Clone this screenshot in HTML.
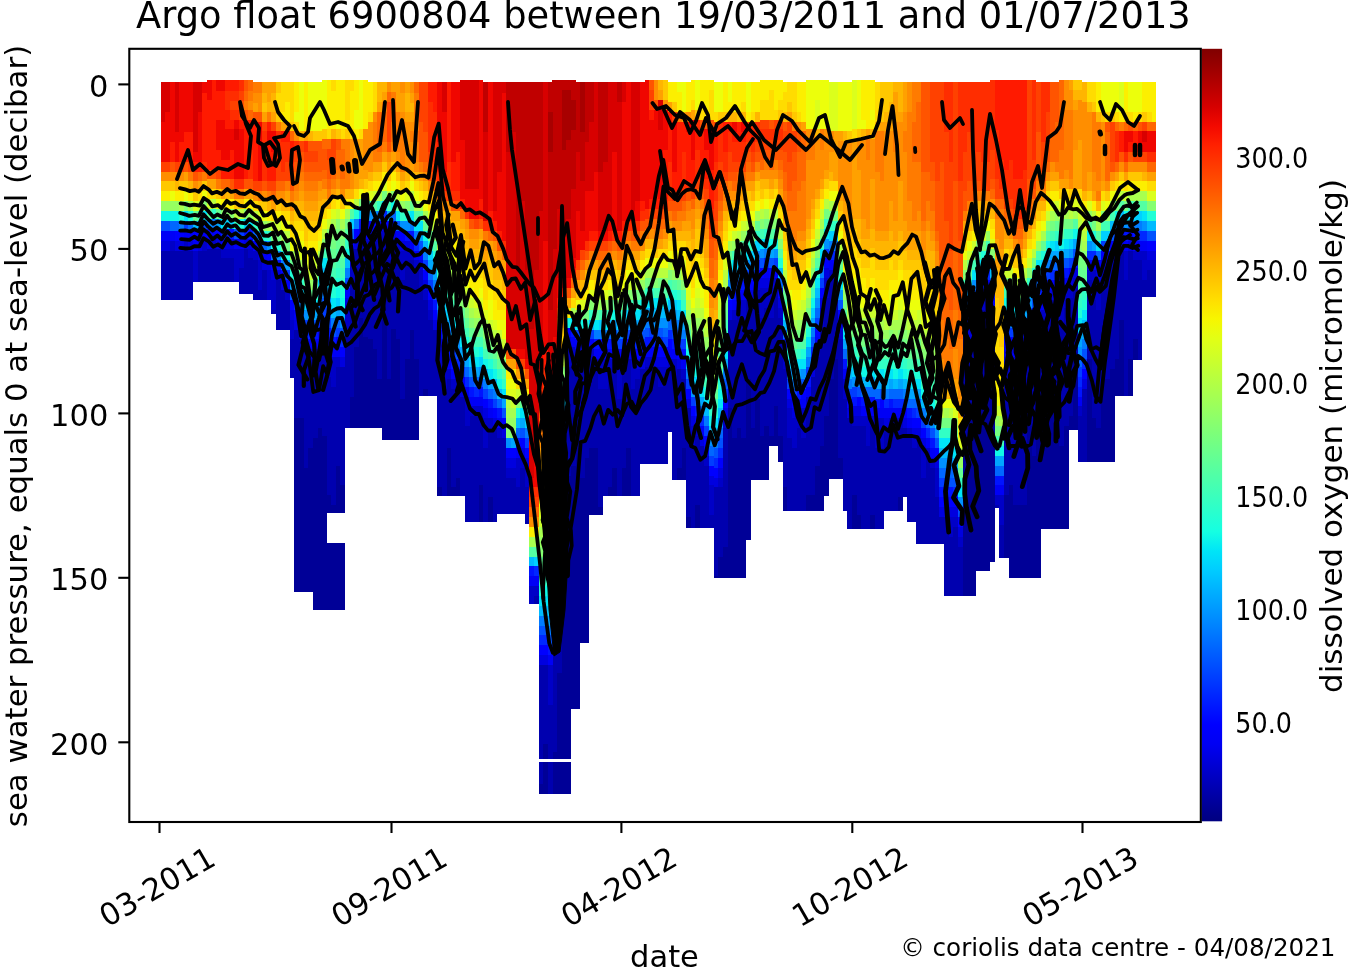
<!DOCTYPE html>
<html><head><meta charset="utf-8"><title>Argo float 6900804</title>
<style>
html,body{margin:0;padding:0;background:#fff;}
body{width:1350px;height:971px;position:relative;overflow:hidden;}
svg text{font-family:"DejaVu Sans","Liberation Sans",sans-serif;fill:#000;}
</style></head><body>
<svg width="1350" height="971" viewBox="0 0 1350 971" style="position:absolute;left:0;top:0">
<defs><linearGradient id="cb" x1="0" y1="1" x2="0" y2="0">
<stop offset="0.000" stop-color="#000080"/>
<stop offset="0.025" stop-color="#00009c"/>
<stop offset="0.050" stop-color="#0000b9"/>
<stop offset="0.075" stop-color="#0000d6"/>
<stop offset="0.100" stop-color="#0000f3"/>
<stop offset="0.125" stop-color="#0000ff"/>
<stop offset="0.150" stop-color="#0019ff"/>
<stop offset="0.175" stop-color="#0033ff"/>
<stop offset="0.200" stop-color="#004dff"/>
<stop offset="0.225" stop-color="#0066ff"/>
<stop offset="0.250" stop-color="#0080ff"/>
<stop offset="0.275" stop-color="#0099ff"/>
<stop offset="0.300" stop-color="#00b2ff"/>
<stop offset="0.325" stop-color="#00ccff"/>
<stop offset="0.350" stop-color="#00e5f7"/>
<stop offset="0.375" stop-color="#15ffe2"/>
<stop offset="0.400" stop-color="#29ffce"/>
<stop offset="0.425" stop-color="#3effb9"/>
<stop offset="0.450" stop-color="#52ffa5"/>
<stop offset="0.475" stop-color="#67ff90"/>
<stop offset="0.500" stop-color="#7bff7b"/>
<stop offset="0.525" stop-color="#90ff67"/>
<stop offset="0.550" stop-color="#a5ff52"/>
<stop offset="0.575" stop-color="#b9ff3e"/>
<stop offset="0.600" stop-color="#ceff29"/>
<stop offset="0.625" stop-color="#e2ff15"/>
<stop offset="0.650" stop-color="#f7f600"/>
<stop offset="0.675" stop-color="#ffde00"/>
<stop offset="0.700" stop-color="#ffc600"/>
<stop offset="0.725" stop-color="#ffaf00"/>
<stop offset="0.750" stop-color="#ff9700"/>
<stop offset="0.775" stop-color="#ff8000"/>
<stop offset="0.800" stop-color="#ff6800"/>
<stop offset="0.825" stop-color="#ff5000"/>
<stop offset="0.850" stop-color="#ff3900"/>
<stop offset="0.875" stop-color="#ff2100"/>
<stop offset="0.900" stop-color="#f30900"/>
<stop offset="0.925" stop-color="#d60000"/>
<stop offset="0.950" stop-color="#b90000"/>
<stop offset="0.975" stop-color="#9c0000"/>
<stop offset="1.000" stop-color="#800000"/>
</linearGradient></defs>
<rect x="0" y="0" width="1350" height="971" fill="#fff"/>
<g shape-rendering="crispEdges">
<path fill="#000097" d="M294.3 417.6h4.76v174.4h-4.76zM298.9 417.6h4.76v174.4h-4.76zM303.5 466.9h4.76v125.1h-4.76zM308.2 447.2h4.76v144.8h-4.76zM312.8 437.3h4.76v172.7h-4.76zM317.4 427.4h4.76v182.6h-4.76zM322.0 435.3h4.76v174.7h-4.76zM326.6 494.5h4.76v18.5h-4.76zM326.6 543.0h4.76v67.0h-4.76zM331.2 504.4h4.76v8.6h-4.76zM331.2 543.0h4.76v67.0h-4.76zM335.8 464.9h4.76v48.1h-4.76zM335.8 543.0h4.76v67.0h-4.76zM340.4 484.7h4.76v28.3h-4.76zM340.4 543.0h4.76v67.0h-4.76zM349.6 395.8h4.76v32.2h-4.76zM354.2 346.5h4.76v81.5h-4.76zM358.8 316.9h4.76v111.1h-4.76zM363.4 336.6h4.76v91.4h-4.76zM368.1 338.6h4.76v89.4h-4.76zM372.7 348.5h4.76v79.5h-4.76zM377.3 378.1h4.76v49.9h-4.76zM381.9 318.9h4.76v121.1h-4.76zM386.5 378.1h4.76v61.9h-4.76zM391.1 328.8h4.76v111.2h-4.76zM395.7 338.6h4.76v101.4h-4.76zM400.3 397.8h4.76v42.2h-4.76zM404.9 358.4h4.76v81.6h-4.76zM409.5 328.8h4.76v111.2h-4.76zM414.1 358.4h4.76v81.6h-4.76zM423.3 388.0h4.76v8.0h-4.76zM437.2 486.7h4.76v9.3h-4.76zM446.4 447.2h4.76v48.8h-4.76zM451.0 486.7h4.76v9.3h-4.76zM455.6 476.8h4.76v19.2h-4.76zM478.6 484.7h4.76v37.3h-4.76zM487.9 496.5h4.76v25.5h-4.76zM538.5 782.8h4.76v11.2h-4.76zM543.2 743.3h4.76v15.2h-4.76zM543.2 761.5h4.76v32.5h-4.76zM552.4 751.2h4.76v7.3h-4.76zM552.4 761.5h4.76v32.5h-4.76zM557.0 672.2h4.76v86.3h-4.76zM557.0 761.5h4.76v32.5h-4.76zM561.6 583.4h4.76v175.1h-4.76zM561.6 761.5h4.76v32.5h-4.76zM566.2 474.8h4.76v283.7h-4.76zM566.2 761.5h4.76v32.5h-4.76zM570.8 464.9h4.76v244.1h-4.76zM575.4 447.2h4.76v261.8h-4.76zM580.0 476.8h4.76v166.2h-4.76zM584.6 457.1h4.76v185.9h-4.76zM589.2 447.2h4.76v67.8h-4.76zM593.8 447.2h4.76v67.8h-4.76zM598.4 506.4h4.76v8.6h-4.76zM607.7 486.7h4.76v9.3h-4.76zM612.3 466.9h4.76v29.1h-4.76zM621.5 466.9h4.76v29.1h-4.76zM626.1 447.2h4.76v48.8h-4.76zM676.8 466.9h4.76v13.1h-4.76zM681.4 447.2h4.76v32.8h-4.76zM686.0 516.3h4.76v11.7h-4.76zM695.2 504.4h4.76v23.6h-4.76zM713.6 575.5h4.76v2.5h-4.76zM718.3 555.8h4.76v22.2h-4.76zM722.9 545.9h4.76v32.1h-4.76zM727.5 407.7h4.76v170.3h-4.76zM732.1 437.3h4.76v140.7h-4.76zM736.7 427.4h4.76v150.6h-4.76zM741.3 437.3h4.76v140.7h-4.76zM745.9 378.1h4.76v161.9h-4.76zM750.5 427.4h4.76v52.6h-4.76zM755.1 397.8h4.76v82.2h-4.76zM759.7 435.3h4.76v44.7h-4.76zM764.3 425.4h4.76v54.6h-4.76zM768.9 435.3h4.76v10.7h-4.76zM773.5 405.7h4.76v40.3h-4.76zM778.2 435.3h4.76v26.7h-4.76zM782.8 486.7h4.76v24.3h-4.76zM805.8 494.5h4.76v16.5h-4.76zM810.4 494.5h4.76v16.5h-4.76zM815.0 464.9h4.76v46.1h-4.76zM819.6 445.2h4.76v65.8h-4.76zM824.2 415.6h4.76v80.4h-4.76zM828.8 378.1h4.76v100.9h-4.76zM833.4 358.4h4.76v120.6h-4.76zM838.1 457.1h4.76v21.9h-4.76zM851.9 494.5h4.76v34.0h-4.76zM856.5 514.3h4.76v14.2h-4.76zM870.3 514.3h4.76v14.2h-4.76zM898.0 496.5h4.76v14.5h-4.76zM962.5 447.2h4.76v148.8h-4.76zM967.1 417.6h4.76v178.4h-4.76zM971.7 437.3h4.76v158.7h-4.76zM976.3 397.8h4.76v173.2h-4.76zM980.9 407.7h4.76v163.3h-4.76zM985.5 397.8h4.76v173.2h-4.76zM990.1 395.8h4.76v166.2h-4.76zM1003.9 494.5h4.76v63.5h-4.76zM1008.5 484.7h4.76v93.3h-4.76zM1013.2 504.4h4.76v73.6h-4.76zM1017.8 504.4h4.76v73.6h-4.76zM1022.4 504.4h4.76v73.6h-4.76zM1027.0 425.4h4.76v152.6h-4.76zM1031.6 455.1h4.76v122.9h-4.76zM1036.2 397.8h4.76v180.2h-4.76zM1040.8 447.2h4.76v81.8h-4.76zM1045.4 407.7h4.76v121.3h-4.76zM1050.0 378.1h4.76v150.9h-4.76zM1054.6 417.6h4.76v111.4h-4.76zM1059.2 445.2h4.76v83.8h-4.76zM1063.8 425.4h4.76v103.6h-4.76zM1068.5 415.6h4.76v14.4h-4.76zM1073.1 356.4h4.76v73.6h-4.76zM1086.9 358.4h4.76v103.6h-4.76zM1091.5 417.6h4.76v44.4h-4.76zM1096.1 427.4h4.76v34.6h-4.76zM1100.7 348.5h4.76v113.5h-4.76zM1105.3 378.1h4.76v83.9h-4.76zM1109.9 368.2h4.76v93.8h-4.76zM1114.5 358.4h4.76v37.6h-4.76zM1119.1 318.9h4.76v77.1h-4.76zM1128.4 358.4h4.76v37.6h-4.76zM1133.0 338.6h4.76v21.4h-4.76z"/>
<path fill="#0000af" d="M160.7 249.8h4.76v50.2h-4.76zM165.3 249.8h4.76v50.2h-4.76zM169.9 249.8h4.76v50.2h-4.76zM174.5 249.8h4.76v50.2h-4.76zM179.1 249.8h4.76v50.2h-4.76zM183.7 249.8h4.76v50.2h-4.76zM188.3 249.8h4.76v50.2h-4.76zM197.6 249.8h4.76v32.2h-4.76zM202.2 249.8h4.76v32.2h-4.76zM206.8 247.8h4.76v34.2h-4.76zM211.4 247.8h4.76v34.2h-4.76zM216.0 247.8h4.76v34.2h-4.76zM220.6 257.7h4.76v24.3h-4.76zM225.2 257.7h4.76v24.3h-4.76zM229.8 257.7h4.76v24.3h-4.76zM239.0 267.5h4.76v26.5h-4.76zM243.6 247.8h4.76v46.2h-4.76zM248.2 257.7h4.76v36.3h-4.76zM252.9 259.7h4.76v40.3h-4.76zM257.5 289.3h4.76v10.7h-4.76zM262.1 269.5h4.76v30.5h-4.76zM266.7 299.1h4.76v0.9h-4.76zM271.3 309.0h4.76v5.0h-4.76zM275.9 279.4h4.76v50.6h-4.76zM280.5 289.3h4.76v40.7h-4.76zM285.1 299.1h4.76v30.9h-4.76zM289.7 338.6h4.76v39.4h-4.76zM294.3 328.8h4.76v89.5h-4.76zM298.9 338.6h4.76v79.7h-4.76zM303.5 348.5h4.76v119.1h-4.76zM308.2 358.4h4.76v89.5h-4.76zM312.8 358.4h4.76v79.7h-4.76zM317.4 348.5h4.76v79.7h-4.76zM322.0 346.5h4.76v89.5h-4.76zM326.6 376.1h4.76v119.1h-4.76zM331.2 386.0h4.76v119.1h-4.76zM335.8 366.2h4.76v99.4h-4.76zM340.4 366.2h4.76v119.1h-4.76zM345.0 336.6h4.76v91.4h-4.76zM349.6 277.4h4.76v119.1h-4.76zM354.2 247.8h4.76v99.4h-4.76zM358.8 237.9h4.76v79.7h-4.76zM363.4 247.8h4.76v89.5h-4.76zM368.1 239.9h4.76v99.4h-4.76zM372.7 239.9h4.76v109.3h-4.76zM377.3 259.7h4.76v119.1h-4.76zM381.9 239.9h4.76v79.7h-4.76zM386.5 259.7h4.76v119.1h-4.76zM391.1 239.9h4.76v89.5h-4.76zM395.7 249.8h4.76v89.5h-4.76zM400.3 279.4h4.76v119.1h-4.76zM404.9 259.7h4.76v99.4h-4.76zM409.5 259.7h4.76v69.8h-4.76zM414.1 269.5h4.76v89.5h-4.76zM418.7 289.3h4.76v106.7h-4.76zM423.3 299.1h4.76v89.5h-4.76zM428.0 318.9h4.76v77.1h-4.76zM432.6 328.8h4.76v67.2h-4.76zM437.2 368.2h4.76v119.1h-4.76zM441.8 388.0h4.76v108.0h-4.76zM446.4 378.1h4.76v69.8h-4.76zM451.0 388.0h4.76v99.4h-4.76zM455.6 388.0h4.76v89.5h-4.76zM460.2 395.8h4.76v100.2h-4.76zM464.8 425.4h4.76v96.6h-4.76zM469.4 415.6h4.76v106.4h-4.76zM474.0 415.6h4.76v106.4h-4.76zM478.6 415.6h4.76v69.8h-4.76zM483.3 447.2h4.76v74.8h-4.76zM487.9 427.4h4.76v69.8h-4.76zM492.5 427.4h4.76v94.6h-4.76zM497.1 437.3h4.76v76.7h-4.76zM501.7 437.3h4.76v76.7h-4.76zM506.3 476.8h4.76v37.2h-4.76zM510.9 476.8h4.76v37.2h-4.76zM515.5 486.7h4.76v27.3h-4.76zM520.1 466.9h4.76v47.1h-4.76zM524.7 486.7h4.76v37.3h-4.76zM533.9 595.2h4.76v8.8h-4.76zM538.5 664.3h4.76v94.2h-4.76zM538.5 761.5h4.76v22.0h-4.76zM543.2 664.3h4.76v79.7h-4.76zM547.8 703.8h4.76v54.7h-4.76zM547.8 761.5h4.76v32.5h-4.76zM552.4 642.6h4.76v109.3h-4.76zM557.0 553.8h4.76v119.1h-4.76zM561.6 464.9h4.76v119.1h-4.76zM566.2 366.2h4.76v109.3h-4.76zM570.8 356.4h4.76v109.3h-4.76zM575.4 358.4h4.76v89.5h-4.76zM580.0 358.4h4.76v119.1h-4.76zM584.6 358.4h4.76v99.4h-4.76zM589.2 358.4h4.76v89.5h-4.76zM593.8 368.2h4.76v79.7h-4.76zM598.4 388.0h4.76v119.1h-4.76zM603.1 388.0h4.76v108.0h-4.76zM607.7 368.2h4.76v119.1h-4.76zM612.3 358.4h4.76v109.3h-4.76zM616.9 397.8h4.76v98.2h-4.76zM621.5 368.2h4.76v99.4h-4.76zM626.1 358.4h4.76v89.5h-4.76zM630.7 388.0h4.76v108.0h-4.76zM635.3 378.1h4.76v117.9h-4.76zM639.9 368.2h4.76v95.8h-4.76zM644.5 366.2h4.76v97.8h-4.76zM649.1 366.2h4.76v97.8h-4.76zM653.7 366.2h4.76v97.8h-4.76zM658.3 386.0h4.76v78.0h-4.76zM663.0 376.1h4.76v87.9h-4.76zM667.6 368.2h4.76v63.8h-4.76zM672.2 378.1h4.76v101.9h-4.76zM676.8 368.2h4.76v99.4h-4.76zM681.4 378.1h4.76v69.8h-4.76zM686.0 407.7h4.76v109.3h-4.76zM690.6 445.2h4.76v82.8h-4.76zM695.2 435.3h4.76v69.8h-4.76zM699.8 445.2h4.76v82.8h-4.76zM704.4 464.9h4.76v63.1h-4.76zM709.0 514.3h4.76v13.7h-4.76zM713.6 486.7h4.76v89.5h-4.76zM718.3 486.7h4.76v69.8h-4.76zM722.9 427.4h4.76v119.1h-4.76zM727.5 318.9h4.76v89.5h-4.76zM732.1 318.9h4.76v119.1h-4.76zM736.7 309.0h4.76v119.1h-4.76zM741.3 318.9h4.76v119.1h-4.76zM745.9 299.1h4.76v79.7h-4.76zM750.5 309.0h4.76v119.1h-4.76zM755.1 289.3h4.76v109.3h-4.76zM759.7 316.9h4.76v119.1h-4.76zM764.3 307.0h4.76v119.1h-4.76zM768.9 316.9h4.76v119.1h-4.76zM773.5 287.3h4.76v119.1h-4.76zM778.2 316.9h4.76v119.1h-4.76zM782.8 368.2h4.76v119.1h-4.76zM787.4 437.3h4.76v73.7h-4.76zM792.0 447.2h4.76v63.8h-4.76zM796.6 427.4h4.76v83.6h-4.76zM801.2 437.3h4.76v73.7h-4.76zM805.8 405.7h4.76v89.5h-4.76zM810.4 376.1h4.76v119.1h-4.76zM815.0 356.4h4.76v109.3h-4.76zM819.6 326.8h4.76v119.1h-4.76zM824.2 297.1h4.76v119.1h-4.76zM828.8 279.4h4.76v99.4h-4.76zM833.4 279.4h4.76v79.7h-4.76zM838.1 338.6h4.76v119.1h-4.76zM842.7 397.8h4.76v113.2h-4.76zM847.3 417.6h4.76v110.9h-4.76zM851.9 425.4h4.76v69.8h-4.76zM856.5 425.4h4.76v89.5h-4.76zM861.1 425.4h4.76v103.1h-4.76zM865.7 445.2h4.76v83.3h-4.76zM870.3 425.4h4.76v89.5h-4.76zM874.9 447.2h4.76v81.3h-4.76zM879.5 447.2h4.76v81.3h-4.76zM884.1 427.4h4.76v83.6h-4.76zM888.7 427.4h4.76v83.6h-4.76zM893.4 427.4h4.76v83.6h-4.76zM898.0 427.4h4.76v69.8h-4.76zM902.6 427.4h4.76v69.6h-4.76zM907.2 437.3h4.76v84.7h-4.76zM911.8 447.2h4.76v74.8h-4.76zM916.4 437.3h4.76v106.7h-4.76zM921.0 476.8h4.76v67.2h-4.76zM925.6 457.1h4.76v86.9h-4.76zM930.2 466.9h4.76v77.1h-4.76zM934.8 496.5h4.76v47.5h-4.76zM939.4 516.3h4.76v27.7h-4.76zM944.0 516.3h4.76v79.7h-4.76zM948.6 536.0h4.76v60.0h-4.76zM953.3 526.1h4.76v69.9h-4.76zM957.9 545.9h4.76v50.1h-4.76zM962.5 348.5h4.76v99.4h-4.76zM967.1 338.6h4.76v79.7h-4.76zM971.7 328.8h4.76v109.3h-4.76zM976.3 309.0h4.76v89.5h-4.76zM980.9 309.0h4.76v99.4h-4.76zM985.5 299.1h4.76v99.4h-4.76zM990.1 316.9h4.76v79.7h-4.76zM994.7 504.4h4.76v3.6h-4.76zM999.3 524.1h4.76v33.9h-4.76zM1003.9 386.0h4.76v109.3h-4.76zM1008.5 366.2h4.76v119.1h-4.76zM1013.2 386.0h4.76v119.1h-4.76zM1017.8 386.0h4.76v119.1h-4.76zM1022.4 386.0h4.76v119.1h-4.76zM1027.0 346.5h4.76v79.7h-4.76zM1031.6 346.5h4.76v109.3h-4.76zM1036.2 318.9h4.76v79.7h-4.76zM1040.8 328.8h4.76v119.1h-4.76zM1045.4 309.0h4.76v99.4h-4.76zM1050.0 299.1h4.76v79.7h-4.76zM1054.6 309.0h4.76v109.3h-4.76zM1059.2 326.8h4.76v119.1h-4.76zM1063.8 307.0h4.76v119.1h-4.76zM1068.5 297.1h4.76v119.1h-4.76zM1073.1 287.3h4.76v69.8h-4.76zM1077.7 415.6h4.76v46.4h-4.76zM1082.3 388.0h4.76v74.0h-4.76zM1086.9 279.4h4.76v79.7h-4.76zM1091.5 299.1h4.76v119.1h-4.76zM1096.1 309.0h4.76v119.1h-4.76zM1100.7 269.5h4.76v79.7h-4.76zM1105.3 269.5h4.76v109.3h-4.76zM1109.9 259.7h4.76v109.3h-4.76zM1114.5 259.7h4.76v99.4h-4.76zM1119.1 249.8h4.76v69.8h-4.76zM1123.7 279.4h4.76v116.6h-4.76zM1128.4 249.8h4.76v109.3h-4.76zM1133.0 259.7h4.76v79.7h-4.76zM1137.6 259.7h4.76v100.3h-4.76zM1142.2 279.4h4.76v17.6h-4.76zM1146.8 269.5h4.76v27.5h-4.76zM1151.4 269.5h4.76v27.5h-4.76z"/>
<path fill="#0000c7" d="M169.9 239.9h4.76v10.6h-4.76zM183.7 239.9h4.76v10.6h-4.76zM193.0 249.8h4.76v32.2h-4.76zM202.2 239.9h4.76v10.6h-4.76zM211.4 237.9h4.76v10.6h-4.76zM220.6 247.8h4.76v10.6h-4.76zM225.2 247.8h4.76v10.6h-4.76zM229.8 247.8h4.76v10.6h-4.76zM234.4 247.8h4.76v34.2h-4.76zM239.0 247.8h4.76v20.4h-4.76zM248.2 247.8h4.76v10.6h-4.76zM252.9 249.8h4.76v10.6h-4.76zM257.5 259.7h4.76v30.3h-4.76zM266.7 269.5h4.76v30.3h-4.76zM271.3 279.4h4.76v30.3h-4.76zM285.1 289.3h4.76v10.6h-4.76zM289.7 318.9h4.76v20.4h-4.76zM308.2 348.5h4.76v10.6h-4.76zM312.8 348.5h4.76v10.6h-4.76zM326.6 356.4h4.76v20.4h-4.76zM331.2 356.4h4.76v30.3h-4.76zM335.8 356.4h4.76v10.6h-4.76zM345.0 307.0h4.76v30.3h-4.76zM349.6 257.7h4.76v20.4h-4.76zM363.4 237.9h4.76v10.6h-4.76zM377.3 239.9h4.76v20.4h-4.76zM381.9 230.0h4.76v10.6h-4.76zM386.5 239.9h4.76v20.4h-4.76zM395.7 239.9h4.76v10.6h-4.76zM400.3 249.8h4.76v30.3h-4.76zM404.9 249.8h4.76v10.6h-4.76zM409.5 249.8h4.76v10.6h-4.76zM414.1 259.7h4.76v10.6h-4.76zM418.7 269.5h4.76v20.4h-4.76zM423.3 289.3h4.76v10.6h-4.76zM428.0 309.0h4.76v10.6h-4.76zM437.2 348.5h4.76v20.4h-4.76zM441.8 358.4h4.76v30.3h-4.76zM446.4 368.2h4.76v10.6h-4.76zM451.0 378.1h4.76v10.6h-4.76zM464.8 395.8h4.76v30.3h-4.76zM469.4 405.7h4.76v10.6h-4.76zM474.0 405.7h4.76v10.6h-4.76zM478.6 405.7h4.76v10.6h-4.76zM483.3 417.6h4.76v30.3h-4.76zM487.9 417.6h4.76v10.6h-4.76zM497.1 427.4h4.76v10.6h-4.76zM506.3 466.9h4.76v10.6h-4.76zM510.9 466.9h4.76v10.6h-4.76zM515.5 457.1h4.76v30.3h-4.76zM520.1 457.1h4.76v10.6h-4.76zM524.7 466.9h4.76v20.4h-4.76zM529.3 585.4h4.76v18.6h-4.76zM533.9 585.4h4.76v10.6h-4.76zM547.8 664.3h4.76v40.2h-4.76zM552.4 622.8h4.76v20.4h-4.76zM557.0 543.9h4.76v10.6h-4.76zM561.6 445.2h4.76v20.4h-4.76zM566.2 346.5h4.76v20.4h-4.76zM570.8 346.5h4.76v10.6h-4.76zM575.4 348.5h4.76v10.6h-4.76zM589.2 348.5h4.76v10.6h-4.76zM593.8 358.4h4.76v10.6h-4.76zM598.4 358.4h4.76v30.3h-4.76zM603.1 358.4h4.76v30.3h-4.76zM607.7 358.4h4.76v10.6h-4.76zM616.9 368.2h4.76v30.3h-4.76zM621.5 358.4h4.76v10.6h-4.76zM630.7 358.4h4.76v30.3h-4.76zM635.3 368.2h4.76v10.6h-4.76zM644.5 356.4h4.76v10.6h-4.76zM649.1 356.4h4.76v10.6h-4.76zM658.3 366.2h4.76v20.4h-4.76zM663.0 366.2h4.76v10.6h-4.76zM667.6 358.4h4.76v10.6h-4.76zM672.2 358.4h4.76v20.4h-4.76zM681.4 368.2h4.76v10.6h-4.76zM690.6 425.4h4.76v20.4h-4.76zM695.2 425.4h4.76v10.6h-4.76zM704.4 455.1h4.76v10.6h-4.76zM709.0 484.7h4.76v30.3h-4.76zM718.3 476.8h4.76v10.6h-4.76zM722.9 417.6h4.76v10.6h-4.76zM732.1 309.0h4.76v10.6h-4.76zM741.3 299.1h4.76v20.4h-4.76zM750.5 299.1h4.76v10.6h-4.76zM759.7 287.3h4.76v30.3h-4.76zM764.3 287.3h4.76v20.4h-4.76zM768.9 287.3h4.76v30.3h-4.76zM773.5 277.4h4.76v10.6h-4.76zM778.2 307.0h4.76v10.6h-4.76zM782.8 358.4h4.76v10.6h-4.76zM787.4 407.7h4.76v30.3h-4.76zM792.0 417.6h4.76v30.3h-4.76zM796.6 407.7h4.76v20.4h-4.76zM801.2 407.7h4.76v30.3h-4.76zM805.8 395.8h4.76v10.6h-4.76zM815.0 346.5h4.76v10.6h-4.76zM819.6 307.0h4.76v20.4h-4.76zM824.2 277.4h4.76v20.4h-4.76zM828.8 269.5h4.76v10.6h-4.76zM833.4 269.5h4.76v10.6h-4.76zM838.1 328.8h4.76v10.6h-4.76zM842.7 378.1h4.76v20.4h-4.76zM851.9 415.6h4.76v10.6h-4.76zM856.5 415.6h4.76v10.6h-4.76zM861.1 415.6h4.76v10.6h-4.76zM865.7 415.6h4.76v30.3h-4.76zM870.3 415.6h4.76v10.6h-4.76zM874.9 417.6h4.76v30.3h-4.76zM879.5 417.6h4.76v30.3h-4.76zM888.7 417.6h4.76v10.6h-4.76zM893.4 417.6h4.76v10.6h-4.76zM898.0 417.6h4.76v10.6h-4.76zM907.2 427.4h4.76v10.6h-4.76zM911.8 437.3h4.76v10.6h-4.76zM921.0 447.2h4.76v30.3h-4.76zM925.6 447.2h4.76v10.6h-4.76zM930.2 457.1h4.76v10.6h-4.76zM934.8 466.9h4.76v30.3h-4.76zM948.6 516.3h4.76v20.4h-4.76zM953.3 516.3h4.76v10.6h-4.76zM957.9 536.0h4.76v10.6h-4.76zM971.7 318.9h4.76v10.6h-4.76zM980.9 299.1h4.76v10.6h-4.76zM985.5 289.3h4.76v10.6h-4.76zM990.1 307.0h4.76v10.6h-4.76zM994.7 494.5h4.76v10.6h-4.76zM999.3 494.5h4.76v30.3h-4.76zM1003.9 356.4h4.76v30.3h-4.76zM1008.5 356.4h4.76v10.6h-4.76zM1013.2 356.4h4.76v30.3h-4.76zM1017.8 356.4h4.76v30.3h-4.76zM1022.4 346.5h4.76v40.2h-4.76zM1027.0 336.6h4.76v10.6h-4.76zM1031.6 326.8h4.76v20.4h-4.76zM1040.8 309.0h4.76v20.4h-4.76zM1045.4 299.1h4.76v10.6h-4.76zM1054.6 299.1h4.76v10.6h-4.76zM1059.2 297.1h4.76v30.3h-4.76zM1063.8 287.3h4.76v20.4h-4.76zM1068.5 287.3h4.76v10.6h-4.76zM1073.1 277.4h4.76v10.6h-4.76zM1077.7 405.7h4.76v10.6h-4.76zM1086.9 269.5h4.76v10.6h-4.76zM1091.5 269.5h4.76v30.3h-4.76zM1096.1 279.4h4.76v30.3h-4.76zM1100.7 259.7h4.76v10.6h-4.76zM1114.5 249.8h4.76v10.6h-4.76zM1123.7 249.8h4.76v30.3h-4.76zM1133.0 249.8h4.76v10.6h-4.76zM1137.6 249.8h4.76v10.6h-4.76zM1142.2 249.8h4.76v30.3h-4.76zM1146.8 259.7h4.76v10.6h-4.76zM1151.4 259.7h4.76v10.6h-4.76z"/>
<path fill="#0000df" d="M160.7 239.9h4.76v10.6h-4.76zM165.3 239.9h4.76v10.6h-4.76zM174.5 239.9h4.76v10.6h-4.76zM179.1 239.9h4.76v10.6h-4.76zM188.3 239.9h4.76v10.6h-4.76zM197.6 239.9h4.76v10.6h-4.76zM206.8 237.9h4.76v10.6h-4.76zM216.0 237.9h4.76v10.6h-4.76zM225.2 237.9h4.76v10.6h-4.76zM229.8 237.9h4.76v10.6h-4.76zM243.6 237.9h4.76v10.6h-4.76zM248.2 237.9h4.76v10.6h-4.76zM257.5 249.8h4.76v10.6h-4.76zM262.1 259.7h4.76v10.6h-4.76zM266.7 259.7h4.76v10.6h-4.76zM271.3 269.5h4.76v10.6h-4.76zM275.9 269.5h4.76v10.6h-4.76zM280.5 279.4h4.76v10.6h-4.76zM289.7 309.0h4.76v10.6h-4.76zM294.3 318.9h4.76v10.6h-4.76zM298.9 328.8h4.76v10.6h-4.76zM303.5 338.6h4.76v10.6h-4.76zM317.4 338.6h4.76v10.6h-4.76zM322.0 336.6h4.76v10.6h-4.76zM326.6 346.5h4.76v10.6h-4.76zM340.4 356.4h4.76v10.6h-4.76zM345.0 297.1h4.76v10.6h-4.76zM349.6 247.8h4.76v10.6h-4.76zM354.2 237.9h4.76v10.6h-4.76zM358.8 228.0h4.76v10.6h-4.76zM368.1 230.0h4.76v10.6h-4.76zM372.7 230.0h4.76v10.6h-4.76zM377.3 230.0h4.76v10.6h-4.76zM386.5 230.0h4.76v10.6h-4.76zM391.1 230.0h4.76v10.6h-4.76zM400.3 239.9h4.76v10.6h-4.76zM404.9 239.9h4.76v10.6h-4.76zM418.7 259.7h4.76v10.6h-4.76zM423.3 279.4h4.76v10.6h-4.76zM428.0 299.1h4.76v10.6h-4.76zM432.6 318.9h4.76v10.6h-4.76zM437.2 338.6h4.76v10.6h-4.76zM455.6 378.1h4.76v10.6h-4.76zM460.2 386.0h4.76v10.6h-4.76zM483.3 407.7h4.76v10.6h-4.76zM492.5 417.6h4.76v10.6h-4.76zM501.7 427.4h4.76v10.6h-4.76zM506.3 457.1h4.76v10.6h-4.76zM510.9 457.1h4.76v10.6h-4.76zM520.1 447.2h4.76v10.6h-4.76zM524.7 457.1h4.76v10.6h-4.76zM538.5 654.5h4.76v10.6h-4.76zM543.2 654.5h4.76v10.6h-4.76zM561.6 435.3h4.76v10.6h-4.76zM566.2 336.6h4.76v10.6h-4.76zM580.0 348.5h4.76v10.6h-4.76zM584.6 348.5h4.76v10.6h-4.76zM612.3 348.5h4.76v10.6h-4.76zM616.9 358.4h4.76v10.6h-4.76zM626.1 348.5h4.76v10.6h-4.76zM635.3 358.4h4.76v10.6h-4.76zM639.9 358.4h4.76v10.6h-4.76zM653.7 356.4h4.76v10.6h-4.76zM658.3 356.4h4.76v10.6h-4.76zM663.0 356.4h4.76v10.6h-4.76zM676.8 358.4h4.76v10.6h-4.76zM686.0 397.8h4.76v10.6h-4.76zM690.6 415.6h4.76v10.6h-4.76zM699.8 435.3h4.76v10.6h-4.76zM709.0 474.8h4.76v10.6h-4.76zM713.6 476.8h4.76v10.6h-4.76zM718.3 466.9h4.76v10.6h-4.76zM722.9 407.7h4.76v10.6h-4.76zM727.5 309.0h4.76v10.6h-4.76zM736.7 299.1h4.76v10.6h-4.76zM745.9 289.3h4.76v10.6h-4.76zM750.5 289.3h4.76v10.6h-4.76zM755.1 279.4h4.76v10.6h-4.76zM759.7 277.4h4.76v10.6h-4.76zM764.3 277.4h4.76v10.6h-4.76zM768.9 277.4h4.76v10.6h-4.76zM778.2 297.1h4.76v10.6h-4.76zM787.4 397.8h4.76v10.6h-4.76zM792.0 407.7h4.76v10.6h-4.76zM810.4 366.2h4.76v10.6h-4.76zM819.6 297.1h4.76v10.6h-4.76zM824.2 267.5h4.76v10.6h-4.76zM838.1 318.9h4.76v10.6h-4.76zM847.3 407.7h4.76v10.6h-4.76zM851.9 405.7h4.76v10.6h-4.76zM856.5 405.7h4.76v10.6h-4.76zM884.1 417.6h4.76v10.6h-4.76zM902.6 417.6h4.76v10.6h-4.76zM911.8 427.4h4.76v10.6h-4.76zM916.4 427.4h4.76v10.6h-4.76zM921.0 437.3h4.76v10.6h-4.76zM934.8 457.1h4.76v10.6h-4.76zM939.4 506.4h4.76v10.6h-4.76zM944.0 506.4h4.76v10.6h-4.76zM948.6 506.4h4.76v10.6h-4.76zM953.3 506.4h4.76v10.6h-4.76zM957.9 526.1h4.76v10.6h-4.76zM962.5 338.6h4.76v10.6h-4.76zM967.1 328.8h4.76v10.6h-4.76zM971.7 309.0h4.76v10.6h-4.76zM976.3 299.1h4.76v10.6h-4.76zM1003.9 346.5h4.76v10.6h-4.76zM1008.5 346.5h4.76v10.6h-4.76zM1031.6 316.9h4.76v10.6h-4.76zM1036.2 309.0h4.76v10.6h-4.76zM1050.0 289.3h4.76v10.6h-4.76zM1054.6 289.3h4.76v10.6h-4.76zM1059.2 287.3h4.76v10.6h-4.76zM1068.5 277.4h4.76v10.6h-4.76zM1073.1 267.5h4.76v10.6h-4.76zM1082.3 378.1h4.76v10.6h-4.76zM1096.1 269.5h4.76v10.6h-4.76zM1105.3 259.7h4.76v10.6h-4.76zM1109.9 249.8h4.76v10.6h-4.76zM1114.5 239.9h4.76v10.6h-4.76zM1119.1 239.9h4.76v10.6h-4.76zM1128.4 239.9h4.76v10.6h-4.76zM1146.8 249.8h4.76v10.6h-4.76zM1151.4 249.8h4.76v10.6h-4.76z"/>
<path fill="#0000f6" d="M160.7 230.0h4.76v10.6h-4.76zM165.3 230.0h4.76v10.6h-4.76zM169.9 230.0h4.76v10.6h-4.76zM183.7 230.0h4.76v10.6h-4.76zM188.3 230.0h4.76v10.6h-4.76zM193.0 239.9h4.76v10.6h-4.76zM202.2 230.0h4.76v10.6h-4.76zM211.4 228.0h4.76v10.6h-4.76zM220.6 237.9h4.76v10.6h-4.76zM234.4 237.9h4.76v10.6h-4.76zM239.0 237.9h4.76v10.6h-4.76zM252.9 239.9h4.76v10.6h-4.76zM262.1 249.8h4.76v10.6h-4.76zM285.1 279.4h4.76v10.6h-4.76zM294.3 309.0h4.76v10.6h-4.76zM308.2 338.6h4.76v10.6h-4.76zM312.8 338.6h4.76v10.6h-4.76zM331.2 346.5h4.76v10.6h-4.76zM335.8 346.5h4.76v10.6h-4.76zM363.4 228.0h4.76v10.6h-4.76zM381.9 220.2h4.76v10.6h-4.76zM391.1 220.2h4.76v10.6h-4.76zM395.7 230.0h4.76v10.6h-4.76zM409.5 239.9h4.76v10.6h-4.76zM414.1 249.8h4.76v10.6h-4.76zM441.8 348.5h4.76v10.6h-4.76zM446.4 358.4h4.76v10.6h-4.76zM451.0 368.2h4.76v10.6h-4.76zM464.8 386.0h4.76v10.6h-4.76zM469.4 395.8h4.76v10.6h-4.76zM474.0 395.8h4.76v10.6h-4.76zM478.6 395.8h4.76v10.6h-4.76zM487.9 407.7h4.76v10.6h-4.76zM497.1 417.6h4.76v10.6h-4.76zM515.5 447.2h4.76v10.6h-4.76zM529.3 575.5h4.76v10.6h-4.76zM533.9 575.5h4.76v10.6h-4.76zM547.8 654.5h4.76v10.6h-4.76zM552.4 613.0h4.76v10.6h-4.76zM557.0 534.0h4.76v10.6h-4.76zM570.8 336.6h4.76v10.6h-4.76zM575.4 338.6h4.76v10.6h-4.76zM580.0 338.6h4.76v10.6h-4.76zM589.2 338.6h4.76v10.6h-4.76zM593.8 348.5h4.76v10.6h-4.76zM598.4 348.5h4.76v10.6h-4.76zM603.1 348.5h4.76v10.6h-4.76zM607.7 348.5h4.76v10.6h-4.76zM616.9 348.5h4.76v10.6h-4.76zM621.5 348.5h4.76v10.6h-4.76zM630.7 348.5h4.76v10.6h-4.76zM639.9 348.5h4.76v10.6h-4.76zM644.5 346.5h4.76v10.6h-4.76zM649.1 346.5h4.76v10.6h-4.76zM667.6 348.5h4.76v10.6h-4.76zM672.2 348.5h4.76v10.6h-4.76zM681.4 358.4h4.76v10.6h-4.76zM695.2 415.6h4.76v10.6h-4.76zM699.8 425.4h4.76v10.6h-4.76zM704.4 445.2h4.76v10.6h-4.76zM732.1 299.1h4.76v10.6h-4.76zM741.3 289.3h4.76v10.6h-4.76zM755.1 269.5h4.76v10.6h-4.76zM764.3 267.5h4.76v10.6h-4.76zM773.5 267.5h4.76v10.6h-4.76zM782.8 348.5h4.76v10.6h-4.76zM796.6 397.8h4.76v10.6h-4.76zM801.2 397.8h4.76v10.6h-4.76zM805.8 386.0h4.76v10.6h-4.76zM815.0 336.6h4.76v10.6h-4.76zM828.8 259.7h4.76v10.6h-4.76zM833.4 259.7h4.76v10.6h-4.76zM842.7 368.2h4.76v10.6h-4.76zM861.1 405.7h4.76v10.6h-4.76zM865.7 405.7h4.76v10.6h-4.76zM870.3 405.7h4.76v10.6h-4.76zM874.9 407.7h4.76v10.6h-4.76zM879.5 407.7h4.76v10.6h-4.76zM884.1 407.7h4.76v10.6h-4.76zM888.7 407.7h4.76v10.6h-4.76zM893.4 407.7h4.76v10.6h-4.76zM898.0 407.7h4.76v10.6h-4.76zM907.2 417.6h4.76v10.6h-4.76zM925.6 437.3h4.76v10.6h-4.76zM930.2 447.2h4.76v10.6h-4.76zM980.9 289.3h4.76v10.6h-4.76zM985.5 279.4h4.76v10.6h-4.76zM990.1 297.1h4.76v10.6h-4.76zM994.7 484.7h4.76v10.6h-4.76zM999.3 484.7h4.76v10.6h-4.76zM1013.2 346.5h4.76v10.6h-4.76zM1017.8 346.5h4.76v10.6h-4.76zM1022.4 336.6h4.76v10.6h-4.76zM1027.0 326.8h4.76v10.6h-4.76zM1036.2 299.1h4.76v10.6h-4.76zM1040.8 299.1h4.76v10.6h-4.76zM1045.4 289.3h4.76v10.6h-4.76zM1054.6 279.4h4.76v10.6h-4.76zM1063.8 277.4h4.76v10.6h-4.76zM1077.7 395.8h4.76v10.6h-4.76zM1086.9 259.7h4.76v10.6h-4.76zM1091.5 259.7h4.76v10.6h-4.76zM1100.7 249.8h4.76v10.6h-4.76zM1105.3 249.8h4.76v10.6h-4.76zM1109.9 239.9h4.76v10.6h-4.76zM1123.7 239.9h4.76v10.6h-4.76zM1133.0 239.9h4.76v10.6h-4.76zM1137.6 239.9h4.76v10.6h-4.76zM1142.2 239.9h4.76v10.6h-4.76z"/>
<path fill="#0000ff" d="M174.5 230.0h4.76v10.6h-4.76zM179.1 230.0h4.76v10.6h-4.76zM193.0 230.0h4.76v10.6h-4.76zM197.6 230.0h4.76v10.6h-4.76zM206.8 228.0h4.76v10.6h-4.76zM216.0 228.0h4.76v10.6h-4.76zM257.5 239.9h4.76v10.6h-4.76zM266.7 249.8h4.76v10.6h-4.76zM271.3 259.7h4.76v10.6h-4.76zM280.5 269.5h4.76v10.6h-4.76zM289.7 299.1h4.76v10.6h-4.76zM298.9 318.9h4.76v10.6h-4.76zM303.5 328.8h4.76v10.6h-4.76zM317.4 328.8h4.76v10.6h-4.76zM322.0 326.8h4.76v10.6h-4.76zM326.6 336.6h4.76v10.6h-4.76zM335.8 336.6h4.76v10.6h-4.76zM340.4 346.5h4.76v10.6h-4.76zM345.0 287.3h4.76v10.6h-4.76zM349.6 237.9h4.76v10.6h-4.76zM354.2 228.0h4.76v10.6h-4.76zM368.1 220.2h4.76v10.6h-4.76zM372.7 220.2h4.76v10.6h-4.76zM377.3 220.2h4.76v10.6h-4.76zM386.5 220.2h4.76v10.6h-4.76zM400.3 230.0h4.76v10.6h-4.76zM418.7 249.8h4.76v10.6h-4.76zM423.3 269.5h4.76v10.6h-4.76zM428.0 289.3h4.76v10.6h-4.76zM432.6 309.0h4.76v10.6h-4.76zM437.2 328.8h4.76v10.6h-4.76zM441.8 338.6h4.76v10.6h-4.76zM455.6 368.2h4.76v10.6h-4.76zM460.2 376.1h4.76v10.6h-4.76zM483.3 397.8h4.76v10.6h-4.76zM492.5 407.7h4.76v10.6h-4.76zM501.7 417.6h4.76v10.6h-4.76zM506.3 447.2h4.76v10.6h-4.76zM510.9 447.2h4.76v10.6h-4.76zM520.1 437.3h4.76v10.6h-4.76zM524.7 447.2h4.76v10.6h-4.76zM538.5 644.6h4.76v10.6h-4.76zM543.2 644.6h4.76v10.6h-4.76zM561.6 425.4h4.76v10.6h-4.76zM566.2 326.8h4.76v10.6h-4.76zM584.6 338.6h4.76v10.6h-4.76zM598.4 338.6h4.76v10.6h-4.76zM612.3 338.6h4.76v10.6h-4.76zM626.1 338.6h4.76v10.6h-4.76zM635.3 348.5h4.76v10.6h-4.76zM653.7 346.5h4.76v10.6h-4.76zM658.3 346.5h4.76v10.6h-4.76zM663.0 346.5h4.76v10.6h-4.76zM667.6 338.6h4.76v10.6h-4.76zM676.8 348.5h4.76v10.6h-4.76zM686.0 388.0h4.76v10.6h-4.76zM690.6 405.7h4.76v10.6h-4.76zM704.4 435.3h4.76v10.6h-4.76zM709.0 464.9h4.76v10.6h-4.76zM713.6 466.9h4.76v10.6h-4.76zM718.3 457.1h4.76v10.6h-4.76zM722.9 397.8h4.76v10.6h-4.76zM727.5 299.1h4.76v10.6h-4.76zM736.7 289.3h4.76v10.6h-4.76zM745.9 279.4h4.76v10.6h-4.76zM750.5 279.4h4.76v10.6h-4.76zM759.7 267.5h4.76v10.6h-4.76zM768.9 267.5h4.76v10.6h-4.76zM778.2 287.3h4.76v10.6h-4.76zM787.4 388.0h4.76v10.6h-4.76zM792.0 397.8h4.76v10.6h-4.76zM801.2 388.0h4.76v10.6h-4.76zM810.4 356.4h4.76v10.6h-4.76zM815.0 326.8h4.76v10.6h-4.76zM819.6 287.3h4.76v10.6h-4.76zM824.2 257.7h4.76v10.6h-4.76zM838.1 309.0h4.76v10.6h-4.76zM847.3 397.8h4.76v10.6h-4.76zM856.5 395.8h4.76v10.6h-4.76zM879.5 397.8h4.76v10.6h-4.76zM902.6 407.7h4.76v10.6h-4.76zM911.8 417.6h4.76v10.6h-4.76zM916.4 417.6h4.76v10.6h-4.76zM921.0 427.4h4.76v10.6h-4.76zM934.8 447.2h4.76v10.6h-4.76zM939.4 496.5h4.76v10.6h-4.76zM944.0 496.5h4.76v10.6h-4.76zM948.6 496.5h4.76v10.6h-4.76zM953.3 496.5h4.76v10.6h-4.76zM957.9 516.3h4.76v10.6h-4.76zM962.5 328.8h4.76v10.6h-4.76zM967.1 318.9h4.76v10.6h-4.76zM971.7 299.1h4.76v10.6h-4.76zM976.3 289.3h4.76v10.6h-4.76zM1003.9 336.6h4.76v10.6h-4.76zM1008.5 336.6h4.76v10.6h-4.76zM1031.6 307.0h4.76v10.6h-4.76zM1050.0 279.4h4.76v10.6h-4.76zM1059.2 277.4h4.76v10.6h-4.76zM1068.5 267.5h4.76v10.6h-4.76zM1082.3 368.2h4.76v10.6h-4.76zM1096.1 259.7h4.76v10.6h-4.76zM1119.1 230.0h4.76v10.6h-4.76zM1128.4 230.0h4.76v10.6h-4.76zM1146.8 239.9h4.76v10.6h-4.76zM1151.4 239.9h4.76v10.6h-4.76z"/>
<path fill="#0013ff" d="M225.2 228.0h4.76v10.6h-4.76zM229.8 228.0h4.76v10.6h-4.76zM243.6 228.0h4.76v10.6h-4.76zM248.2 228.0h4.76v10.6h-4.76zM275.9 259.7h4.76v10.6h-4.76zM312.8 328.8h4.76v10.6h-4.76zM322.0 316.9h4.76v10.6h-4.76zM326.6 326.8h4.76v10.6h-4.76zM331.2 336.6h4.76v10.6h-4.76zM358.8 218.2h4.76v10.6h-4.76zM404.9 230.0h4.76v10.6h-4.76zM409.5 230.0h4.76v10.6h-4.76zM432.6 299.1h4.76v10.6h-4.76zM446.4 348.5h4.76v10.6h-4.76zM451.0 358.4h4.76v10.6h-4.76zM469.4 386.0h4.76v10.6h-4.76zM478.6 386.0h4.76v10.6h-4.76zM487.9 397.8h4.76v10.6h-4.76zM497.1 407.7h4.76v10.6h-4.76zM515.5 437.3h4.76v10.6h-4.76zM529.3 565.6h4.76v10.6h-4.76zM547.8 644.6h4.76v10.6h-4.76zM552.4 603.1h4.76v10.6h-4.76zM557.0 524.1h4.76v10.6h-4.76zM570.8 326.8h4.76v10.6h-4.76zM593.8 338.6h4.76v10.6h-4.76zM603.1 338.6h4.76v10.6h-4.76zM607.7 338.6h4.76v10.6h-4.76zM630.7 338.6h4.76v10.6h-4.76zM644.5 336.6h4.76v10.6h-4.76zM649.1 336.6h4.76v10.6h-4.76zM672.2 338.6h4.76v10.6h-4.76zM681.4 348.5h4.76v10.6h-4.76zM695.2 405.7h4.76v10.6h-4.76zM732.1 289.3h4.76v10.6h-4.76zM741.3 279.4h4.76v10.6h-4.76zM782.8 338.6h4.76v10.6h-4.76zM796.6 388.0h4.76v10.6h-4.76zM805.8 376.1h4.76v10.6h-4.76zM842.7 358.4h4.76v10.6h-4.76zM851.9 395.8h4.76v10.6h-4.76zM861.1 395.8h4.76v10.6h-4.76zM865.7 395.8h4.76v10.6h-4.76zM870.3 395.8h4.76v10.6h-4.76zM874.9 397.8h4.76v10.6h-4.76zM888.7 397.8h4.76v10.6h-4.76zM907.2 407.7h4.76v10.6h-4.76zM930.2 437.3h4.76v10.6h-4.76zM939.4 486.7h4.76v10.6h-4.76zM944.0 486.7h4.76v10.6h-4.76zM948.6 486.7h4.76v10.6h-4.76zM980.9 279.4h4.76v10.6h-4.76zM990.1 287.3h4.76v10.6h-4.76zM994.7 474.8h4.76v10.6h-4.76zM999.3 474.8h4.76v10.6h-4.76zM1017.8 336.6h4.76v10.6h-4.76zM1022.4 326.8h4.76v10.6h-4.76zM1027.0 316.9h4.76v10.6h-4.76zM1040.8 289.3h4.76v10.6h-4.76zM1045.4 279.4h4.76v10.6h-4.76zM1063.8 267.5h4.76v10.6h-4.76zM1073.1 257.7h4.76v10.6h-4.76zM1077.7 386.0h4.76v10.6h-4.76zM1114.5 230.0h4.76v10.6h-4.76zM1123.7 230.0h4.76v10.6h-4.76zM1133.0 230.0h4.76v10.6h-4.76z"/>
<path fill="#0028ff" d="M220.6 228.0h4.76v10.6h-4.76zM294.3 299.1h4.76v10.6h-4.76zM308.2 328.8h4.76v10.6h-4.76zM317.4 318.9h4.76v10.6h-4.76zM340.4 336.6h4.76v10.6h-4.76zM363.4 218.2h4.76v10.6h-4.76zM381.9 210.3h4.76v10.6h-4.76zM414.1 239.9h4.76v10.6h-4.76zM437.2 318.9h4.76v10.6h-4.76zM455.6 358.4h4.76v10.6h-4.76zM464.8 376.1h4.76v10.6h-4.76zM474.0 386.0h4.76v10.6h-4.76zM533.9 565.6h4.76v10.6h-4.76zM538.5 634.7h4.76v10.6h-4.76zM543.2 634.7h4.76v10.6h-4.76zM621.5 338.6h4.76v10.6h-4.76zM635.3 338.6h4.76v10.6h-4.76zM639.9 338.6h4.76v10.6h-4.76zM653.7 336.6h4.76v10.6h-4.76zM658.3 336.6h4.76v10.6h-4.76zM667.6 328.8h4.76v10.6h-4.76zM676.8 338.6h4.76v10.6h-4.76zM699.8 415.6h4.76v10.6h-4.76zM713.6 457.1h4.76v10.6h-4.76zM718.3 447.2h4.76v10.6h-4.76zM722.9 388.0h4.76v10.6h-4.76zM755.1 259.7h4.76v10.6h-4.76zM764.3 257.7h4.76v10.6h-4.76zM810.4 346.5h4.76v10.6h-4.76zM828.8 249.8h4.76v10.6h-4.76zM833.4 249.8h4.76v10.6h-4.76zM884.1 397.8h4.76v10.6h-4.76zM893.4 397.8h4.76v10.6h-4.76zM898.0 397.8h4.76v10.6h-4.76zM902.6 397.8h4.76v10.6h-4.76zM911.8 407.7h4.76v10.6h-4.76zM925.6 427.4h4.76v10.6h-4.76zM953.3 486.7h4.76v10.6h-4.76zM967.1 309.0h4.76v10.6h-4.76zM985.5 269.5h4.76v10.6h-4.76zM1013.2 336.6h4.76v10.6h-4.76zM1036.2 289.3h4.76v10.6h-4.76zM1050.0 269.5h4.76v10.6h-4.76zM1054.6 269.5h4.76v10.6h-4.76zM1077.7 376.1h4.76v10.6h-4.76zM1082.3 358.4h4.76v10.6h-4.76zM1086.9 249.8h4.76v10.6h-4.76zM1091.5 249.8h4.76v10.6h-4.76zM1137.6 230.0h4.76v10.6h-4.76zM1142.2 230.0h4.76v10.6h-4.76z"/>
<path fill="#003dff" d="M183.7 220.2h4.76v10.6h-4.76zM202.2 220.2h4.76v10.6h-4.76zM239.0 228.0h4.76v10.6h-4.76zM285.1 269.5h4.76v10.6h-4.76zM298.9 309.0h4.76v10.6h-4.76zM303.5 318.9h4.76v10.6h-4.76zM322.0 307.0h4.76v10.6h-4.76zM326.6 316.9h4.76v10.6h-4.76zM335.8 326.8h4.76v10.6h-4.76zM345.0 277.4h4.76v10.6h-4.76zM423.3 259.7h4.76v10.6h-4.76zM428.0 279.4h4.76v10.6h-4.76zM441.8 328.8h4.76v10.6h-4.76zM446.4 338.6h4.76v10.6h-4.76zM451.0 348.5h4.76v10.6h-4.76zM460.2 366.2h4.76v10.6h-4.76zM483.3 388.0h4.76v10.6h-4.76zM492.5 397.8h4.76v10.6h-4.76zM524.7 437.3h4.76v10.6h-4.76zM552.4 593.2h4.76v10.6h-4.76zM557.0 514.3h4.76v10.6h-4.76zM575.4 328.8h4.76v10.6h-4.76zM589.2 328.8h4.76v10.6h-4.76zM616.9 338.6h4.76v10.6h-4.76zM626.1 328.8h4.76v10.6h-4.76zM649.1 326.8h4.76v10.6h-4.76zM663.0 336.6h4.76v10.6h-4.76zM672.2 328.8h4.76v10.6h-4.76zM681.4 338.6h4.76v10.6h-4.76zM686.0 378.1h4.76v10.6h-4.76zM690.6 395.8h4.76v10.6h-4.76zM704.4 425.4h4.76v10.6h-4.76zM709.0 455.1h4.76v10.6h-4.76zM727.5 289.3h4.76v10.6h-4.76zM736.7 279.4h4.76v10.6h-4.76zM745.9 269.5h4.76v10.6h-4.76zM750.5 269.5h4.76v10.6h-4.76zM773.5 257.7h4.76v10.6h-4.76zM787.4 378.1h4.76v10.6h-4.76zM792.0 388.0h4.76v10.6h-4.76zM805.8 366.2h4.76v10.6h-4.76zM815.0 316.9h4.76v10.6h-4.76zM819.6 277.4h4.76v10.6h-4.76zM824.2 247.8h4.76v10.6h-4.76zM847.3 388.0h4.76v10.6h-4.76zM851.9 386.0h4.76v10.6h-4.76zM916.4 407.7h4.76v10.6h-4.76zM921.0 417.6h4.76v10.6h-4.76zM939.4 476.8h4.76v10.6h-4.76zM944.0 476.8h4.76v10.6h-4.76zM962.5 318.9h4.76v10.6h-4.76zM976.3 279.4h4.76v10.6h-4.76zM1003.9 326.8h4.76v10.6h-4.76zM1008.5 326.8h4.76v10.6h-4.76zM1045.4 269.5h4.76v10.6h-4.76zM1068.5 257.7h4.76v10.6h-4.76zM1077.7 366.2h4.76v10.6h-4.76zM1100.7 239.9h4.76v10.6h-4.76z"/>
<path fill="#0052ff" d="M160.7 220.2h4.76v10.6h-4.76zM165.3 220.2h4.76v10.6h-4.76zM234.4 228.0h4.76v10.6h-4.76zM289.7 289.3h4.76v10.6h-4.76zM312.8 318.9h4.76v10.6h-4.76zM317.4 309.0h4.76v10.6h-4.76zM322.0 297.1h4.76v10.6h-4.76zM331.2 326.8h4.76v10.6h-4.76zM340.4 326.8h4.76v10.6h-4.76zM395.7 220.2h4.76v10.6h-4.76zM418.7 239.9h4.76v10.6h-4.76zM432.6 289.3h4.76v10.6h-4.76zM437.2 309.0h4.76v10.6h-4.76zM455.6 348.5h4.76v10.6h-4.76zM469.4 376.1h4.76v10.6h-4.76zM478.6 376.1h4.76v10.6h-4.76zM501.7 407.7h4.76v10.6h-4.76zM520.1 427.4h4.76v10.6h-4.76zM538.5 624.8h4.76v10.6h-4.76zM543.2 624.8h4.76v10.6h-4.76zM547.8 634.7h4.76v10.6h-4.76zM561.6 415.6h4.76v10.6h-4.76zM580.0 328.8h4.76v10.6h-4.76zM612.3 328.8h4.76v10.6h-4.76zM639.9 328.8h4.76v10.6h-4.76zM644.5 326.8h4.76v10.6h-4.76zM653.7 326.8h4.76v10.6h-4.76zM658.3 326.8h4.76v10.6h-4.76zM676.8 328.8h4.76v10.6h-4.76zM695.2 395.8h4.76v10.6h-4.76zM713.6 447.2h4.76v10.6h-4.76zM718.3 437.3h4.76v10.6h-4.76zM722.9 378.1h4.76v10.6h-4.76zM732.1 279.4h4.76v10.6h-4.76zM759.7 257.7h4.76v10.6h-4.76zM768.9 257.7h4.76v10.6h-4.76zM801.2 378.1h4.76v10.6h-4.76zM810.4 336.6h4.76v10.6h-4.76zM838.1 299.1h4.76v10.6h-4.76zM856.5 386.0h4.76v10.6h-4.76zM879.5 388.0h4.76v10.6h-4.76zM930.2 427.4h4.76v10.6h-4.76zM934.8 437.3h4.76v10.6h-4.76zM948.6 476.8h4.76v10.6h-4.76zM953.3 476.8h4.76v10.6h-4.76zM957.9 506.4h4.76v10.6h-4.76zM971.7 289.3h4.76v10.6h-4.76zM1022.4 316.9h4.76v10.6h-4.76zM1027.0 307.0h4.76v10.6h-4.76zM1031.6 297.1h4.76v10.6h-4.76zM1040.8 279.4h4.76v10.6h-4.76zM1059.2 267.5h4.76v10.6h-4.76zM1063.8 257.7h4.76v10.6h-4.76zM1073.1 247.8h4.76v10.6h-4.76zM1082.3 348.5h4.76v10.6h-4.76zM1105.3 239.9h4.76v10.6h-4.76zM1109.9 230.0h4.76v10.6h-4.76zM1119.1 220.2h4.76v10.6h-4.76zM1146.8 230.0h4.76v10.6h-4.76zM1151.4 230.0h4.76v10.6h-4.76z"/>
<path fill="#0067ff" d="M169.9 220.2h4.76v10.6h-4.76zM174.5 220.2h4.76v10.6h-4.76zM188.3 220.2h4.76v10.6h-4.76zM252.9 230.0h4.76v10.6h-4.76zM262.1 239.9h4.76v10.6h-4.76zM271.3 249.8h4.76v10.6h-4.76zM326.6 307.0h4.76v10.6h-4.76zM335.8 316.9h4.76v10.6h-4.76zM349.6 228.0h4.76v10.6h-4.76zM391.1 210.3h4.76v10.6h-4.76zM428.0 269.5h4.76v10.6h-4.76zM441.8 318.9h4.76v10.6h-4.76zM446.4 328.8h4.76v10.6h-4.76zM464.8 366.2h4.76v10.6h-4.76zM474.0 376.1h4.76v10.6h-4.76zM487.9 388.0h4.76v10.6h-4.76zM497.1 397.8h4.76v10.6h-4.76zM515.5 427.4h4.76v10.6h-4.76zM552.4 583.4h4.76v10.6h-4.76zM557.0 504.4h4.76v10.6h-4.76zM607.7 328.8h4.76v10.6h-4.76zM621.5 328.8h4.76v10.6h-4.76zM630.7 328.8h4.76v10.6h-4.76zM635.3 328.8h4.76v10.6h-4.76zM663.0 326.8h4.76v10.6h-4.76zM667.6 318.9h4.76v10.6h-4.76zM699.8 405.7h4.76v10.6h-4.76zM709.0 445.2h4.76v10.6h-4.76zM718.3 427.4h4.76v10.6h-4.76zM741.3 269.5h4.76v10.6h-4.76zM778.2 277.4h4.76v10.6h-4.76zM782.8 328.8h4.76v10.6h-4.76zM796.6 378.1h4.76v10.6h-4.76zM815.0 307.0h4.76v10.6h-4.76zM842.7 348.5h4.76v10.6h-4.76zM861.1 386.0h4.76v10.6h-4.76zM865.7 386.0h4.76v10.6h-4.76zM870.3 386.0h4.76v10.6h-4.76zM874.9 388.0h4.76v10.6h-4.76zM888.7 388.0h4.76v10.6h-4.76zM893.4 388.0h4.76v10.6h-4.76zM898.0 388.0h4.76v10.6h-4.76zM907.2 397.8h4.76v10.6h-4.76zM911.8 397.8h4.76v10.6h-4.76zM916.4 397.8h4.76v10.6h-4.76zM925.6 417.6h4.76v10.6h-4.76zM939.4 466.9h4.76v10.6h-4.76zM944.0 466.9h4.76v10.6h-4.76zM948.6 466.9h4.76v10.6h-4.76zM967.1 299.1h4.76v10.6h-4.76zM980.9 269.5h4.76v10.6h-4.76zM990.1 277.4h4.76v10.6h-4.76zM994.7 464.9h4.76v10.6h-4.76zM999.3 464.9h4.76v10.6h-4.76zM1013.2 326.8h4.76v10.6h-4.76zM1017.8 326.8h4.76v10.6h-4.76zM1036.2 279.4h4.76v10.6h-4.76zM1050.0 259.7h4.76v10.6h-4.76zM1054.6 259.7h4.76v10.6h-4.76zM1077.7 356.4h4.76v10.6h-4.76zM1096.1 249.8h4.76v10.6h-4.76zM1128.4 220.2h4.76v10.6h-4.76z"/>
<path fill="#007cff" d="M179.1 220.2h4.76v10.6h-4.76zM211.4 218.2h4.76v10.6h-4.76zM280.5 259.7h4.76v10.6h-4.76zM294.3 289.3h4.76v10.6h-4.76zM298.9 299.1h4.76v10.6h-4.76zM308.2 318.9h4.76v10.6h-4.76zM317.4 299.1h4.76v10.6h-4.76zM322.0 287.3h4.76v10.6h-4.76zM331.2 316.9h4.76v10.6h-4.76zM345.0 267.5h4.76v10.6h-4.76zM354.2 218.2h4.76v10.6h-4.76zM377.3 210.3h4.76v10.6h-4.76zM409.5 220.2h4.76v10.6h-4.76zM414.1 230.0h4.76v10.6h-4.76zM423.3 249.8h4.76v10.6h-4.76zM432.6 279.4h4.76v10.6h-4.76zM451.0 338.6h4.76v10.6h-4.76zM460.2 356.4h4.76v10.6h-4.76zM483.3 378.1h4.76v10.6h-4.76zM492.5 388.0h4.76v10.6h-4.76zM524.7 427.4h4.76v10.6h-4.76zM538.5 615.0h4.76v10.6h-4.76zM543.2 615.0h4.76v10.6h-4.76zM547.8 624.8h4.76v10.6h-4.76zM584.6 328.8h4.76v10.6h-4.76zM593.8 328.8h4.76v10.6h-4.76zM598.4 328.8h4.76v10.6h-4.76zM603.1 328.8h4.76v10.6h-4.76zM616.9 328.8h4.76v10.6h-4.76zM644.5 316.9h4.76v10.6h-4.76zM649.1 316.9h4.76v10.6h-4.76zM672.2 318.9h4.76v10.6h-4.76zM676.8 318.9h4.76v10.6h-4.76zM681.4 328.8h4.76v10.6h-4.76zM686.0 368.2h4.76v10.6h-4.76zM704.4 415.6h4.76v10.6h-4.76zM713.6 437.3h4.76v10.6h-4.76zM722.9 368.2h4.76v10.6h-4.76zM727.5 279.4h4.76v10.6h-4.76zM755.1 249.8h4.76v10.6h-4.76zM764.3 247.8h4.76v10.6h-4.76zM792.0 378.1h4.76v10.6h-4.76zM805.8 356.4h4.76v10.6h-4.76zM810.4 326.8h4.76v10.6h-4.76zM819.6 267.5h4.76v10.6h-4.76zM828.8 239.9h4.76v10.6h-4.76zM833.4 239.9h4.76v10.6h-4.76zM847.3 378.1h4.76v10.6h-4.76zM884.1 388.0h4.76v10.6h-4.76zM902.6 388.0h4.76v10.6h-4.76zM921.0 407.7h4.76v10.6h-4.76zM953.3 466.9h4.76v10.6h-4.76zM962.5 309.0h4.76v10.6h-4.76zM985.5 259.7h4.76v10.6h-4.76zM1003.9 316.9h4.76v10.6h-4.76zM1008.5 316.9h4.76v10.6h-4.76zM1045.4 259.7h4.76v10.6h-4.76zM1082.3 338.6h4.76v10.6h-4.76zM1114.5 220.2h4.76v10.6h-4.76zM1133.0 220.2h4.76v10.6h-4.76zM1137.6 220.2h4.76v10.6h-4.76z"/>
<path fill="#0091ff" d="M197.6 220.2h4.76v10.6h-4.76zM206.8 218.2h4.76v10.6h-4.76zM266.7 239.9h4.76v10.6h-4.76zM275.9 249.8h4.76v10.6h-4.76zM303.5 309.0h4.76v10.6h-4.76zM326.6 297.1h4.76v10.6h-4.76zM340.4 316.9h4.76v10.6h-4.76zM368.1 210.3h4.76v10.6h-4.76zM372.7 210.3h4.76v10.6h-4.76zM400.3 220.2h4.76v10.6h-4.76zM404.9 220.2h4.76v10.6h-4.76zM437.2 299.1h4.76v10.6h-4.76zM455.6 338.6h4.76v10.6h-4.76zM469.4 366.2h4.76v10.6h-4.76zM478.6 366.2h4.76v10.6h-4.76zM506.3 437.3h4.76v10.6h-4.76zM552.4 573.5h4.76v10.6h-4.76zM557.0 494.5h4.76v10.6h-4.76zM561.6 405.7h4.76v10.6h-4.76zM626.1 318.9h4.76v10.6h-4.76zM639.9 318.9h4.76v10.6h-4.76zM653.7 316.9h4.76v10.6h-4.76zM658.3 316.9h4.76v10.6h-4.76zM663.0 316.9h4.76v10.6h-4.76zM667.6 309.0h4.76v10.6h-4.76zM690.6 386.0h4.76v10.6h-4.76zM695.2 386.0h4.76v10.6h-4.76zM709.0 435.3h4.76v10.6h-4.76zM718.3 417.6h4.76v10.6h-4.76zM736.7 269.5h4.76v10.6h-4.76zM745.9 259.7h4.76v10.6h-4.76zM750.5 259.7h4.76v10.6h-4.76zM759.7 247.8h4.76v10.6h-4.76zM773.5 247.8h4.76v10.6h-4.76zM787.4 368.2h4.76v10.6h-4.76zM801.2 368.2h4.76v10.6h-4.76zM815.0 297.1h4.76v10.6h-4.76zM824.2 237.9h4.76v10.6h-4.76zM838.1 289.3h4.76v10.6h-4.76zM851.9 376.1h4.76v10.6h-4.76zM856.5 376.1h4.76v10.6h-4.76zM930.2 417.6h4.76v10.6h-4.76zM934.8 427.4h4.76v10.6h-4.76zM939.4 457.1h4.76v10.6h-4.76zM944.0 457.1h4.76v10.6h-4.76zM948.6 457.1h4.76v10.6h-4.76zM957.9 496.5h4.76v10.6h-4.76zM971.7 279.4h4.76v10.6h-4.76zM976.3 269.5h4.76v10.6h-4.76zM1027.0 297.1h4.76v10.6h-4.76zM1031.6 287.3h4.76v10.6h-4.76zM1040.8 269.5h4.76v10.6h-4.76zM1059.2 257.7h4.76v10.6h-4.76zM1068.5 247.8h4.76v10.6h-4.76zM1077.7 346.5h4.76v10.6h-4.76zM1086.9 239.9h4.76v10.6h-4.76zM1123.7 220.2h4.76v10.6h-4.76zM1142.2 220.2h4.76v10.6h-4.76z"/>
<path fill="#00a6ff" d="M216.0 218.2h4.76v10.6h-4.76zM257.5 230.0h4.76v10.6h-4.76zM285.1 259.7h4.76v10.6h-4.76zM289.7 279.4h4.76v10.6h-4.76zM312.8 309.0h4.76v10.6h-4.76zM317.4 289.3h4.76v10.6h-4.76zM322.0 277.4h4.76v10.6h-4.76zM326.6 287.3h4.76v10.6h-4.76zM335.8 307.0h4.76v10.6h-4.76zM386.5 210.3h4.76v10.6h-4.76zM418.7 230.0h4.76v10.6h-4.76zM428.0 259.7h4.76v10.6h-4.76zM432.6 269.5h4.76v10.6h-4.76zM441.8 309.0h4.76v10.6h-4.76zM446.4 318.9h4.76v10.6h-4.76zM460.2 346.5h4.76v10.6h-4.76zM464.8 356.4h4.76v10.6h-4.76zM474.0 366.2h4.76v10.6h-4.76zM487.9 378.1h4.76v10.6h-4.76zM501.7 397.8h4.76v10.6h-4.76zM510.9 437.3h4.76v10.6h-4.76zM520.1 417.6h4.76v10.6h-4.76zM547.8 615.0h4.76v10.6h-4.76zM612.3 318.9h4.76v10.6h-4.76zM630.7 318.9h4.76v10.6h-4.76zM635.3 318.9h4.76v10.6h-4.76zM644.5 307.0h4.76v10.6h-4.76zM649.1 307.0h4.76v10.6h-4.76zM672.2 309.0h4.76v10.6h-4.76zM681.4 318.9h4.76v10.6h-4.76zM699.8 395.8h4.76v10.6h-4.76zM722.9 358.4h4.76v10.6h-4.76zM732.1 269.5h4.76v10.6h-4.76zM741.3 259.7h4.76v10.6h-4.76zM768.9 247.8h4.76v10.6h-4.76zM796.6 368.2h4.76v10.6h-4.76zM805.8 346.5h4.76v10.6h-4.76zM810.4 316.9h4.76v10.6h-4.76zM842.7 338.6h4.76v10.6h-4.76zM870.3 376.1h4.76v10.6h-4.76zM874.9 378.1h4.76v10.6h-4.76zM879.5 378.1h4.76v10.6h-4.76zM888.7 378.1h4.76v10.6h-4.76zM898.0 378.1h4.76v10.6h-4.76zM907.2 388.0h4.76v10.6h-4.76zM911.8 388.0h4.76v10.6h-4.76zM916.4 388.0h4.76v10.6h-4.76zM925.6 407.7h4.76v10.6h-4.76zM967.1 289.3h4.76v10.6h-4.76zM994.7 455.1h4.76v10.6h-4.76zM999.3 455.1h4.76v10.6h-4.76zM1013.2 316.9h4.76v10.6h-4.76zM1017.8 316.9h4.76v10.6h-4.76zM1022.4 307.0h4.76v10.6h-4.76zM1036.2 269.5h4.76v10.6h-4.76zM1050.0 249.8h4.76v10.6h-4.76zM1054.6 249.8h4.76v10.6h-4.76zM1063.8 247.8h4.76v10.6h-4.76zM1073.1 237.9h4.76v10.6h-4.76zM1077.7 336.6h4.76v10.6h-4.76zM1082.3 328.8h4.76v10.6h-4.76zM1091.5 239.9h4.76v10.6h-4.76z"/>
<path fill="#00bbff" d="M193.0 220.2h4.76v10.6h-4.76zM322.0 267.5h4.76v10.6h-4.76zM331.2 307.0h4.76v10.6h-4.76zM340.4 307.0h4.76v10.6h-4.76zM345.0 257.7h4.76v10.6h-4.76zM358.8 208.3h4.76v10.6h-4.76zM423.3 239.9h4.76v10.6h-4.76zM437.2 289.3h4.76v10.6h-4.76zM451.0 328.8h4.76v10.6h-4.76zM483.3 368.2h4.76v10.6h-4.76zM492.5 378.1h4.76v10.6h-4.76zM497.1 388.0h4.76v10.6h-4.76zM515.5 417.6h4.76v10.6h-4.76zM529.3 555.8h4.76v10.6h-4.76zM538.5 605.1h4.76v10.6h-4.76zM543.2 605.1h4.76v10.6h-4.76zM552.4 563.6h4.76v10.6h-4.76zM557.0 484.7h4.76v10.6h-4.76zM589.2 318.9h4.76v10.6h-4.76zM607.7 318.9h4.76v10.6h-4.76zM621.5 318.9h4.76v10.6h-4.76zM639.9 309.0h4.76v10.6h-4.76zM653.7 307.0h4.76v10.6h-4.76zM658.3 307.0h4.76v10.6h-4.76zM663.0 307.0h4.76v10.6h-4.76zM667.6 299.1h4.76v10.6h-4.76zM676.8 309.0h4.76v10.6h-4.76zM686.0 358.4h4.76v10.6h-4.76zM704.4 405.7h4.76v10.6h-4.76zM713.6 427.4h4.76v10.6h-4.76zM718.3 407.7h4.76v10.6h-4.76zM727.5 269.5h4.76v10.6h-4.76zM778.2 267.5h4.76v10.6h-4.76zM782.8 318.9h4.76v10.6h-4.76zM815.0 287.3h4.76v10.6h-4.76zM819.6 257.7h4.76v10.6h-4.76zM847.3 368.2h4.76v10.6h-4.76zM861.1 376.1h4.76v10.6h-4.76zM865.7 376.1h4.76v10.6h-4.76zM884.1 378.1h4.76v10.6h-4.76zM893.4 378.1h4.76v10.6h-4.76zM902.6 378.1h4.76v10.6h-4.76zM921.0 397.8h4.76v10.6h-4.76zM939.4 447.2h4.76v10.6h-4.76zM944.0 447.2h4.76v10.6h-4.76zM948.6 447.2h4.76v10.6h-4.76zM953.3 457.1h4.76v10.6h-4.76zM962.5 299.1h4.76v10.6h-4.76zM980.9 259.7h4.76v10.6h-4.76zM990.1 267.5h4.76v10.6h-4.76zM1003.9 307.0h4.76v10.6h-4.76zM1008.5 307.0h4.76v10.6h-4.76zM1045.4 249.8h4.76v10.6h-4.76zM1059.2 247.8h4.76v10.6h-4.76zM1082.3 318.9h4.76v10.6h-4.76zM1109.9 220.2h4.76v10.6h-4.76zM1119.1 210.3h4.76v10.6h-4.76zM1146.8 220.2h4.76v10.6h-4.76zM1151.4 220.2h4.76v10.6h-4.76z"/>
<path fill="#00d0ff" d="M225.2 218.2h4.76v10.6h-4.76zM229.8 218.2h4.76v10.6h-4.76zM243.6 218.2h4.76v10.6h-4.76zM294.3 279.4h4.76v10.6h-4.76zM298.9 289.3h4.76v10.6h-4.76zM303.5 299.1h4.76v10.6h-4.76zM308.2 309.0h4.76v10.6h-4.76zM317.4 279.4h4.76v10.6h-4.76zM326.6 277.4h4.76v10.6h-4.76zM335.8 297.1h4.76v10.6h-4.76zM349.6 218.2h4.76v10.6h-4.76zM363.4 208.3h4.76v10.6h-4.76zM381.9 200.4h4.76v10.6h-4.76zM428.0 249.8h4.76v10.6h-4.76zM432.6 259.7h4.76v10.6h-4.76zM441.8 299.1h4.76v10.6h-4.76zM446.4 309.0h4.76v10.6h-4.76zM455.6 328.8h4.76v10.6h-4.76zM469.4 356.4h4.76v10.6h-4.76zM478.6 356.4h4.76v10.6h-4.76zM524.7 417.6h4.76v10.6h-4.76zM533.9 555.8h4.76v10.6h-4.76zM547.8 605.1h4.76v10.6h-4.76zM561.6 395.8h4.76v10.6h-4.76zM598.4 318.9h4.76v10.6h-4.76zM616.9 318.9h4.76v10.6h-4.76zM626.1 309.0h4.76v10.6h-4.76zM672.2 299.1h4.76v10.6h-4.76zM690.6 376.1h4.76v10.6h-4.76zM695.2 376.1h4.76v10.6h-4.76zM709.0 425.4h4.76v10.6h-4.76zM736.7 259.7h4.76v10.6h-4.76zM750.5 249.8h4.76v10.6h-4.76zM755.1 239.9h4.76v10.6h-4.76zM764.3 237.9h4.76v10.6h-4.76zM787.4 358.4h4.76v10.6h-4.76zM792.0 368.2h4.76v10.6h-4.76zM810.4 307.0h4.76v10.6h-4.76zM828.8 230.0h4.76v10.6h-4.76zM833.4 230.0h4.76v10.6h-4.76zM851.9 366.2h4.76v10.6h-4.76zM930.2 407.7h4.76v10.6h-4.76zM934.8 417.6h4.76v10.6h-4.76zM985.5 249.8h4.76v10.6h-4.76zM1027.0 287.3h4.76v10.6h-4.76zM1031.6 277.4h4.76v10.6h-4.76zM1040.8 259.7h4.76v10.6h-4.76zM1054.6 239.9h4.76v10.6h-4.76zM1068.5 237.9h4.76v10.6h-4.76zM1077.7 326.8h4.76v10.6h-4.76zM1100.7 230.0h4.76v10.6h-4.76zM1105.3 230.0h4.76v10.6h-4.76zM1128.4 210.3h4.76v10.6h-4.76zM1133.0 210.3h4.76v10.6h-4.76zM1137.6 210.3h4.76v10.6h-4.76z"/>
<path fill="#00e4f8" d="M183.7 210.3h4.76v10.6h-4.76zM202.2 210.3h4.76v10.6h-4.76zM220.6 218.2h4.76v10.6h-4.76zM248.2 218.2h4.76v10.6h-4.76zM312.8 299.1h4.76v10.6h-4.76zM322.0 257.7h4.76v10.6h-4.76zM326.6 267.5h4.76v10.6h-4.76zM331.2 297.1h4.76v10.6h-4.76zM395.7 210.3h4.76v10.6h-4.76zM409.5 210.3h4.76v10.6h-4.76zM414.1 220.2h4.76v10.6h-4.76zM418.7 220.2h4.76v10.6h-4.76zM437.2 279.4h4.76v10.6h-4.76zM451.0 318.9h4.76v10.6h-4.76zM460.2 336.6h4.76v10.6h-4.76zM464.8 346.5h4.76v10.6h-4.76zM474.0 356.4h4.76v10.6h-4.76zM487.9 368.2h4.76v10.6h-4.76zM501.7 388.0h4.76v10.6h-4.76zM520.1 407.7h4.76v10.6h-4.76zM538.5 595.2h4.76v10.6h-4.76zM543.2 595.2h4.76v10.6h-4.76zM552.4 553.8h4.76v10.6h-4.76zM557.0 474.8h4.76v10.6h-4.76zM570.8 316.9h4.76v10.6h-4.76zM575.4 318.9h4.76v10.6h-4.76zM593.8 318.9h4.76v10.6h-4.76zM603.1 318.9h4.76v10.6h-4.76zM630.7 309.0h4.76v10.6h-4.76zM635.3 309.0h4.76v10.6h-4.76zM644.5 297.1h4.76v10.6h-4.76zM649.1 297.1h4.76v10.6h-4.76zM653.7 297.1h4.76v10.6h-4.76zM658.3 297.1h4.76v10.6h-4.76zM676.8 299.1h4.76v10.6h-4.76zM681.4 309.0h4.76v10.6h-4.76zM699.8 386.0h4.76v10.6h-4.76zM704.4 395.8h4.76v10.6h-4.76zM713.6 417.6h4.76v10.6h-4.76zM718.3 397.8h4.76v10.6h-4.76zM722.9 348.5h4.76v10.6h-4.76zM732.1 259.7h4.76v10.6h-4.76zM745.9 249.8h4.76v10.6h-4.76zM759.7 237.9h4.76v10.6h-4.76zM796.6 358.4h4.76v10.6h-4.76zM801.2 358.4h4.76v10.6h-4.76zM805.8 336.6h4.76v10.6h-4.76zM815.0 277.4h4.76v10.6h-4.76zM819.6 247.8h4.76v10.6h-4.76zM824.2 228.0h4.76v10.6h-4.76zM838.1 279.4h4.76v10.6h-4.76zM842.7 328.8h4.76v10.6h-4.76zM856.5 366.2h4.76v10.6h-4.76zM870.3 366.2h4.76v10.6h-4.76zM879.5 368.2h4.76v10.6h-4.76zM888.7 368.2h4.76v10.6h-4.76zM898.0 368.2h4.76v10.6h-4.76zM907.2 378.1h4.76v10.6h-4.76zM911.8 378.1h4.76v10.6h-4.76zM916.4 378.1h4.76v10.6h-4.76zM925.6 397.8h4.76v10.6h-4.76zM939.4 437.3h4.76v10.6h-4.76zM944.0 437.3h4.76v10.6h-4.76zM948.6 437.3h4.76v10.6h-4.76zM953.3 447.2h4.76v10.6h-4.76zM957.9 486.7h4.76v10.6h-4.76zM971.7 269.5h4.76v10.6h-4.76zM976.3 259.7h4.76v10.6h-4.76zM1013.2 307.0h4.76v10.6h-4.76zM1017.8 307.0h4.76v10.6h-4.76zM1022.4 297.1h4.76v10.6h-4.76zM1036.2 259.7h4.76v10.6h-4.76zM1050.0 239.9h4.76v10.6h-4.76zM1063.8 237.9h4.76v10.6h-4.76zM1077.7 316.9h4.76v10.6h-4.76zM1082.3 309.0h4.76v10.6h-4.76zM1086.9 230.0h4.76v10.6h-4.76zM1096.1 239.9h4.76v10.6h-4.76zM1142.2 210.3h4.76v10.6h-4.76z"/>
<path fill="#10f9e7" d="M160.7 210.3h4.76v10.6h-4.76zM165.3 210.3h4.76v10.6h-4.76zM169.9 210.3h4.76v10.6h-4.76zM174.5 210.3h4.76v10.6h-4.76zM271.3 239.9h4.76v10.6h-4.76zM280.5 249.8h4.76v10.6h-4.76zM335.8 287.3h4.76v10.6h-4.76zM340.4 297.1h4.76v10.6h-4.76zM345.0 247.8h4.76v10.6h-4.76zM391.1 200.4h4.76v10.6h-4.76zM423.3 230.0h4.76v10.6h-4.76zM441.8 289.3h4.76v10.6h-4.76zM446.4 299.1h4.76v10.6h-4.76zM455.6 318.9h4.76v10.6h-4.76zM478.6 346.5h4.76v10.6h-4.76zM483.3 358.4h4.76v10.6h-4.76zM492.5 368.2h4.76v10.6h-4.76zM497.1 378.1h4.76v10.6h-4.76zM543.2 585.4h4.76v10.6h-4.76zM557.0 464.9h4.76v10.6h-4.76zM566.2 316.9h4.76v10.6h-4.76zM580.0 318.9h4.76v10.6h-4.76zM612.3 309.0h4.76v10.6h-4.76zM639.9 299.1h4.76v10.6h-4.76zM663.0 297.1h4.76v10.6h-4.76zM667.6 289.3h4.76v10.6h-4.76zM686.0 348.5h4.76v10.6h-4.76zM695.2 366.2h4.76v10.6h-4.76zM709.0 415.6h4.76v10.6h-4.76zM718.3 388.0h4.76v10.6h-4.76zM741.3 249.8h4.76v10.6h-4.76zM768.9 237.9h4.76v10.6h-4.76zM773.5 237.9h4.76v10.6h-4.76zM782.8 309.0h4.76v10.6h-4.76zM810.4 297.1h4.76v10.6h-4.76zM847.3 358.4h4.76v10.6h-4.76zM851.9 356.4h4.76v10.6h-4.76zM861.1 366.2h4.76v10.6h-4.76zM865.7 366.2h4.76v10.6h-4.76zM874.9 368.2h4.76v10.6h-4.76zM884.1 368.2h4.76v10.6h-4.76zM893.4 368.2h4.76v10.6h-4.76zM902.6 368.2h4.76v10.6h-4.76zM921.0 388.0h4.76v10.6h-4.76zM930.2 397.8h4.76v10.6h-4.76zM962.5 289.3h4.76v10.6h-4.76zM967.1 279.4h4.76v10.6h-4.76zM994.7 445.2h4.76v10.6h-4.76zM999.3 445.2h4.76v10.6h-4.76zM1003.9 297.1h4.76v10.6h-4.76zM1008.5 297.1h4.76v10.6h-4.76zM1045.4 239.9h4.76v10.6h-4.76zM1059.2 237.9h4.76v10.6h-4.76zM1073.1 228.0h4.76v10.6h-4.76zM1114.5 210.3h4.76v10.6h-4.76zM1123.7 210.3h4.76v10.6h-4.76z"/>
<path fill="#21ffd6" d="M179.1 210.3h4.76v10.6h-4.76zM188.3 210.3h4.76v10.6h-4.76zM239.0 218.2h4.76v10.6h-4.76zM262.1 230.0h4.76v10.6h-4.76zM275.9 239.9h4.76v10.6h-4.76zM285.1 249.8h4.76v10.6h-4.76zM289.7 269.5h4.76v10.6h-4.76zM326.6 257.7h4.76v10.6h-4.76zM331.2 287.3h4.76v10.6h-4.76zM335.8 277.4h4.76v10.6h-4.76zM340.4 287.3h4.76v10.6h-4.76zM354.2 208.3h4.76v10.6h-4.76zM404.9 210.3h4.76v10.6h-4.76zM428.0 239.9h4.76v10.6h-4.76zM432.6 249.8h4.76v10.6h-4.76zM451.0 309.0h4.76v10.6h-4.76zM460.2 326.8h4.76v10.6h-4.76zM464.8 336.6h4.76v10.6h-4.76zM469.4 346.5h4.76v10.6h-4.76zM474.0 346.5h4.76v10.6h-4.76zM487.9 358.4h4.76v10.6h-4.76zM515.5 407.7h4.76v10.6h-4.76zM538.5 585.4h4.76v10.6h-4.76zM547.8 595.2h4.76v10.6h-4.76zM552.4 543.9h4.76v10.6h-4.76zM561.6 386.0h4.76v10.6h-4.76zM584.6 318.9h4.76v10.6h-4.76zM621.5 309.0h4.76v10.6h-4.76zM672.2 289.3h4.76v10.6h-4.76zM690.6 366.2h4.76v10.6h-4.76zM699.8 376.1h4.76v10.6h-4.76zM704.4 386.0h4.76v10.6h-4.76zM713.6 407.7h4.76v10.6h-4.76zM718.3 378.1h4.76v10.6h-4.76zM722.9 338.6h4.76v10.6h-4.76zM727.5 259.7h4.76v10.6h-4.76zM778.2 257.7h4.76v10.6h-4.76zM787.4 348.5h4.76v10.6h-4.76zM792.0 358.4h4.76v10.6h-4.76zM801.2 348.5h4.76v10.6h-4.76zM805.8 326.8h4.76v10.6h-4.76zM815.0 267.5h4.76v10.6h-4.76zM856.5 356.4h4.76v10.6h-4.76zM870.3 356.4h4.76v10.6h-4.76zM888.7 358.4h4.76v10.6h-4.76zM898.0 358.4h4.76v10.6h-4.76zM907.2 368.2h4.76v10.6h-4.76zM911.8 368.2h4.76v10.6h-4.76zM916.4 368.2h4.76v10.6h-4.76zM925.6 388.0h4.76v10.6h-4.76zM934.8 407.7h4.76v10.6h-4.76zM980.9 249.8h4.76v10.6h-4.76zM1031.6 267.5h4.76v10.6h-4.76zM1040.8 249.8h4.76v10.6h-4.76zM1077.7 307.0h4.76v10.6h-4.76zM1082.3 299.1h4.76v10.6h-4.76zM1091.5 230.0h4.76v10.6h-4.76zM1146.8 210.3h4.76v10.6h-4.76zM1151.4 210.3h4.76v10.6h-4.76z"/>
<path fill="#32ffc5" d="M211.4 208.3h4.76v10.6h-4.76zM234.4 218.2h4.76v10.6h-4.76zM252.9 220.2h4.76v10.6h-4.76zM266.7 230.0h4.76v10.6h-4.76zM294.3 269.5h4.76v10.6h-4.76zM298.9 279.4h4.76v10.6h-4.76zM303.5 289.3h4.76v10.6h-4.76zM308.2 299.1h4.76v10.6h-4.76zM312.8 289.3h4.76v10.6h-4.76zM317.4 269.5h4.76v10.6h-4.76zM331.2 277.4h4.76v10.6h-4.76zM335.8 267.5h4.76v10.6h-4.76zM340.4 277.4h4.76v10.6h-4.76zM345.0 237.9h4.76v10.6h-4.76zM377.3 200.4h4.76v10.6h-4.76zM400.3 210.3h4.76v10.6h-4.76zM437.2 269.5h4.76v10.6h-4.76zM446.4 289.3h4.76v10.6h-4.76zM455.6 309.0h4.76v10.6h-4.76zM497.1 368.2h4.76v10.6h-4.76zM501.7 378.1h4.76v10.6h-4.76zM538.5 575.5h4.76v10.6h-4.76zM543.2 575.5h4.76v10.6h-4.76zM547.8 585.4h4.76v10.6h-4.76zM557.0 455.1h4.76v10.6h-4.76zM589.2 309.0h4.76v10.6h-4.76zM607.7 309.0h4.76v10.6h-4.76zM616.9 309.0h4.76v10.6h-4.76zM626.1 299.1h4.76v10.6h-4.76zM635.3 299.1h4.76v10.6h-4.76zM644.5 287.3h4.76v10.6h-4.76zM649.1 287.3h4.76v10.6h-4.76zM676.8 289.3h4.76v10.6h-4.76zM681.4 299.1h4.76v10.6h-4.76zM686.0 338.6h4.76v10.6h-4.76zM695.2 356.4h4.76v10.6h-4.76zM699.8 366.2h4.76v10.6h-4.76zM709.0 405.7h4.76v10.6h-4.76zM722.9 328.8h4.76v10.6h-4.76zM736.7 249.8h4.76v10.6h-4.76zM745.9 239.9h4.76v10.6h-4.76zM750.5 239.9h4.76v10.6h-4.76zM755.1 230.0h4.76v10.6h-4.76zM764.3 228.0h4.76v10.6h-4.76zM796.6 348.5h4.76v10.6h-4.76zM819.6 237.9h4.76v10.6h-4.76zM824.2 218.2h4.76v10.6h-4.76zM828.8 220.2h4.76v10.6h-4.76zM833.4 220.2h4.76v10.6h-4.76zM838.1 269.5h4.76v10.6h-4.76zM842.7 318.9h4.76v10.6h-4.76zM847.3 348.5h4.76v10.6h-4.76zM851.9 346.5h4.76v10.6h-4.76zM861.1 356.4h4.76v10.6h-4.76zM865.7 356.4h4.76v10.6h-4.76zM874.9 358.4h4.76v10.6h-4.76zM879.5 358.4h4.76v10.6h-4.76zM884.1 358.4h4.76v10.6h-4.76zM893.4 358.4h4.76v10.6h-4.76zM902.6 358.4h4.76v10.6h-4.76zM921.0 378.1h4.76v10.6h-4.76zM925.6 378.1h4.76v10.6h-4.76zM930.2 388.0h4.76v10.6h-4.76zM939.4 427.4h4.76v10.6h-4.76zM944.0 427.4h4.76v10.6h-4.76zM948.6 427.4h4.76v10.6h-4.76zM953.3 437.3h4.76v10.6h-4.76zM957.9 476.8h4.76v10.6h-4.76zM990.1 257.7h4.76v10.6h-4.76zM1022.4 287.3h4.76v10.6h-4.76zM1027.0 277.4h4.76v10.6h-4.76zM1054.6 230.0h4.76v10.6h-4.76zM1063.8 228.0h4.76v10.6h-4.76zM1068.5 228.0h4.76v10.6h-4.76zM1077.7 297.1h4.76v10.6h-4.76zM1082.3 289.3h4.76v10.6h-4.76z"/>
<path fill="#43ffb4" d="M197.6 210.3h4.76v10.6h-4.76zM322.0 247.8h4.76v10.6h-4.76zM326.6 247.8h4.76v10.6h-4.76zM331.2 267.5h4.76v10.6h-4.76zM335.8 257.7h4.76v10.6h-4.76zM340.4 267.5h4.76v10.6h-4.76zM368.1 200.4h4.76v10.6h-4.76zM386.5 200.4h4.76v10.6h-4.76zM441.8 279.4h4.76v10.6h-4.76zM451.0 299.1h4.76v10.6h-4.76zM460.2 316.9h4.76v10.6h-4.76zM464.8 326.8h4.76v10.6h-4.76zM469.4 336.6h4.76v10.6h-4.76zM474.0 336.6h4.76v10.6h-4.76zM478.6 336.6h4.76v10.6h-4.76zM483.3 348.5h4.76v10.6h-4.76zM492.5 358.4h4.76v10.6h-4.76zM524.7 407.7h4.76v10.6h-4.76zM543.2 565.6h4.76v10.6h-4.76zM547.8 575.5h4.76v10.6h-4.76zM552.4 534.0h4.76v10.6h-4.76zM598.4 309.0h4.76v10.6h-4.76zM603.1 309.0h4.76v10.6h-4.76zM630.7 299.1h4.76v10.6h-4.76zM653.7 287.3h4.76v10.6h-4.76zM658.3 287.3h4.76v10.6h-4.76zM667.6 279.4h4.76v10.6h-4.76zM690.6 356.4h4.76v10.6h-4.76zM695.2 346.5h4.76v10.6h-4.76zM699.8 356.4h4.76v10.6h-4.76zM704.4 376.1h4.76v10.6h-4.76zM713.6 397.8h4.76v10.6h-4.76zM718.3 368.2h4.76v10.6h-4.76zM722.9 318.9h4.76v10.6h-4.76zM732.1 249.8h4.76v10.6h-4.76zM759.7 228.0h4.76v10.6h-4.76zM773.5 228.0h4.76v10.6h-4.76zM782.8 299.1h4.76v10.6h-4.76zM787.4 338.6h4.76v10.6h-4.76zM792.0 348.5h4.76v10.6h-4.76zM805.8 316.9h4.76v10.6h-4.76zM810.4 287.3h4.76v10.6h-4.76zM856.5 346.5h4.76v10.6h-4.76zM870.3 346.5h4.76v10.6h-4.76zM888.7 348.5h4.76v10.6h-4.76zM898.0 348.5h4.76v10.6h-4.76zM907.2 358.4h4.76v10.6h-4.76zM911.8 358.4h4.76v10.6h-4.76zM916.4 358.4h4.76v10.6h-4.76zM921.0 368.2h4.76v10.6h-4.76zM930.2 378.1h4.76v10.6h-4.76zM934.8 397.8h4.76v10.6h-4.76zM962.5 279.4h4.76v10.6h-4.76zM971.7 259.7h4.76v10.6h-4.76zM976.3 249.8h4.76v10.6h-4.76zM985.5 239.9h4.76v10.6h-4.76zM994.7 435.3h4.76v10.6h-4.76zM999.3 435.3h4.76v10.6h-4.76zM1003.9 287.3h4.76v10.6h-4.76zM1013.2 297.1h4.76v10.6h-4.76zM1017.8 297.1h4.76v10.6h-4.76zM1036.2 249.8h4.76v10.6h-4.76zM1050.0 230.0h4.76v10.6h-4.76zM1077.7 287.3h4.76v10.6h-4.76zM1082.3 279.4h4.76v10.6h-4.76zM1100.7 220.2h4.76v10.6h-4.76zM1105.3 220.2h4.76v10.6h-4.76zM1109.9 210.3h4.76v10.6h-4.76zM1128.4 200.4h4.76v10.6h-4.76z"/>
<path fill="#54ffa3" d="M206.8 208.3h4.76v10.6h-4.76zM257.5 220.2h4.76v10.6h-4.76zM331.2 257.7h4.76v10.6h-4.76zM335.8 247.8h4.76v10.6h-4.76zM340.4 257.7h4.76v10.6h-4.76zM345.0 228.0h4.76v10.6h-4.76zM349.6 208.3h4.76v10.6h-4.76zM372.7 200.4h4.76v10.6h-4.76zM414.1 210.3h4.76v10.6h-4.76zM418.7 210.3h4.76v10.6h-4.76zM432.6 239.9h4.76v10.6h-4.76zM437.2 259.7h4.76v10.6h-4.76zM455.6 299.1h4.76v10.6h-4.76zM487.9 348.5h4.76v10.6h-4.76zM501.7 368.2h4.76v10.6h-4.76zM529.3 545.9h4.76v10.6h-4.76zM533.9 545.9h4.76v10.6h-4.76zM538.5 565.6h4.76v10.6h-4.76zM552.4 524.1h4.76v10.6h-4.76zM557.0 445.2h4.76v10.6h-4.76zM561.6 376.1h4.76v10.6h-4.76zM593.8 309.0h4.76v10.6h-4.76zM639.9 289.3h4.76v10.6h-4.76zM663.0 287.3h4.76v10.6h-4.76zM672.2 279.4h4.76v10.6h-4.76zM681.4 289.3h4.76v10.6h-4.76zM686.0 328.8h4.76v10.6h-4.76zM690.6 346.5h4.76v10.6h-4.76zM704.4 366.2h4.76v10.6h-4.76zM709.0 395.8h4.76v10.6h-4.76zM718.3 358.4h4.76v10.6h-4.76zM741.3 239.9h4.76v10.6h-4.76zM768.9 228.0h4.76v10.6h-4.76zM778.2 247.8h4.76v10.6h-4.76zM796.6 338.6h4.76v10.6h-4.76zM801.2 338.6h4.76v10.6h-4.76zM815.0 257.7h4.76v10.6h-4.76zM842.7 309.0h4.76v10.6h-4.76zM847.3 338.6h4.76v10.6h-4.76zM851.9 336.6h4.76v10.6h-4.76zM861.1 346.5h4.76v10.6h-4.76zM865.7 346.5h4.76v10.6h-4.76zM874.9 348.5h4.76v10.6h-4.76zM879.5 348.5h4.76v10.6h-4.76zM884.1 348.5h4.76v10.6h-4.76zM893.4 348.5h4.76v10.6h-4.76zM902.6 348.5h4.76v10.6h-4.76zM925.6 368.2h4.76v10.6h-4.76zM934.8 388.0h4.76v10.6h-4.76zM967.1 269.5h4.76v10.6h-4.76zM1008.5 287.3h4.76v10.6h-4.76zM1045.4 230.0h4.76v10.6h-4.76zM1059.2 228.0h4.76v10.6h-4.76zM1073.1 218.2h4.76v10.6h-4.76zM1077.7 277.4h4.76v10.6h-4.76zM1086.9 220.2h4.76v10.6h-4.76zM1096.1 230.0h4.76v10.6h-4.76zM1119.1 200.4h4.76v10.6h-4.76zM1133.0 200.4h4.76v10.6h-4.76zM1137.6 200.4h4.76v10.6h-4.76zM1142.2 200.4h4.76v10.6h-4.76z"/>
<path fill="#64ff92" d="M193.0 210.3h4.76v10.6h-4.76zM216.0 208.3h4.76v10.6h-4.76zM280.5 239.9h4.76v10.6h-4.76zM289.7 259.7h4.76v10.6h-4.76zM298.9 269.5h4.76v10.6h-4.76zM303.5 279.4h4.76v10.6h-4.76zM308.2 289.3h4.76v10.6h-4.76zM312.8 279.4h4.76v10.6h-4.76zM317.4 259.7h4.76v10.6h-4.76zM326.6 237.9h4.76v10.6h-4.76zM331.2 247.8h4.76v10.6h-4.76zM335.8 237.9h4.76v10.6h-4.76zM340.4 247.8h4.76v10.6h-4.76zM395.7 200.4h4.76v10.6h-4.76zM409.5 200.4h4.76v10.6h-4.76zM423.3 220.2h4.76v10.6h-4.76zM428.0 230.0h4.76v10.6h-4.76zM441.8 269.5h4.76v10.6h-4.76zM446.4 279.4h4.76v10.6h-4.76zM451.0 289.3h4.76v10.6h-4.76zM460.2 307.0h4.76v10.6h-4.76zM464.8 316.9h4.76v10.6h-4.76zM469.4 326.8h4.76v10.6h-4.76zM478.6 326.8h4.76v10.6h-4.76zM483.3 338.6h4.76v10.6h-4.76zM492.5 348.5h4.76v10.6h-4.76zM497.1 358.4h4.76v10.6h-4.76zM520.1 397.8h4.76v10.6h-4.76zM538.5 555.8h4.76v10.6h-4.76zM543.2 555.8h4.76v10.6h-4.76zM547.8 565.6h4.76v10.6h-4.76zM612.3 299.1h4.76v10.6h-4.76zM621.5 299.1h4.76v10.6h-4.76zM676.8 279.4h4.76v10.6h-4.76zM695.2 336.6h4.76v10.6h-4.76zM699.8 346.5h4.76v10.6h-4.76zM713.6 388.0h4.76v10.6h-4.76zM718.3 348.5h4.76v10.6h-4.76zM722.9 309.0h4.76v10.6h-4.76zM727.5 249.8h4.76v10.6h-4.76zM755.1 220.2h4.76v10.6h-4.76zM782.8 289.3h4.76v10.6h-4.76zM787.4 328.8h4.76v10.6h-4.76zM792.0 338.6h4.76v10.6h-4.76zM810.4 277.4h4.76v10.6h-4.76zM838.1 259.7h4.76v10.6h-4.76zM856.5 336.6h4.76v10.6h-4.76zM870.3 336.6h4.76v10.6h-4.76zM888.7 338.6h4.76v10.6h-4.76zM898.0 338.6h4.76v10.6h-4.76zM907.2 348.5h4.76v10.6h-4.76zM911.8 348.5h4.76v10.6h-4.76zM916.4 348.5h4.76v10.6h-4.76zM921.0 358.4h4.76v10.6h-4.76zM930.2 368.2h4.76v10.6h-4.76zM957.9 466.9h4.76v10.6h-4.76zM1040.8 239.9h4.76v10.6h-4.76zM1054.6 220.2h4.76v10.6h-4.76zM1077.7 267.5h4.76v10.6h-4.76zM1082.3 269.5h4.76v10.6h-4.76z"/>
<path fill="#75ff81" d="M271.3 230.0h4.76v10.6h-4.76zM275.9 230.0h4.76v10.6h-4.76zM285.1 239.9h4.76v10.6h-4.76zM294.3 259.7h4.76v10.6h-4.76zM331.2 237.9h4.76v10.6h-4.76zM335.8 228.0h4.76v10.6h-4.76zM340.4 237.9h4.76v10.6h-4.76zM345.0 218.2h4.76v10.6h-4.76zM358.8 198.4h4.76v10.6h-4.76zM381.9 190.6h4.76v10.6h-4.76zM455.6 289.3h4.76v10.6h-4.76zM474.0 326.8h4.76v10.6h-4.76zM487.9 338.6h4.76v10.6h-4.76zM501.7 358.4h4.76v10.6h-4.76zM543.2 545.9h4.76v10.6h-4.76zM547.8 555.8h4.76v10.6h-4.76zM552.4 514.3h4.76v10.6h-4.76zM557.0 435.3h4.76v10.6h-4.76zM580.0 309.0h4.76v10.6h-4.76zM584.6 309.0h4.76v10.6h-4.76zM635.3 289.3h4.76v10.6h-4.76zM644.5 277.4h4.76v10.6h-4.76zM649.1 277.4h4.76v10.6h-4.76zM658.3 277.4h4.76v10.6h-4.76zM686.0 318.9h4.76v10.6h-4.76zM690.6 336.6h4.76v10.6h-4.76zM699.8 336.6h4.76v10.6h-4.76zM704.4 356.4h4.76v10.6h-4.76zM709.0 386.0h4.76v10.6h-4.76zM718.3 338.6h4.76v10.6h-4.76zM722.9 299.1h4.76v10.6h-4.76zM736.7 239.9h4.76v10.6h-4.76zM745.9 230.0h4.76v10.6h-4.76zM750.5 230.0h4.76v10.6h-4.76zM764.3 218.2h4.76v10.6h-4.76zM796.6 328.8h4.76v10.6h-4.76zM801.2 328.8h4.76v10.6h-4.76zM805.8 307.0h4.76v10.6h-4.76zM819.6 228.0h4.76v10.6h-4.76zM824.2 208.3h4.76v10.6h-4.76zM828.8 210.3h4.76v10.6h-4.76zM833.4 210.3h4.76v10.6h-4.76zM842.7 299.1h4.76v10.6h-4.76zM847.3 328.8h4.76v10.6h-4.76zM851.9 326.8h4.76v10.6h-4.76zM861.1 336.6h4.76v10.6h-4.76zM865.7 336.6h4.76v10.6h-4.76zM874.9 338.6h4.76v10.6h-4.76zM879.5 338.6h4.76v10.6h-4.76zM884.1 338.6h4.76v10.6h-4.76zM893.4 338.6h4.76v10.6h-4.76zM902.6 338.6h4.76v10.6h-4.76zM916.4 338.6h4.76v10.6h-4.76zM925.6 358.4h4.76v10.6h-4.76zM934.8 378.1h4.76v10.6h-4.76zM939.4 417.6h4.76v10.6h-4.76zM944.0 417.6h4.76v10.6h-4.76zM948.6 417.6h4.76v10.6h-4.76zM953.3 427.4h4.76v10.6h-4.76zM980.9 239.9h4.76v10.6h-4.76zM994.7 425.4h4.76v10.6h-4.76zM999.3 425.4h4.76v10.6h-4.76zM1031.6 257.7h4.76v10.6h-4.76zM1050.0 220.2h4.76v10.6h-4.76zM1063.8 218.2h4.76v10.6h-4.76zM1068.5 218.2h4.76v10.6h-4.76zM1077.7 257.7h4.76v10.6h-4.76zM1082.3 259.7h4.76v10.6h-4.76zM1091.5 220.2h4.76v10.6h-4.76zM1114.5 200.4h4.76v10.6h-4.76zM1123.7 200.4h4.76v10.6h-4.76z"/>
<path fill="#86ff71" d="M183.7 200.4h4.76v10.6h-4.76zM202.2 200.4h4.76v10.6h-4.76zM220.6 208.3h4.76v10.6h-4.76zM225.2 208.3h4.76v10.6h-4.76zM229.8 208.3h4.76v10.6h-4.76zM243.6 208.3h4.76v10.6h-4.76zM322.0 237.9h4.76v10.6h-4.76zM326.6 228.0h4.76v10.6h-4.76zM331.2 228.0h4.76v10.6h-4.76zM335.8 218.2h4.76v10.6h-4.76zM340.4 228.0h4.76v10.6h-4.76zM363.4 198.4h4.76v10.6h-4.76zM391.1 190.6h4.76v10.6h-4.76zM404.9 200.4h4.76v10.6h-4.76zM432.6 230.0h4.76v10.6h-4.76zM437.2 249.8h4.76v10.6h-4.76zM446.4 269.5h4.76v10.6h-4.76zM451.0 279.4h4.76v10.6h-4.76zM460.2 297.1h4.76v10.6h-4.76zM464.8 307.0h4.76v10.6h-4.76zM469.4 316.9h4.76v10.6h-4.76zM478.6 316.9h4.76v10.6h-4.76zM483.3 328.8h4.76v10.6h-4.76zM497.1 348.5h4.76v10.6h-4.76zM506.3 427.4h4.76v10.6h-4.76zM510.9 427.4h4.76v10.6h-4.76zM515.5 397.8h4.76v10.6h-4.76zM538.5 545.9h4.76v10.6h-4.76zM543.2 536.0h4.76v10.6h-4.76zM552.4 504.4h4.76v10.6h-4.76zM557.0 425.4h4.76v10.6h-4.76zM561.6 366.2h4.76v10.6h-4.76zM575.4 309.0h4.76v10.6h-4.76zM589.2 299.1h4.76v10.6h-4.76zM607.7 299.1h4.76v10.6h-4.76zM616.9 299.1h4.76v10.6h-4.76zM626.1 289.3h4.76v10.6h-4.76zM630.7 289.3h4.76v10.6h-4.76zM653.7 277.4h4.76v10.6h-4.76zM663.0 277.4h4.76v10.6h-4.76zM667.6 269.5h4.76v10.6h-4.76zM681.4 279.4h4.76v10.6h-4.76zM695.2 326.8h4.76v10.6h-4.76zM704.4 346.5h4.76v10.6h-4.76zM713.6 378.1h4.76v10.6h-4.76zM718.3 328.8h4.76v10.6h-4.76zM759.7 218.2h4.76v10.6h-4.76zM768.9 218.2h4.76v10.6h-4.76zM773.5 218.2h4.76v10.6h-4.76zM778.2 237.9h4.76v10.6h-4.76zM787.4 318.9h4.76v10.6h-4.76zM792.0 328.8h4.76v10.6h-4.76zM810.4 267.5h4.76v10.6h-4.76zM815.0 247.8h4.76v10.6h-4.76zM838.1 249.8h4.76v10.6h-4.76zM847.3 318.9h4.76v10.6h-4.76zM856.5 326.8h4.76v10.6h-4.76zM870.3 326.8h4.76v10.6h-4.76zM888.7 328.8h4.76v10.6h-4.76zM898.0 328.8h4.76v10.6h-4.76zM902.6 328.8h4.76v10.6h-4.76zM907.2 338.6h4.76v10.6h-4.76zM911.8 338.6h4.76v10.6h-4.76zM921.0 348.5h4.76v10.6h-4.76zM925.6 348.5h4.76v10.6h-4.76zM930.2 358.4h4.76v10.6h-4.76zM934.8 368.2h4.76v10.6h-4.76zM962.5 269.5h4.76v10.6h-4.76zM967.1 259.7h4.76v10.6h-4.76zM971.7 249.8h4.76v10.6h-4.76zM976.3 239.9h4.76v10.6h-4.76zM990.1 247.8h4.76v10.6h-4.76zM1003.9 277.4h4.76v10.6h-4.76zM1008.5 277.4h4.76v10.6h-4.76zM1013.2 287.3h4.76v10.6h-4.76zM1017.8 287.3h4.76v10.6h-4.76zM1022.4 277.4h4.76v10.6h-4.76zM1027.0 267.5h4.76v10.6h-4.76zM1045.4 220.2h4.76v10.6h-4.76zM1059.2 218.2h4.76v10.6h-4.76zM1077.7 247.8h4.76v10.6h-4.76zM1082.3 249.8h4.76v10.6h-4.76zM1100.7 210.3h4.76v10.6h-4.76zM1146.8 200.4h4.76v10.6h-4.76zM1151.4 200.4h4.76v10.6h-4.76z"/>
<path fill="#97ff60" d="M160.7 200.4h4.76v10.6h-4.76zM165.3 200.4h4.76v10.6h-4.76zM169.9 200.4h4.76v10.6h-4.76zM174.5 200.4h4.76v10.6h-4.76zM248.2 208.3h4.76v10.6h-4.76zM262.1 220.2h4.76v10.6h-4.76zM308.2 279.4h4.76v10.6h-4.76zM312.8 269.5h4.76v10.6h-4.76zM400.3 200.4h4.76v10.6h-4.76zM441.8 259.7h4.76v10.6h-4.76zM455.6 279.4h4.76v10.6h-4.76zM474.0 316.9h4.76v10.6h-4.76zM492.5 338.6h4.76v10.6h-4.76zM506.3 417.6h4.76v10.6h-4.76zM510.9 417.6h4.76v10.6h-4.76zM538.5 536.0h4.76v10.6h-4.76zM547.8 545.9h4.76v10.6h-4.76zM552.4 494.5h4.76v10.6h-4.76zM598.4 299.1h4.76v10.6h-4.76zM603.1 299.1h4.76v10.6h-4.76zM639.9 279.4h4.76v10.6h-4.76zM672.2 269.5h4.76v10.6h-4.76zM676.8 269.5h4.76v10.6h-4.76zM686.0 309.0h4.76v10.6h-4.76zM690.6 326.8h4.76v10.6h-4.76zM695.2 316.9h4.76v10.6h-4.76zM699.8 326.8h4.76v10.6h-4.76zM704.4 336.6h4.76v10.6h-4.76zM709.0 376.1h4.76v10.6h-4.76zM722.9 289.3h4.76v10.6h-4.76zM732.1 239.9h4.76v10.6h-4.76zM741.3 230.0h4.76v10.6h-4.76zM782.8 279.4h4.76v10.6h-4.76zM796.6 318.9h4.76v10.6h-4.76zM801.2 318.9h4.76v10.6h-4.76zM805.8 297.1h4.76v10.6h-4.76zM842.7 289.3h4.76v10.6h-4.76zM851.9 316.9h4.76v10.6h-4.76zM856.5 316.9h4.76v10.6h-4.76zM861.1 326.8h4.76v10.6h-4.76zM865.7 326.8h4.76v10.6h-4.76zM874.9 328.8h4.76v10.6h-4.76zM879.5 328.8h4.76v10.6h-4.76zM884.1 328.8h4.76v10.6h-4.76zM893.4 328.8h4.76v10.6h-4.76zM907.2 328.8h4.76v10.6h-4.76zM916.4 328.8h4.76v10.6h-4.76zM921.0 338.6h4.76v10.6h-4.76zM930.2 348.5h4.76v10.6h-4.76zM957.9 457.1h4.76v10.6h-4.76zM985.5 230.0h4.76v10.6h-4.76zM994.7 415.6h4.76v10.6h-4.76zM1036.2 239.9h4.76v10.6h-4.76zM1054.6 210.3h4.76v10.6h-4.76zM1077.7 237.9h4.76v10.6h-4.76zM1086.9 210.3h4.76v10.6h-4.76zM1105.3 210.3h4.76v10.6h-4.76z"/>
<path fill="#a8ff4f" d="M179.1 200.4h4.76v10.6h-4.76zM188.3 200.4h4.76v10.6h-4.76zM266.7 220.2h4.76v10.6h-4.76zM280.5 230.0h4.76v10.6h-4.76zM289.7 249.8h4.76v10.6h-4.76zM294.3 249.8h4.76v10.6h-4.76zM298.9 259.7h4.76v10.6h-4.76zM303.5 269.5h4.76v10.6h-4.76zM317.4 249.8h4.76v10.6h-4.76zM331.2 218.2h4.76v10.6h-4.76zM340.4 218.2h4.76v10.6h-4.76zM345.0 208.3h4.76v10.6h-4.76zM377.3 190.6h4.76v10.6h-4.76zM414.1 200.4h4.76v10.6h-4.76zM418.7 200.4h4.76v10.6h-4.76zM423.3 210.3h4.76v10.6h-4.76zM428.0 220.2h4.76v10.6h-4.76zM446.4 259.7h4.76v10.6h-4.76zM451.0 269.5h4.76v10.6h-4.76zM460.2 287.3h4.76v10.6h-4.76zM464.8 297.1h4.76v10.6h-4.76zM469.4 307.0h4.76v10.6h-4.76zM483.3 318.9h4.76v10.6h-4.76zM487.9 328.8h4.76v10.6h-4.76zM497.1 338.6h4.76v10.6h-4.76zM501.7 348.5h4.76v10.6h-4.76zM506.3 407.7h4.76v10.6h-4.76zM510.9 407.7h4.76v10.6h-4.76zM524.7 397.8h4.76v10.6h-4.76zM529.3 536.0h4.76v10.6h-4.76zM533.9 536.0h4.76v10.6h-4.76zM538.5 526.1h4.76v10.6h-4.76zM543.2 526.1h4.76v10.6h-4.76zM547.8 536.0h4.76v10.6h-4.76zM557.0 415.6h4.76v10.6h-4.76zM570.8 307.0h4.76v10.6h-4.76zM593.8 299.1h4.76v10.6h-4.76zM644.5 267.5h4.76v10.6h-4.76zM649.1 267.5h4.76v10.6h-4.76zM690.6 316.9h4.76v10.6h-4.76zM699.8 316.9h4.76v10.6h-4.76zM713.6 368.2h4.76v10.6h-4.76zM718.3 318.9h4.76v10.6h-4.76zM722.9 279.4h4.76v10.6h-4.76zM727.5 239.9h4.76v10.6h-4.76zM755.1 210.3h4.76v10.6h-4.76zM764.3 208.3h4.76v10.6h-4.76zM787.4 309.0h4.76v10.6h-4.76zM792.0 318.9h4.76v10.6h-4.76zM810.4 257.7h4.76v10.6h-4.76zM815.0 237.9h4.76v10.6h-4.76zM819.6 218.2h4.76v10.6h-4.76zM828.8 200.4h4.76v10.6h-4.76zM847.3 309.0h4.76v10.6h-4.76zM861.1 316.9h4.76v10.6h-4.76zM870.3 316.9h4.76v10.6h-4.76zM874.9 318.9h4.76v10.6h-4.76zM879.5 318.9h4.76v10.6h-4.76zM888.7 318.9h4.76v10.6h-4.76zM893.4 318.9h4.76v10.6h-4.76zM898.0 318.9h4.76v10.6h-4.76zM902.6 318.9h4.76v10.6h-4.76zM911.8 328.8h4.76v10.6h-4.76zM925.6 338.6h4.76v10.6h-4.76zM930.2 338.6h4.76v10.6h-4.76zM934.8 358.4h4.76v10.6h-4.76zM944.0 407.7h4.76v10.6h-4.76zM953.3 417.6h4.76v10.6h-4.76zM999.3 415.6h4.76v10.6h-4.76zM1040.8 230.0h4.76v10.6h-4.76zM1050.0 210.3h4.76v10.6h-4.76zM1063.8 208.3h4.76v10.6h-4.76zM1073.1 208.3h4.76v10.6h-4.76zM1077.7 228.0h4.76v10.6h-4.76zM1082.3 239.9h4.76v10.6h-4.76zM1096.1 220.2h4.76v10.6h-4.76zM1109.9 200.4h4.76v10.6h-4.76zM1128.4 190.6h4.76v10.6h-4.76zM1133.0 190.6h4.76v10.6h-4.76zM1137.6 190.6h4.76v10.6h-4.76zM1142.2 190.6h4.76v10.6h-4.76z"/>
<path fill="#b9ff3e" d="M211.4 198.4h4.76v10.6h-4.76zM234.4 208.3h4.76v10.6h-4.76zM239.0 208.3h4.76v10.6h-4.76zM252.9 210.3h4.76v10.6h-4.76zM285.1 230.0h4.76v10.6h-4.76zM322.0 228.0h4.76v10.6h-4.76zM354.2 198.4h4.76v10.6h-4.76zM386.5 190.6h4.76v10.6h-4.76zM409.5 190.6h4.76v10.6h-4.76zM437.2 239.9h4.76v10.6h-4.76zM441.8 249.8h4.76v10.6h-4.76zM455.6 269.5h4.76v10.6h-4.76zM474.0 307.0h4.76v10.6h-4.76zM478.6 307.0h4.76v10.6h-4.76zM492.5 328.8h4.76v10.6h-4.76zM506.3 397.8h4.76v10.6h-4.76zM520.1 388.0h4.76v10.6h-4.76zM543.2 516.3h4.76v10.6h-4.76zM547.8 526.1h4.76v10.6h-4.76zM552.4 484.7h4.76v10.6h-4.76zM557.0 405.7h4.76v10.6h-4.76zM561.6 356.4h4.76v10.6h-4.76zM612.3 289.3h4.76v10.6h-4.76zM621.5 289.3h4.76v10.6h-4.76zM635.3 279.4h4.76v10.6h-4.76zM653.7 267.5h4.76v10.6h-4.76zM658.3 267.5h4.76v10.6h-4.76zM663.0 267.5h4.76v10.6h-4.76zM667.6 259.7h4.76v10.6h-4.76zM681.4 269.5h4.76v10.6h-4.76zM686.0 299.1h4.76v10.6h-4.76zM695.2 307.0h4.76v10.6h-4.76zM699.8 307.0h4.76v10.6h-4.76zM704.4 326.8h4.76v10.6h-4.76zM709.0 366.2h4.76v10.6h-4.76zM713.6 358.4h4.76v10.6h-4.76zM718.3 309.0h4.76v10.6h-4.76zM722.9 269.5h4.76v10.6h-4.76zM736.7 230.0h4.76v10.6h-4.76zM745.9 220.2h4.76v10.6h-4.76zM750.5 220.2h4.76v10.6h-4.76zM759.7 208.3h4.76v10.6h-4.76zM773.5 208.3h4.76v10.6h-4.76zM778.2 228.0h4.76v10.6h-4.76zM782.8 269.5h4.76v10.6h-4.76zM796.6 309.0h4.76v10.6h-4.76zM801.2 309.0h4.76v10.6h-4.76zM805.8 287.3h4.76v10.6h-4.76zM824.2 198.4h4.76v10.6h-4.76zM833.4 200.4h4.76v10.6h-4.76zM838.1 239.9h4.76v10.6h-4.76zM842.7 279.4h4.76v10.6h-4.76zM851.9 307.0h4.76v10.6h-4.76zM856.5 307.0h4.76v10.6h-4.76zM865.7 316.9h4.76v10.6h-4.76zM884.1 318.9h4.76v10.6h-4.76zM898.0 309.0h4.76v10.6h-4.76zM907.2 318.9h4.76v10.6h-4.76zM911.8 318.9h4.76v10.6h-4.76zM916.4 318.9h4.76v10.6h-4.76zM921.0 328.8h4.76v10.6h-4.76zM925.6 328.8h4.76v10.6h-4.76zM934.8 348.5h4.76v10.6h-4.76zM939.4 407.7h4.76v10.6h-4.76zM948.6 407.7h4.76v10.6h-4.76zM957.9 447.2h4.76v10.6h-4.76zM962.5 259.7h4.76v10.6h-4.76zM1013.2 277.4h4.76v10.6h-4.76zM1022.4 267.5h4.76v10.6h-4.76zM1031.6 247.8h4.76v10.6h-4.76zM1059.2 208.3h4.76v10.6h-4.76zM1068.5 208.3h4.76v10.6h-4.76zM1077.7 218.2h4.76v10.6h-4.76zM1082.3 230.0h4.76v10.6h-4.76zM1091.5 210.3h4.76v10.6h-4.76zM1119.1 190.6h4.76v10.6h-4.76z"/>
<path fill="#caff2d" d="M197.6 200.4h4.76v10.6h-4.76zM206.8 198.4h4.76v10.6h-4.76zM271.3 220.2h4.76v10.6h-4.76zM275.9 220.2h4.76v10.6h-4.76zM308.2 269.5h4.76v10.6h-4.76zM312.8 259.7h4.76v10.6h-4.76zM326.6 218.2h4.76v10.6h-4.76zM335.8 208.3h4.76v10.6h-4.76zM372.7 190.6h4.76v10.6h-4.76zM395.7 190.6h4.76v10.6h-4.76zM432.6 220.2h4.76v10.6h-4.76zM446.4 249.8h4.76v10.6h-4.76zM451.0 259.7h4.76v10.6h-4.76zM460.2 277.4h4.76v10.6h-4.76zM464.8 287.3h4.76v10.6h-4.76zM469.4 297.1h4.76v10.6h-4.76zM487.9 318.9h4.76v10.6h-4.76zM497.1 328.8h4.76v10.6h-4.76zM501.7 338.6h4.76v10.6h-4.76zM510.9 397.8h4.76v10.6h-4.76zM515.5 388.0h4.76v10.6h-4.76zM538.5 516.3h4.76v10.6h-4.76zM543.2 506.4h4.76v10.6h-4.76zM547.8 516.3h4.76v10.6h-4.76zM552.4 474.8h4.76v10.6h-4.76zM607.7 289.3h4.76v10.6h-4.76zM616.9 289.3h4.76v10.6h-4.76zM626.1 279.4h4.76v10.6h-4.76zM630.7 279.4h4.76v10.6h-4.76zM639.9 269.5h4.76v10.6h-4.76zM672.2 259.7h4.76v10.6h-4.76zM676.8 259.7h4.76v10.6h-4.76zM690.6 307.0h4.76v10.6h-4.76zM695.2 297.1h4.76v10.6h-4.76zM704.4 316.9h4.76v10.6h-4.76zM709.0 356.4h4.76v10.6h-4.76zM718.3 299.1h4.76v10.6h-4.76zM732.1 230.0h4.76v10.6h-4.76zM741.3 220.2h4.76v10.6h-4.76zM768.9 208.3h4.76v10.6h-4.76zM787.4 299.1h4.76v10.6h-4.76zM792.0 309.0h4.76v10.6h-4.76zM801.2 299.1h4.76v10.6h-4.76zM805.8 277.4h4.76v10.6h-4.76zM810.4 247.8h4.76v10.6h-4.76zM815.0 228.0h4.76v10.6h-4.76zM819.6 208.3h4.76v10.6h-4.76zM847.3 299.1h4.76v10.6h-4.76zM851.9 297.1h4.76v10.6h-4.76zM861.1 307.0h4.76v10.6h-4.76zM865.7 307.0h4.76v10.6h-4.76zM870.3 307.0h4.76v10.6h-4.76zM874.9 309.0h4.76v10.6h-4.76zM879.5 309.0h4.76v10.6h-4.76zM888.7 309.0h4.76v10.6h-4.76zM893.4 309.0h4.76v10.6h-4.76zM902.6 309.0h4.76v10.6h-4.76zM916.4 309.0h4.76v10.6h-4.76zM930.2 328.8h4.76v10.6h-4.76zM967.1 249.8h4.76v10.6h-4.76zM971.7 239.9h4.76v10.6h-4.76zM980.9 230.0h4.76v10.6h-4.76zM994.7 405.7h4.76v10.6h-4.76zM999.3 405.7h4.76v10.6h-4.76zM1003.9 267.5h4.76v10.6h-4.76zM1008.5 267.5h4.76v10.6h-4.76zM1017.8 277.4h4.76v10.6h-4.76zM1027.0 257.7h4.76v10.6h-4.76zM1045.4 210.3h4.76v10.6h-4.76zM1054.6 200.4h4.76v10.6h-4.76zM1077.7 208.3h4.76v10.6h-4.76zM1082.3 220.2h4.76v10.6h-4.76zM1123.7 190.6h4.76v10.6h-4.76z"/>
<path fill="#dbff1c" d="M193.0 200.4h4.76v10.6h-4.76zM257.5 210.3h4.76v10.6h-4.76zM298.9 249.8h4.76v10.6h-4.76zM303.5 259.7h4.76v10.6h-4.76zM317.4 239.9h4.76v10.6h-4.76zM331.2 208.3h4.76v10.6h-4.76zM368.1 190.6h4.76v10.6h-4.76zM381.9 180.7h4.76v10.6h-4.76zM404.9 190.6h4.76v10.6h-4.76zM428.0 210.3h4.76v10.6h-4.76zM441.8 239.9h4.76v10.6h-4.76zM446.4 239.9h4.76v10.6h-4.76zM455.6 259.7h4.76v10.6h-4.76zM474.0 297.1h4.76v10.6h-4.76zM478.6 297.1h4.76v10.6h-4.76zM483.3 309.0h4.76v10.6h-4.76zM492.5 318.9h4.76v10.6h-4.76zM506.3 388.0h4.76v10.6h-4.76zM510.9 388.0h4.76v10.6h-4.76zM538.5 506.4h4.76v10.6h-4.76zM543.2 496.5h4.76v10.6h-4.76zM557.0 395.8h4.76v10.6h-4.76zM580.0 299.1h4.76v10.6h-4.76zM584.6 299.1h4.76v10.6h-4.76zM589.2 289.3h4.76v10.6h-4.76zM598.4 289.3h4.76v10.6h-4.76zM603.1 289.3h4.76v10.6h-4.76zM681.4 259.7h4.76v10.6h-4.76zM686.0 289.3h4.76v10.6h-4.76zM695.2 287.3h4.76v10.6h-4.76zM699.8 297.1h4.76v10.6h-4.76zM713.6 348.5h4.76v10.6h-4.76zM718.3 289.3h4.76v10.6h-4.76zM722.9 259.7h4.76v10.6h-4.76zM782.8 259.7h4.76v10.6h-4.76zM796.6 299.1h4.76v10.6h-4.76zM815.0 99.7h4.76v30.3h-4.76zM828.8 82.0h4.76v50.0h-4.76zM833.4 82.0h4.76v50.0h-4.76zM842.7 269.5h4.76v10.6h-4.76zM851.9 80.0h4.76v50.0h-4.76zM856.5 297.1h4.76v10.6h-4.76zM870.3 297.1h4.76v10.6h-4.76zM884.1 309.0h4.76v10.6h-4.76zM888.7 299.1h4.76v10.6h-4.76zM898.0 299.1h4.76v10.6h-4.76zM907.2 309.0h4.76v10.6h-4.76zM911.8 309.0h4.76v10.6h-4.76zM921.0 318.9h4.76v10.6h-4.76zM925.6 318.9h4.76v10.6h-4.76zM930.2 318.9h4.76v10.6h-4.76zM934.8 338.6h4.76v10.6h-4.76zM953.3 407.7h4.76v10.6h-4.76zM957.9 437.3h4.76v10.6h-4.76zM976.3 230.0h4.76v10.6h-4.76zM990.1 237.9h4.76v10.6h-4.76zM1036.2 230.0h4.76v10.6h-4.76zM1050.0 200.4h4.76v10.6h-4.76zM1073.1 198.4h4.76v10.6h-4.76zM1077.7 198.4h4.76v10.6h-4.76zM1082.3 210.3h4.76v10.6h-4.76zM1086.9 200.4h4.76v10.6h-4.76zM1100.7 200.4h4.76v10.6h-4.76zM1114.5 190.6h4.76v10.6h-4.76zM1119.1 82.0h4.76v30.3h-4.76zM1146.8 190.6h4.76v10.6h-4.76zM1151.4 190.6h4.76v10.6h-4.76z"/>
<path fill="#ecff0b" d="M169.9 190.6h4.76v10.6h-4.76zM183.7 190.6h4.76v10.6h-4.76zM202.2 190.6h4.76v10.6h-4.76zM216.0 198.4h4.76v10.6h-4.76zM262.1 210.3h4.76v10.6h-4.76zM280.5 220.2h4.76v10.6h-4.76zM285.1 220.2h4.76v10.6h-4.76zM289.7 239.9h4.76v10.6h-4.76zM294.3 111.6h4.76v10.6h-4.76zM294.3 239.9h4.76v10.6h-4.76zM298.9 82.0h4.76v50.0h-4.76zM298.9 239.9h4.76v10.6h-4.76zM308.2 82.0h4.76v50.0h-4.76zM308.2 259.7h4.76v10.6h-4.76zM312.8 82.0h4.76v50.0h-4.76zM312.8 249.8h4.76v10.6h-4.76zM317.4 82.0h4.76v50.0h-4.76zM322.0 80.0h4.76v50.0h-4.76zM322.0 218.2h4.76v10.6h-4.76zM335.8 119.5h4.76v10.6h-4.76zM340.4 208.3h4.76v10.6h-4.76zM349.6 198.4h4.76v10.6h-4.76zM354.2 109.6h4.76v20.4h-4.76zM358.8 80.0h4.76v50.0h-4.76zM358.8 188.6h4.76v10.6h-4.76zM391.1 180.7h4.76v10.6h-4.76zM400.3 190.6h4.76v10.6h-4.76zM409.5 180.7h4.76v10.6h-4.76zM414.1 190.6h4.76v10.6h-4.76zM423.3 200.4h4.76v10.6h-4.76zM432.6 210.3h4.76v10.6h-4.76zM437.2 230.0h4.76v10.6h-4.76zM451.0 249.8h4.76v10.6h-4.76zM455.6 249.8h4.76v10.6h-4.76zM460.2 267.5h4.76v10.6h-4.76zM464.8 277.4h4.76v10.6h-4.76zM469.4 287.3h4.76v10.6h-4.76zM478.6 287.3h4.76v10.6h-4.76zM487.9 299.1h4.76v20.4h-4.76zM497.1 318.9h4.76v10.6h-4.76zM501.7 318.9h4.76v20.4h-4.76zM506.3 378.1h4.76v10.6h-4.76zM510.9 378.1h4.76v10.6h-4.76zM538.5 496.5h4.76v10.6h-4.76zM543.2 486.7h4.76v10.6h-4.76zM547.8 506.4h4.76v10.6h-4.76zM552.4 464.9h4.76v10.6h-4.76zM557.0 386.0h4.76v10.6h-4.76zM561.6 346.5h4.76v10.6h-4.76zM575.4 299.1h4.76v10.6h-4.76zM593.8 289.3h4.76v10.6h-4.76zM612.3 279.4h4.76v10.6h-4.76zM621.5 279.4h4.76v10.6h-4.76zM626.1 269.5h4.76v10.6h-4.76zM635.3 269.5h4.76v10.6h-4.76zM644.5 257.7h4.76v10.6h-4.76zM649.1 257.7h4.76v10.6h-4.76zM653.7 257.7h4.76v10.6h-4.76zM658.3 257.7h4.76v10.6h-4.76zM663.0 257.7h4.76v10.6h-4.76zM667.6 249.8h4.76v10.6h-4.76zM676.8 82.0h4.76v10.6h-4.76zM676.8 249.8h4.76v10.6h-4.76zM681.4 82.0h4.76v30.3h-4.76zM686.0 279.4h4.76v10.6h-4.76zM690.6 297.1h4.76v10.6h-4.76zM695.2 80.0h4.76v30.3h-4.76zM695.2 277.4h4.76v10.6h-4.76zM699.8 287.3h4.76v10.6h-4.76zM704.4 307.0h4.76v10.6h-4.76zM709.0 346.5h4.76v10.6h-4.76zM713.6 82.0h4.76v30.3h-4.76zM718.3 82.0h4.76v30.3h-4.76zM718.3 279.4h4.76v10.6h-4.76zM722.9 249.8h4.76v10.6h-4.76zM727.5 82.0h4.76v20.4h-4.76zM727.5 230.0h4.76v10.6h-4.76zM736.7 220.2h4.76v10.6h-4.76zM745.9 82.0h4.76v30.3h-4.76zM745.9 210.3h4.76v10.6h-4.76zM750.5 210.3h4.76v10.6h-4.76zM755.1 200.4h4.76v10.6h-4.76zM764.3 198.4h4.76v10.6h-4.76zM773.5 198.4h4.76v10.6h-4.76zM778.2 218.2h4.76v10.6h-4.76zM787.4 289.3h4.76v10.6h-4.76zM792.0 299.1h4.76v10.6h-4.76zM801.2 289.3h4.76v10.6h-4.76zM805.8 80.0h4.76v50.0h-4.76zM805.8 267.5h4.76v10.6h-4.76zM810.4 80.0h4.76v50.0h-4.76zM810.4 237.9h4.76v10.6h-4.76zM815.0 80.0h4.76v20.4h-4.76zM815.0 218.2h4.76v10.6h-4.76zM819.6 80.0h4.76v50.0h-4.76zM824.2 80.0h4.76v50.0h-4.76zM828.8 190.6h4.76v10.6h-4.76zM833.4 190.6h4.76v10.6h-4.76zM838.1 82.0h4.76v50.0h-4.76zM838.1 230.0h4.76v10.6h-4.76zM842.7 82.0h4.76v50.0h-4.76zM847.3 82.0h4.76v50.0h-4.76zM847.3 289.3h4.76v10.6h-4.76zM851.9 277.4h4.76v20.4h-4.76zM856.5 80.0h4.76v50.0h-4.76zM856.5 287.3h4.76v10.6h-4.76zM861.1 119.5h4.76v10.6h-4.76zM861.1 297.1h4.76v10.6h-4.76zM865.7 297.1h4.76v10.6h-4.76zM870.3 109.6h4.76v10.6h-4.76zM870.3 287.3h4.76v10.6h-4.76zM874.9 299.1h4.76v10.6h-4.76zM879.5 299.1h4.76v10.6h-4.76zM884.1 299.1h4.76v10.6h-4.76zM888.7 289.3h4.76v10.6h-4.76zM893.4 299.1h4.76v10.6h-4.76zM898.0 289.3h4.76v10.6h-4.76zM902.6 299.1h4.76v10.6h-4.76zM907.2 299.1h4.76v10.6h-4.76zM911.8 299.1h4.76v10.6h-4.76zM916.4 299.1h4.76v10.6h-4.76zM921.0 309.0h4.76v10.6h-4.76zM925.6 309.0h4.76v10.6h-4.76zM930.2 309.0h4.76v10.6h-4.76zM934.8 328.8h4.76v10.6h-4.76zM939.4 397.8h4.76v10.6h-4.76zM944.0 397.8h4.76v10.6h-4.76zM948.6 397.8h4.76v10.6h-4.76zM962.5 249.8h4.76v10.6h-4.76zM967.1 239.9h4.76v10.6h-4.76zM985.5 220.2h4.76v10.6h-4.76zM994.7 395.8h4.76v10.6h-4.76zM1027.0 247.8h4.76v10.6h-4.76zM1040.8 220.2h4.76v10.6h-4.76zM1059.2 198.4h4.76v10.6h-4.76zM1063.8 198.4h4.76v10.6h-4.76zM1068.5 198.4h4.76v10.6h-4.76zM1096.1 210.3h4.76v10.6h-4.76zM1100.7 82.0h4.76v30.3h-4.76zM1105.3 82.0h4.76v30.3h-4.76zM1105.3 200.4h4.76v10.6h-4.76zM1109.9 82.0h4.76v30.3h-4.76zM1109.9 190.6h4.76v10.6h-4.76zM1114.5 82.0h4.76v30.3h-4.76zM1128.4 82.0h4.76v30.3h-4.76zM1133.0 82.0h4.76v30.3h-4.76zM1137.6 82.0h4.76v30.3h-4.76z"/>
<path fill="#fcef00" d="M160.7 190.6h4.76v10.6h-4.76zM165.3 190.6h4.76v10.6h-4.76zM174.5 190.6h4.76v10.6h-4.76zM179.1 190.6h4.76v10.6h-4.76zM188.3 190.6h4.76v10.6h-4.76zM220.6 198.4h4.76v10.6h-4.76zM225.2 198.4h4.76v10.6h-4.76zM229.8 198.4h4.76v10.6h-4.76zM243.6 198.4h4.76v10.6h-4.76zM248.2 198.4h4.76v10.6h-4.76zM266.7 210.3h4.76v10.6h-4.76zM275.9 210.3h4.76v10.6h-4.76zM280.5 111.6h4.76v10.6h-4.76zM285.1 101.7h4.76v20.4h-4.76zM294.3 82.0h4.76v30.3h-4.76zM294.3 230.0h4.76v10.6h-4.76zM298.9 230.0h4.76v10.6h-4.76zM303.5 82.0h4.76v50.0h-4.76zM303.5 249.8h4.76v10.6h-4.76zM308.2 239.9h4.76v20.4h-4.76zM312.8 239.9h4.76v10.6h-4.76zM317.4 230.0h4.76v10.6h-4.76zM326.6 80.0h4.76v50.0h-4.76zM326.6 208.3h4.76v10.6h-4.76zM331.2 89.9h4.76v40.2h-4.76zM335.8 80.0h4.76v40.2h-4.76zM335.8 198.4h4.76v10.6h-4.76zM340.4 80.0h4.76v50.0h-4.76zM345.0 119.5h4.76v10.6h-4.76zM345.0 198.4h4.76v10.6h-4.76zM349.6 89.9h4.76v40.2h-4.76zM354.2 80.0h4.76v30.3h-4.76zM354.2 129.3h4.76v10.6h-4.76zM363.4 80.0h4.76v50.0h-4.76zM363.4 188.6h4.76v10.6h-4.76zM368.1 82.0h4.76v30.3h-4.76zM372.7 180.7h4.76v10.6h-4.76zM377.3 180.7h4.76v10.6h-4.76zM381.9 170.8h4.76v10.6h-4.76zM386.5 180.7h4.76v10.6h-4.76zM391.1 170.8h4.76v10.6h-4.76zM395.7 180.7h4.76v10.6h-4.76zM418.7 190.6h4.76v10.6h-4.76zM441.8 230.0h4.76v10.6h-4.76zM446.4 230.0h4.76v10.6h-4.76zM451.0 239.9h4.76v10.6h-4.76zM455.6 239.9h4.76v10.6h-4.76zM460.2 257.7h4.76v10.6h-4.76zM464.8 267.5h4.76v10.6h-4.76zM469.4 277.4h4.76v10.6h-4.76zM474.0 277.4h4.76v20.4h-4.76zM478.6 277.4h4.76v10.6h-4.76zM483.3 299.1h4.76v10.6h-4.76zM487.9 289.3h4.76v10.6h-4.76zM492.5 299.1h4.76v20.4h-4.76zM497.1 309.0h4.76v10.6h-4.76zM501.7 309.0h4.76v10.6h-4.76zM506.3 368.2h4.76v10.6h-4.76zM524.7 388.0h4.76v10.6h-4.76zM529.3 526.1h4.76v10.6h-4.76zM533.9 526.1h4.76v10.6h-4.76zM538.5 486.7h4.76v10.6h-4.76zM543.2 476.8h4.76v10.6h-4.76zM547.8 496.5h4.76v10.6h-4.76zM552.4 455.1h4.76v10.6h-4.76zM557.0 376.1h4.76v10.6h-4.76zM566.2 307.0h4.76v10.6h-4.76zM584.6 289.3h4.76v10.6h-4.76zM589.2 279.4h4.76v10.6h-4.76zM607.7 279.4h4.76v10.6h-4.76zM630.7 269.5h4.76v10.6h-4.76zM639.9 259.7h4.76v10.6h-4.76zM667.6 82.0h4.76v20.4h-4.76zM672.2 82.0h4.76v20.4h-4.76zM672.2 249.8h4.76v10.6h-4.76zM676.8 91.9h4.76v20.4h-4.76zM681.4 249.8h4.76v10.6h-4.76zM686.0 82.0h4.76v30.3h-4.76zM686.0 269.5h4.76v10.6h-4.76zM690.6 80.0h4.76v20.4h-4.76zM690.6 287.3h4.76v10.6h-4.76zM695.2 257.7h4.76v20.4h-4.76zM699.8 80.0h4.76v30.3h-4.76zM699.8 267.5h4.76v20.4h-4.76zM704.4 80.0h4.76v40.2h-4.76zM704.4 287.3h4.76v20.4h-4.76zM709.0 80.0h4.76v10.6h-4.76zM709.0 336.6h4.76v10.6h-4.76zM713.6 338.6h4.76v10.6h-4.76zM718.3 269.5h4.76v10.6h-4.76zM722.9 82.0h4.76v30.3h-4.76zM722.9 239.9h4.76v10.6h-4.76zM727.5 101.7h4.76v10.6h-4.76zM727.5 220.2h4.76v10.6h-4.76zM732.1 82.0h4.76v30.3h-4.76zM732.1 220.2h4.76v10.6h-4.76zM736.7 82.0h4.76v30.3h-4.76zM741.3 82.0h4.76v20.4h-4.76zM741.3 210.3h4.76v10.6h-4.76zM745.9 111.6h4.76v10.6h-4.76zM750.5 82.0h4.76v30.3h-4.76zM755.1 82.0h4.76v30.3h-4.76zM759.7 80.0h4.76v20.4h-4.76zM759.7 198.4h4.76v10.6h-4.76zM764.3 80.0h4.76v20.4h-4.76zM768.9 80.0h4.76v10.6h-4.76zM768.9 198.4h4.76v10.6h-4.76zM773.5 80.0h4.76v30.3h-4.76zM778.2 80.0h4.76v20.4h-4.76zM782.8 82.0h4.76v10.6h-4.76zM782.8 249.8h4.76v10.6h-4.76zM792.0 289.3h4.76v10.6h-4.76zM796.6 82.0h4.76v30.3h-4.76zM796.6 289.3h4.76v10.6h-4.76zM801.2 82.0h4.76v40.2h-4.76zM801.2 279.4h4.76v10.6h-4.76zM805.8 257.7h4.76v10.6h-4.76zM819.6 198.4h4.76v10.6h-4.76zM824.2 188.6h4.76v10.6h-4.76zM838.1 220.2h4.76v10.6h-4.76zM842.7 249.8h4.76v20.4h-4.76zM847.3 269.5h4.76v20.4h-4.76zM851.9 267.5h4.76v10.6h-4.76zM856.5 267.5h4.76v20.4h-4.76zM861.1 80.0h4.76v40.2h-4.76zM861.1 277.4h4.76v20.4h-4.76zM865.7 80.0h4.76v50.0h-4.76zM865.7 287.3h4.76v10.6h-4.76zM870.3 80.0h4.76v30.3h-4.76zM870.3 119.5h4.76v10.6h-4.76zM870.3 277.4h4.76v10.6h-4.76zM874.9 289.3h4.76v10.6h-4.76zM879.5 289.3h4.76v10.6h-4.76zM884.1 289.3h4.76v10.6h-4.76zM888.7 279.4h4.76v10.6h-4.76zM893.4 279.4h4.76v20.4h-4.76zM898.0 269.5h4.76v20.4h-4.76zM902.6 279.4h4.76v20.4h-4.76zM907.2 289.3h4.76v10.6h-4.76zM911.8 289.3h4.76v10.6h-4.76zM916.4 279.4h4.76v20.4h-4.76zM921.0 299.1h4.76v10.6h-4.76zM925.6 289.3h4.76v20.4h-4.76zM930.2 299.1h4.76v10.6h-4.76zM934.8 318.9h4.76v10.6h-4.76zM953.3 397.8h4.76v10.6h-4.76zM957.9 427.4h4.76v10.6h-4.76zM971.7 230.0h4.76v10.6h-4.76zM976.3 220.2h4.76v10.6h-4.76zM980.9 220.2h4.76v10.6h-4.76zM990.1 228.0h4.76v10.6h-4.76zM994.7 366.2h4.76v30.3h-4.76zM999.3 376.1h4.76v30.3h-4.76zM1003.9 257.7h4.76v10.6h-4.76zM1008.5 257.7h4.76v10.6h-4.76zM1013.2 267.5h4.76v10.6h-4.76zM1017.8 267.5h4.76v10.6h-4.76zM1022.4 257.7h4.76v10.6h-4.76zM1031.6 237.9h4.76v10.6h-4.76zM1036.2 220.2h4.76v10.6h-4.76zM1045.4 200.4h4.76v10.6h-4.76zM1050.0 190.6h4.76v10.6h-4.76zM1054.6 190.6h4.76v10.6h-4.76zM1082.3 200.4h4.76v10.6h-4.76zM1091.5 200.4h4.76v10.6h-4.76zM1096.1 82.0h4.76v30.3h-4.76zM1119.1 111.6h4.76v10.6h-4.76zM1119.1 180.7h4.76v10.6h-4.76zM1123.7 82.0h4.76v30.3h-4.76zM1128.4 180.7h4.76v10.6h-4.76zM1133.0 111.6h4.76v10.6h-4.76zM1133.0 180.7h4.76v10.6h-4.76zM1137.6 180.7h4.76v10.6h-4.76zM1142.2 82.0h4.76v30.3h-4.76zM1142.2 180.7h4.76v10.6h-4.76zM1146.8 82.0h4.76v30.3h-4.76zM1151.4 82.0h4.76v40.2h-4.76z"/>
<path fill="#ffdc00" d="M197.6 190.6h4.76v10.6h-4.76zM206.8 188.6h4.76v10.6h-4.76zM211.4 188.6h4.76v10.6h-4.76zM252.9 200.4h4.76v10.6h-4.76zM271.3 210.3h4.76v10.6h-4.76zM275.9 91.9h4.76v20.4h-4.76zM280.5 82.0h4.76v30.3h-4.76zM280.5 210.3h4.76v10.6h-4.76zM285.1 82.0h4.76v20.4h-4.76zM285.1 210.3h4.76v10.6h-4.76zM289.7 82.0h4.76v40.2h-4.76zM289.7 230.0h4.76v10.6h-4.76zM294.3 121.5h4.76v10.6h-4.76zM294.3 220.2h4.76v10.6h-4.76zM298.9 220.2h4.76v10.6h-4.76zM303.5 239.9h4.76v10.6h-4.76zM308.2 230.0h4.76v10.6h-4.76zM312.8 230.0h4.76v10.6h-4.76zM317.4 220.2h4.76v10.6h-4.76zM322.0 208.3h4.76v10.6h-4.76zM326.6 129.3h4.76v10.6h-4.76zM331.2 80.0h4.76v10.6h-4.76zM331.2 198.4h4.76v10.6h-4.76zM340.4 129.3h4.76v10.6h-4.76zM345.0 80.0h4.76v40.2h-4.76zM349.6 80.0h4.76v10.6h-4.76zM349.6 129.3h4.76v10.6h-4.76zM354.2 188.6h4.76v10.6h-4.76zM358.8 129.3h4.76v10.6h-4.76zM368.1 111.6h4.76v10.6h-4.76zM368.1 180.7h4.76v10.6h-4.76zM372.7 82.0h4.76v30.3h-4.76zM404.9 180.7h4.76v10.6h-4.76zM409.5 170.8h4.76v10.6h-4.76zM414.1 180.7h4.76v10.6h-4.76zM423.3 190.6h4.76v10.6h-4.76zM428.0 200.4h4.76v10.6h-4.76zM432.6 200.4h4.76v10.6h-4.76zM437.2 220.2h4.76v10.6h-4.76zM446.4 220.2h4.76v10.6h-4.76zM460.2 247.8h4.76v10.6h-4.76zM464.8 257.7h4.76v10.6h-4.76zM469.4 267.5h4.76v10.6h-4.76zM474.0 267.5h4.76v10.6h-4.76zM478.6 267.5h4.76v10.6h-4.76zM483.3 279.4h4.76v20.4h-4.76zM487.9 279.4h4.76v10.6h-4.76zM492.5 289.3h4.76v10.6h-4.76zM497.1 289.3h4.76v20.4h-4.76zM501.7 299.1h4.76v10.6h-4.76zM510.9 368.2h4.76v10.6h-4.76zM515.5 378.1h4.76v10.6h-4.76zM520.1 378.1h4.76v10.6h-4.76zM538.5 476.8h4.76v10.6h-4.76zM543.2 466.9h4.76v10.6h-4.76zM547.8 486.7h4.76v10.6h-4.76zM552.4 445.2h4.76v10.6h-4.76zM557.0 366.2h4.76v10.6h-4.76zM561.6 336.6h4.76v10.6h-4.76zM570.8 297.1h4.76v10.6h-4.76zM580.0 289.3h4.76v10.6h-4.76zM593.8 279.4h4.76v10.6h-4.76zM598.4 279.4h4.76v10.6h-4.76zM603.1 279.4h4.76v10.6h-4.76zM612.3 269.5h4.76v10.6h-4.76zM616.9 279.4h4.76v10.6h-4.76zM621.5 269.5h4.76v10.6h-4.76zM626.1 259.7h4.76v10.6h-4.76zM644.5 247.8h4.76v10.6h-4.76zM649.1 247.8h4.76v10.6h-4.76zM658.3 247.8h4.76v10.6h-4.76zM663.0 247.8h4.76v10.6h-4.76zM667.6 239.9h4.76v10.6h-4.76zM672.2 239.9h4.76v10.6h-4.76zM676.8 239.9h4.76v10.6h-4.76zM681.4 239.9h4.76v10.6h-4.76zM686.0 259.7h4.76v10.6h-4.76zM690.6 99.7h4.76v10.6h-4.76zM690.6 267.5h4.76v20.4h-4.76zM695.2 247.8h4.76v10.6h-4.76zM699.8 109.6h4.76v10.6h-4.76zM699.8 257.7h4.76v10.6h-4.76zM704.4 277.4h4.76v10.6h-4.76zM709.0 89.9h4.76v30.3h-4.76zM713.6 111.6h4.76v10.6h-4.76zM713.6 328.8h4.76v10.6h-4.76zM718.3 259.7h4.76v10.6h-4.76zM722.9 230.0h4.76v10.6h-4.76zM736.7 210.3h4.76v10.6h-4.76zM741.3 101.7h4.76v10.6h-4.76zM745.9 200.4h4.76v10.6h-4.76zM750.5 111.6h4.76v10.6h-4.76zM750.5 200.4h4.76v10.6h-4.76zM755.1 190.6h4.76v10.6h-4.76zM759.7 99.7h4.76v20.4h-4.76zM764.3 99.7h4.76v20.4h-4.76zM764.3 188.6h4.76v10.6h-4.76zM768.9 89.9h4.76v30.3h-4.76zM773.5 109.6h4.76v10.6h-4.76zM773.5 188.6h4.76v10.6h-4.76zM778.2 99.7h4.76v10.6h-4.76zM778.2 208.3h4.76v10.6h-4.76zM782.8 91.9h4.76v20.4h-4.76zM782.8 239.9h4.76v10.6h-4.76zM787.4 82.0h4.76v20.4h-4.76zM787.4 269.5h4.76v20.4h-4.76zM792.0 82.0h4.76v30.3h-4.76zM792.0 279.4h4.76v10.6h-4.76zM796.6 111.6h4.76v10.6h-4.76zM796.6 269.5h4.76v20.4h-4.76zM801.2 269.5h4.76v10.6h-4.76zM805.8 247.8h4.76v10.6h-4.76zM810.4 228.0h4.76v10.6h-4.76zM815.0 208.3h4.76v10.6h-4.76zM828.8 180.7h4.76v10.6h-4.76zM833.4 180.7h4.76v10.6h-4.76zM842.7 239.9h4.76v10.6h-4.76zM847.3 249.8h4.76v20.4h-4.76zM851.9 129.3h4.76v10.6h-4.76zM851.9 247.8h4.76v20.4h-4.76zM856.5 257.7h4.76v10.6h-4.76zM861.1 267.5h4.76v10.6h-4.76zM865.7 267.5h4.76v20.4h-4.76zM870.3 257.7h4.76v20.4h-4.76zM874.9 82.0h4.76v40.2h-4.76zM874.9 269.5h4.76v20.4h-4.76zM879.5 269.5h4.76v20.4h-4.76zM884.1 269.5h4.76v20.4h-4.76zM888.7 259.7h4.76v20.4h-4.76zM893.4 269.5h4.76v10.6h-4.76zM898.0 259.7h4.76v10.6h-4.76zM902.6 269.5h4.76v10.6h-4.76zM907.2 269.5h4.76v20.4h-4.76zM911.8 279.4h4.76v10.6h-4.76zM916.4 269.5h4.76v10.6h-4.76zM921.0 289.3h4.76v10.6h-4.76zM925.6 279.4h4.76v10.6h-4.76zM930.2 279.4h4.76v20.4h-4.76zM934.8 309.0h4.76v10.6h-4.76zM957.9 417.6h4.76v10.6h-4.76zM962.5 239.9h4.76v10.6h-4.76zM967.1 230.0h4.76v10.6h-4.76zM985.5 210.3h4.76v10.6h-4.76zM990.1 218.2h4.76v10.6h-4.76zM994.7 336.6h4.76v30.3h-4.76zM999.3 346.5h4.76v30.3h-4.76zM1003.9 247.8h4.76v10.6h-4.76zM1027.0 237.9h4.76v10.6h-4.76zM1031.6 228.0h4.76v10.6h-4.76zM1040.8 210.3h4.76v10.6h-4.76zM1045.4 190.6h4.76v10.6h-4.76zM1063.8 188.6h4.76v10.6h-4.76zM1077.7 188.6h4.76v10.6h-4.76zM1086.9 82.0h4.76v20.4h-4.76zM1091.5 82.0h4.76v20.4h-4.76zM1100.7 190.6h4.76v10.6h-4.76zM1105.3 111.6h4.76v10.6h-4.76zM1114.5 111.6h4.76v10.6h-4.76zM1114.5 180.7h4.76v10.6h-4.76zM1123.7 111.6h4.76v10.6h-4.76zM1123.7 180.7h4.76v10.6h-4.76zM1128.4 111.6h4.76v10.6h-4.76zM1137.6 111.6h4.76v10.6h-4.76zM1146.8 111.6h4.76v10.6h-4.76zM1146.8 180.7h4.76v10.6h-4.76zM1151.4 180.7h4.76v10.6h-4.76z"/>
<path fill="#ffc800" d="M160.7 180.7h4.76v10.6h-4.76zM165.3 180.7h4.76v10.6h-4.76zM169.9 180.7h4.76v10.6h-4.76zM179.1 180.7h4.76v10.6h-4.76zM183.7 180.7h4.76v10.6h-4.76zM193.0 190.6h4.76v10.6h-4.76zM202.2 180.7h4.76v10.6h-4.76zM216.0 188.6h4.76v10.6h-4.76zM234.4 198.4h4.76v10.6h-4.76zM239.0 198.4h4.76v10.6h-4.76zM257.5 200.4h4.76v10.6h-4.76zM262.1 101.7h4.76v10.6h-4.76zM262.1 200.4h4.76v10.6h-4.76zM275.9 82.0h4.76v10.6h-4.76zM275.9 111.6h4.76v10.6h-4.76zM275.9 200.4h4.76v10.6h-4.76zM289.7 121.5h4.76v10.6h-4.76zM289.7 220.2h4.76v10.6h-4.76zM294.3 210.3h4.76v10.6h-4.76zM298.9 210.3h4.76v10.6h-4.76zM303.5 220.2h4.76v20.4h-4.76zM308.2 220.2h4.76v10.6h-4.76zM312.8 131.3h4.76v10.6h-4.76zM312.8 220.2h4.76v10.6h-4.76zM317.4 131.3h4.76v10.6h-4.76zM317.4 210.3h4.76v10.6h-4.76zM322.0 129.3h4.76v10.6h-4.76zM335.8 129.3h4.76v10.6h-4.76zM340.4 198.4h4.76v10.6h-4.76zM345.0 129.3h4.76v10.6h-4.76zM363.4 178.7h4.76v10.6h-4.76zM372.7 170.8h4.76v10.6h-4.76zM377.3 170.8h4.76v10.6h-4.76zM381.9 161.0h4.76v10.6h-4.76zM386.5 170.8h4.76v10.6h-4.76zM391.1 161.0h4.76v10.6h-4.76zM395.7 170.8h4.76v10.6h-4.76zM400.3 180.7h4.76v10.6h-4.76zM418.7 180.7h4.76v10.6h-4.76zM441.8 220.2h4.76v10.6h-4.76zM451.0 230.0h4.76v10.6h-4.76zM455.6 230.0h4.76v10.6h-4.76zM460.2 237.9h4.76v10.6h-4.76zM464.8 247.8h4.76v10.6h-4.76zM469.4 257.7h4.76v10.6h-4.76zM474.0 257.7h4.76v10.6h-4.76zM478.6 247.8h4.76v20.4h-4.76zM483.3 269.5h4.76v10.6h-4.76zM487.9 259.7h4.76v20.4h-4.76zM492.5 279.4h4.76v10.6h-4.76zM497.1 279.4h4.76v10.6h-4.76zM501.7 289.3h4.76v10.6h-4.76zM538.5 466.9h4.76v10.6h-4.76zM543.2 457.1h4.76v10.6h-4.76zM547.8 476.8h4.76v10.6h-4.76zM552.4 435.3h4.76v10.6h-4.76zM557.0 356.4h4.76v10.6h-4.76zM561.6 326.8h4.76v10.6h-4.76zM575.4 289.3h4.76v10.6h-4.76zM584.6 279.4h4.76v10.6h-4.76zM589.2 269.5h4.76v10.6h-4.76zM593.8 269.5h4.76v10.6h-4.76zM607.7 269.5h4.76v10.6h-4.76zM616.9 269.5h4.76v10.6h-4.76zM630.7 259.7h4.76v10.6h-4.76zM635.3 259.7h4.76v10.6h-4.76zM639.9 249.8h4.76v10.6h-4.76zM653.7 247.8h4.76v10.6h-4.76zM663.0 80.0h4.76v20.4h-4.76zM667.6 230.0h4.76v10.6h-4.76zM672.2 101.7h4.76v10.6h-4.76zM686.0 239.9h4.76v20.4h-4.76zM690.6 257.7h4.76v10.6h-4.76zM695.2 109.6h4.76v10.6h-4.76zM695.2 228.0h4.76v20.4h-4.76zM699.8 247.8h4.76v10.6h-4.76zM704.4 267.5h4.76v10.6h-4.76zM709.0 326.8h4.76v10.6h-4.76zM713.6 318.9h4.76v10.6h-4.76zM718.3 111.6h4.76v10.6h-4.76zM718.3 249.8h4.76v10.6h-4.76zM722.9 111.6h4.76v10.6h-4.76zM722.9 220.2h4.76v10.6h-4.76zM727.5 210.3h4.76v10.6h-4.76zM732.1 210.3h4.76v10.6h-4.76zM736.7 111.6h4.76v10.6h-4.76zM741.3 200.4h4.76v10.6h-4.76zM745.9 190.6h4.76v10.6h-4.76zM755.1 180.7h4.76v10.6h-4.76zM759.7 188.6h4.76v10.6h-4.76zM768.9 188.6h4.76v10.6h-4.76zM778.2 109.6h4.76v10.6h-4.76zM778.2 198.4h4.76v10.6h-4.76zM782.8 230.0h4.76v10.6h-4.76zM787.4 101.7h4.76v10.6h-4.76zM787.4 259.7h4.76v10.6h-4.76zM792.0 111.6h4.76v10.6h-4.76zM792.0 269.5h4.76v10.6h-4.76zM796.6 259.7h4.76v10.6h-4.76zM801.2 259.7h4.76v10.6h-4.76zM805.8 237.9h4.76v10.6h-4.76zM810.4 218.2h4.76v10.6h-4.76zM815.0 198.4h4.76v10.6h-4.76zM819.6 188.6h4.76v10.6h-4.76zM824.2 178.7h4.76v10.6h-4.76zM838.1 210.3h4.76v10.6h-4.76zM842.7 230.0h4.76v10.6h-4.76zM847.3 131.3h4.76v10.6h-4.76zM847.3 239.9h4.76v10.6h-4.76zM851.9 228.0h4.76v20.4h-4.76zM856.5 129.3h4.76v10.6h-4.76zM856.5 237.9h4.76v20.4h-4.76zM861.1 247.8h4.76v20.4h-4.76zM865.7 257.7h4.76v10.6h-4.76zM870.3 247.8h4.76v10.6h-4.76zM874.9 259.7h4.76v10.6h-4.76zM879.5 82.0h4.76v40.2h-4.76zM879.5 259.7h4.76v10.6h-4.76zM884.1 82.0h4.76v30.3h-4.76zM884.1 259.7h4.76v10.6h-4.76zM888.7 82.0h4.76v20.4h-4.76zM888.7 249.8h4.76v10.6h-4.76zM893.4 249.8h4.76v20.4h-4.76zM898.0 239.9h4.76v20.4h-4.76zM902.6 249.8h4.76v20.4h-4.76zM907.2 259.7h4.76v10.6h-4.76zM911.8 259.7h4.76v20.4h-4.76zM916.4 259.7h4.76v10.6h-4.76zM921.0 269.5h4.76v20.4h-4.76zM925.6 259.7h4.76v20.4h-4.76zM930.2 269.5h4.76v10.6h-4.76zM934.8 289.3h4.76v20.4h-4.76zM962.5 230.0h4.76v10.6h-4.76zM971.7 220.2h4.76v10.6h-4.76zM976.3 210.3h4.76v10.6h-4.76zM980.9 210.3h4.76v10.6h-4.76zM994.7 297.1h4.76v40.2h-4.76zM999.3 307.0h4.76v40.2h-4.76zM1008.5 247.8h4.76v10.6h-4.76zM1013.2 257.7h4.76v10.6h-4.76zM1017.8 257.7h4.76v10.6h-4.76zM1022.4 247.8h4.76v10.6h-4.76zM1036.2 210.3h4.76v10.6h-4.76zM1050.0 180.7h4.76v10.6h-4.76zM1054.6 180.7h4.76v10.6h-4.76zM1059.2 188.6h4.76v10.6h-4.76zM1068.5 188.6h4.76v10.6h-4.76zM1073.1 80.0h4.76v10.6h-4.76zM1073.1 188.6h4.76v10.6h-4.76zM1077.7 80.0h4.76v10.6h-4.76zM1086.9 190.6h4.76v10.6h-4.76zM1091.5 101.7h4.76v10.6h-4.76zM1100.7 111.6h4.76v10.6h-4.76zM1105.3 190.6h4.76v10.6h-4.76zM1109.9 111.6h4.76v10.6h-4.76zM1109.9 180.7h4.76v10.6h-4.76zM1119.1 170.8h4.76v10.6h-4.76zM1128.4 170.8h4.76v10.6h-4.76zM1133.0 170.8h4.76v10.6h-4.76zM1137.6 170.8h4.76v10.6h-4.76zM1142.2 111.6h4.76v10.6h-4.76z"/>
<path fill="#ffb500" d="M174.5 180.7h4.76v10.6h-4.76zM188.3 180.7h4.76v10.6h-4.76zM225.2 188.6h4.76v10.6h-4.76zM262.1 91.9h4.76v10.6h-4.76zM266.7 101.7h4.76v10.6h-4.76zM266.7 200.4h4.76v10.6h-4.76zM271.3 91.9h4.76v20.4h-4.76zM280.5 200.4h4.76v10.6h-4.76zM285.1 200.4h4.76v10.6h-4.76zM289.7 210.3h4.76v10.6h-4.76zM294.3 200.4h4.76v10.6h-4.76zM298.9 131.3h4.76v10.6h-4.76zM298.9 200.4h4.76v10.6h-4.76zM303.5 210.3h4.76v10.6h-4.76zM308.2 131.3h4.76v10.6h-4.76zM308.2 210.3h4.76v10.6h-4.76zM312.8 210.3h4.76v10.6h-4.76zM317.4 200.4h4.76v10.6h-4.76zM322.0 198.4h4.76v10.6h-4.76zM326.6 198.4h4.76v10.6h-4.76zM331.2 129.3h4.76v10.6h-4.76zM335.8 188.6h4.76v10.6h-4.76zM345.0 188.6h4.76v10.6h-4.76zM349.6 188.6h4.76v10.6h-4.76zM358.8 178.7h4.76v10.6h-4.76zM368.1 170.8h4.76v10.6h-4.76zM377.3 82.0h4.76v20.4h-4.76zM381.9 82.0h4.76v10.6h-4.76zM404.9 91.9h4.76v20.4h-4.76zM404.9 170.8h4.76v10.6h-4.76zM409.5 101.7h4.76v10.6h-4.76zM414.1 170.8h4.76v10.6h-4.76zM423.3 180.7h4.76v10.6h-4.76zM428.0 190.6h4.76v10.6h-4.76zM432.6 190.6h4.76v10.6h-4.76zM437.2 210.3h4.76v10.6h-4.76zM441.8 210.3h4.76v10.6h-4.76zM446.4 210.3h4.76v10.6h-4.76zM451.0 220.2h4.76v10.6h-4.76zM455.6 220.2h4.76v10.6h-4.76zM460.2 228.0h4.76v10.6h-4.76zM464.8 237.9h4.76v10.6h-4.76zM469.4 247.8h4.76v10.6h-4.76zM474.0 247.8h4.76v10.6h-4.76zM478.6 237.9h4.76v10.6h-4.76zM483.3 259.7h4.76v10.6h-4.76zM487.9 249.8h4.76v10.6h-4.76zM492.5 259.7h4.76v20.4h-4.76zM497.1 269.5h4.76v10.6h-4.76zM501.7 269.5h4.76v20.4h-4.76zM538.5 457.1h4.76v10.6h-4.76zM543.2 447.2h4.76v10.6h-4.76zM547.8 466.9h4.76v10.6h-4.76zM552.4 425.4h4.76v10.6h-4.76zM557.0 346.5h4.76v10.6h-4.76zM580.0 279.4h4.76v10.6h-4.76zM584.6 269.5h4.76v10.6h-4.76zM598.4 269.5h4.76v10.6h-4.76zM603.1 269.5h4.76v10.6h-4.76zM612.3 259.7h4.76v10.6h-4.76zM621.5 259.7h4.76v10.6h-4.76zM626.1 249.8h4.76v10.6h-4.76zM644.5 237.9h4.76v10.6h-4.76zM649.1 237.9h4.76v10.6h-4.76zM658.3 80.0h4.76v10.6h-4.76zM663.0 237.9h4.76v10.6h-4.76zM672.2 230.0h4.76v10.6h-4.76zM676.8 230.0h4.76v10.6h-4.76zM681.4 230.0h4.76v10.6h-4.76zM686.0 230.0h4.76v10.6h-4.76zM690.6 237.9h4.76v20.4h-4.76zM695.2 218.2h4.76v10.6h-4.76zM699.8 228.0h4.76v20.4h-4.76zM704.4 257.7h4.76v10.6h-4.76zM709.0 316.9h4.76v10.6h-4.76zM713.6 309.0h4.76v10.6h-4.76zM718.3 239.9h4.76v10.6h-4.76zM722.9 210.3h4.76v10.6h-4.76zM727.5 111.6h4.76v10.6h-4.76zM727.5 200.4h4.76v10.6h-4.76zM732.1 111.6h4.76v10.6h-4.76zM732.1 200.4h4.76v10.6h-4.76zM736.7 200.4h4.76v10.6h-4.76zM741.3 111.6h4.76v10.6h-4.76zM750.5 190.6h4.76v10.6h-4.76zM755.1 111.6h4.76v10.6h-4.76zM759.7 178.7h4.76v10.6h-4.76zM764.3 178.7h4.76v10.6h-4.76zM773.5 178.7h4.76v10.6h-4.76zM782.8 111.6h4.76v10.6h-4.76zM787.4 249.8h4.76v10.6h-4.76zM792.0 259.7h4.76v10.6h-4.76zM796.6 249.8h4.76v10.6h-4.76zM801.2 249.8h4.76v10.6h-4.76zM805.8 228.0h4.76v10.6h-4.76zM810.4 208.3h4.76v10.6h-4.76zM815.0 129.3h4.76v10.6h-4.76zM828.8 170.8h4.76v10.6h-4.76zM838.1 200.4h4.76v10.6h-4.76zM842.7 131.3h4.76v10.6h-4.76zM842.7 220.2h4.76v10.6h-4.76zM847.3 220.2h4.76v20.4h-4.76zM851.9 218.2h4.76v10.6h-4.76zM856.5 218.2h4.76v20.4h-4.76zM861.1 129.3h4.76v10.6h-4.76zM861.1 237.9h4.76v10.6h-4.76zM865.7 237.9h4.76v20.4h-4.76zM870.3 129.3h4.76v10.6h-4.76zM870.3 228.0h4.76v20.4h-4.76zM874.9 121.5h4.76v10.6h-4.76zM874.9 239.9h4.76v20.4h-4.76zM879.5 239.9h4.76v20.4h-4.76zM884.1 111.6h4.76v10.6h-4.76zM884.1 239.9h4.76v20.4h-4.76zM888.7 101.7h4.76v20.4h-4.76zM888.7 230.0h4.76v20.4h-4.76zM893.4 82.0h4.76v10.6h-4.76zM893.4 239.9h4.76v10.6h-4.76zM898.0 82.0h4.76v30.3h-4.76zM898.0 230.0h4.76v10.6h-4.76zM902.6 239.9h4.76v10.6h-4.76zM907.2 249.8h4.76v10.6h-4.76zM911.8 249.8h4.76v10.6h-4.76zM916.4 239.9h4.76v20.4h-4.76zM921.0 259.7h4.76v10.6h-4.76zM925.6 249.8h4.76v10.6h-4.76zM930.2 249.8h4.76v20.4h-4.76zM934.8 279.4h4.76v10.6h-4.76zM939.4 388.0h4.76v10.6h-4.76zM944.0 388.0h4.76v10.6h-4.76zM948.6 388.0h4.76v10.6h-4.76zM953.3 388.0h4.76v10.6h-4.76zM957.9 407.7h4.76v10.6h-4.76zM967.1 220.2h4.76v10.6h-4.76zM971.7 210.3h4.76v10.6h-4.76zM976.3 200.4h4.76v10.6h-4.76zM990.1 208.3h4.76v10.6h-4.76zM994.7 267.5h4.76v30.3h-4.76zM999.3 277.4h4.76v30.3h-4.76zM1003.9 237.9h4.76v10.6h-4.76zM1008.5 237.9h4.76v10.6h-4.76zM1013.2 247.8h4.76v10.6h-4.76zM1027.0 228.0h4.76v10.6h-4.76zM1031.6 218.2h4.76v10.6h-4.76zM1036.2 200.4h4.76v10.6h-4.76zM1040.8 200.4h4.76v10.6h-4.76zM1045.4 180.7h4.76v10.6h-4.76zM1073.1 89.9h4.76v10.6h-4.76zM1077.7 89.9h4.76v10.6h-4.76zM1082.3 82.0h4.76v20.4h-4.76zM1082.3 190.6h4.76v10.6h-4.76zM1086.9 101.7h4.76v10.6h-4.76zM1096.1 111.6h4.76v10.6h-4.76zM1096.1 200.4h4.76v10.6h-4.76zM1142.2 170.8h4.76v10.6h-4.76z"/>
<path fill="#ffa100" d="M183.7 170.8h4.76v10.6h-4.76zM197.6 180.7h4.76v10.6h-4.76zM206.8 178.7h4.76v10.6h-4.76zM211.4 178.7h4.76v10.6h-4.76zM220.6 188.6h4.76v10.6h-4.76zM229.8 188.6h4.76v10.6h-4.76zM243.6 188.6h4.76v10.6h-4.76zM248.2 188.6h4.76v10.6h-4.76zM252.9 101.7h4.76v10.6h-4.76zM262.1 82.0h4.76v10.6h-4.76zM262.1 111.6h4.76v10.6h-4.76zM266.7 82.0h4.76v20.4h-4.76zM271.3 82.0h4.76v10.6h-4.76zM271.3 111.6h4.76v10.6h-4.76zM271.3 200.4h4.76v10.6h-4.76zM280.5 121.5h4.76v10.6h-4.76zM285.1 121.5h4.76v10.6h-4.76zM285.1 190.6h4.76v10.6h-4.76zM298.9 190.6h4.76v10.6h-4.76zM303.5 131.3h4.76v10.6h-4.76zM303.5 200.4h4.76v10.6h-4.76zM308.2 200.4h4.76v10.6h-4.76zM312.8 200.4h4.76v10.6h-4.76zM317.4 190.6h4.76v10.6h-4.76zM322.0 188.6h4.76v10.6h-4.76zM331.2 188.6h4.76v10.6h-4.76zM354.2 139.2h4.76v50.0h-4.76zM358.8 139.2h4.76v40.2h-4.76zM363.4 168.8h4.76v10.6h-4.76zM372.7 161.0h4.76v10.6h-4.76zM377.3 101.7h4.76v10.6h-4.76zM377.3 161.0h4.76v10.6h-4.76zM381.9 91.9h4.76v10.6h-4.76zM381.9 151.1h4.76v10.6h-4.76zM386.5 161.0h4.76v10.6h-4.76zM391.1 82.0h4.76v10.6h-4.76zM391.1 151.1h4.76v10.6h-4.76zM395.7 82.0h4.76v30.3h-4.76zM395.7 161.0h4.76v10.6h-4.76zM400.3 91.9h4.76v20.4h-4.76zM400.3 170.8h4.76v10.6h-4.76zM404.9 82.0h4.76v10.6h-4.76zM404.9 111.6h4.76v10.6h-4.76zM409.5 91.9h4.76v10.6h-4.76zM409.5 111.6h4.76v10.6h-4.76zM409.5 161.0h4.76v10.6h-4.76zM418.7 170.8h4.76v10.6h-4.76zM437.2 200.4h4.76v10.6h-4.76zM451.0 210.3h4.76v10.6h-4.76zM455.6 210.3h4.76v10.6h-4.76zM460.2 218.2h4.76v10.6h-4.76zM464.8 228.0h4.76v10.6h-4.76zM469.4 237.9h4.76v10.6h-4.76zM474.0 237.9h4.76v10.6h-4.76zM478.6 228.0h4.76v10.6h-4.76zM483.3 249.8h4.76v10.6h-4.76zM487.9 239.9h4.76v10.6h-4.76zM492.5 249.8h4.76v10.6h-4.76zM497.1 259.7h4.76v10.6h-4.76zM501.7 259.7h4.76v10.6h-4.76zM506.3 358.4h4.76v10.6h-4.76zM510.9 358.4h4.76v10.6h-4.76zM515.5 368.2h4.76v10.6h-4.76zM524.7 378.1h4.76v10.6h-4.76zM538.5 447.2h4.76v10.6h-4.76zM543.2 437.3h4.76v10.6h-4.76zM547.8 457.1h4.76v10.6h-4.76zM552.4 405.7h4.76v20.4h-4.76zM557.0 336.6h4.76v10.6h-4.76zM561.6 316.9h4.76v10.6h-4.76zM566.2 297.1h4.76v10.6h-4.76zM570.8 287.3h4.76v10.6h-4.76zM575.4 279.4h4.76v10.6h-4.76zM589.2 259.7h4.76v10.6h-4.76zM593.8 259.7h4.76v10.6h-4.76zM607.7 259.7h4.76v10.6h-4.76zM616.9 259.7h4.76v10.6h-4.76zM630.7 249.8h4.76v10.6h-4.76zM635.3 249.8h4.76v10.6h-4.76zM653.7 237.9h4.76v10.6h-4.76zM658.3 89.9h4.76v10.6h-4.76zM658.3 237.9h4.76v10.6h-4.76zM667.6 101.7h4.76v10.6h-4.76zM667.6 220.2h4.76v10.6h-4.76zM681.4 111.6h4.76v10.6h-4.76zM681.4 220.2h4.76v10.6h-4.76zM686.0 220.2h4.76v10.6h-4.76zM690.6 109.6h4.76v10.6h-4.76zM690.6 228.0h4.76v10.6h-4.76zM695.2 208.3h4.76v10.6h-4.76zM699.8 218.2h4.76v10.6h-4.76zM704.4 237.9h4.76v20.4h-4.76zM709.0 307.0h4.76v10.6h-4.76zM713.6 299.1h4.76v10.6h-4.76zM718.3 230.0h4.76v10.6h-4.76zM736.7 190.6h4.76v10.6h-4.76zM741.3 190.6h4.76v10.6h-4.76zM745.9 180.7h4.76v10.6h-4.76zM750.5 180.7h4.76v10.6h-4.76zM755.1 170.8h4.76v10.6h-4.76zM768.9 178.7h4.76v10.6h-4.76zM778.2 188.6h4.76v10.6h-4.76zM782.8 220.2h4.76v10.6h-4.76zM787.4 111.6h4.76v10.6h-4.76zM787.4 239.9h4.76v10.6h-4.76zM792.0 249.8h4.76v10.6h-4.76zM796.6 239.9h4.76v10.6h-4.76zM801.2 121.5h4.76v10.6h-4.76zM801.2 239.9h4.76v10.6h-4.76zM805.8 218.2h4.76v10.6h-4.76zM810.4 198.4h4.76v10.6h-4.76zM815.0 188.6h4.76v10.6h-4.76zM819.6 178.7h4.76v10.6h-4.76zM824.2 168.8h4.76v10.6h-4.76zM828.8 151.1h4.76v20.4h-4.76zM833.4 131.3h4.76v50.0h-4.76zM838.1 131.3h4.76v10.6h-4.76zM838.1 190.6h4.76v10.6h-4.76zM842.7 200.4h4.76v20.4h-4.76zM847.3 210.3h4.76v10.6h-4.76zM851.9 139.2h4.76v79.7h-4.76zM856.5 168.8h4.76v50.0h-4.76zM861.1 218.2h4.76v20.4h-4.76zM865.7 129.3h4.76v10.6h-4.76zM865.7 228.0h4.76v10.6h-4.76zM870.3 178.7h4.76v50.0h-4.76zM874.9 230.0h4.76v10.6h-4.76zM879.5 121.5h4.76v10.6h-4.76zM879.5 230.0h4.76v10.6h-4.76zM884.1 121.5h4.76v10.6h-4.76zM884.1 230.0h4.76v10.6h-4.76zM888.7 121.5h4.76v10.6h-4.76zM888.7 200.4h4.76v30.3h-4.76zM893.4 91.9h4.76v30.3h-4.76zM893.4 220.2h4.76v20.4h-4.76zM898.0 111.6h4.76v10.6h-4.76zM898.0 180.7h4.76v50.0h-4.76zM902.6 82.0h4.76v30.3h-4.76zM902.6 220.2h4.76v20.4h-4.76zM907.2 230.0h4.76v20.4h-4.76zM911.8 230.0h4.76v20.4h-4.76zM916.4 230.0h4.76v10.6h-4.76zM921.0 249.8h4.76v10.6h-4.76zM925.6 230.0h4.76v20.4h-4.76zM930.2 239.9h4.76v10.6h-4.76zM934.8 269.5h4.76v10.6h-4.76zM953.3 378.1h4.76v10.6h-4.76zM957.9 397.8h4.76v10.6h-4.76zM962.5 220.2h4.76v10.6h-4.76zM967.1 210.3h4.76v10.6h-4.76zM980.9 200.4h4.76v10.6h-4.76zM985.5 200.4h4.76v10.6h-4.76zM994.7 237.9h4.76v30.3h-4.76zM999.3 247.8h4.76v30.3h-4.76zM1003.9 228.0h4.76v10.6h-4.76zM1017.8 247.8h4.76v10.6h-4.76zM1022.4 237.9h4.76v10.6h-4.76zM1050.0 170.8h4.76v10.6h-4.76zM1054.6 170.8h4.76v10.6h-4.76zM1059.2 178.7h4.76v10.6h-4.76zM1063.8 178.7h4.76v10.6h-4.76zM1068.5 80.0h4.76v10.6h-4.76zM1073.1 99.7h4.76v10.6h-4.76zM1073.1 149.1h4.76v40.2h-4.76zM1077.7 139.2h4.76v50.0h-4.76zM1086.9 170.8h4.76v20.4h-4.76zM1091.5 190.6h4.76v10.6h-4.76zM1100.7 180.7h4.76v10.6h-4.76zM1114.5 170.8h4.76v10.6h-4.76zM1123.7 170.8h4.76v10.6h-4.76zM1146.8 170.8h4.76v10.6h-4.76zM1151.4 170.8h4.76v10.6h-4.76z"/>
<path fill="#ff8e00" d="M160.7 170.8h4.76v10.6h-4.76zM165.3 170.8h4.76v10.6h-4.76zM169.9 170.8h4.76v10.6h-4.76zM174.5 170.8h4.76v10.6h-4.76zM179.1 170.8h4.76v10.6h-4.76zM193.0 180.7h4.76v10.6h-4.76zM248.2 99.7h4.76v10.6h-4.76zM252.9 91.9h4.76v10.6h-4.76zM252.9 190.6h4.76v10.6h-4.76zM257.5 91.9h4.76v20.4h-4.76zM262.1 190.6h4.76v10.6h-4.76zM275.9 190.6h4.76v10.6h-4.76zM280.5 190.6h4.76v10.6h-4.76zM289.7 200.4h4.76v10.6h-4.76zM294.3 131.3h4.76v10.6h-4.76zM294.3 190.6h4.76v10.6h-4.76zM298.9 180.7h4.76v10.6h-4.76zM303.5 190.6h4.76v10.6h-4.76zM308.2 190.6h4.76v10.6h-4.76zM312.8 190.6h4.76v10.6h-4.76zM317.4 180.7h4.76v10.6h-4.76zM335.8 178.7h4.76v10.6h-4.76zM340.4 188.6h4.76v10.6h-4.76zM349.6 139.2h4.76v50.0h-4.76zM363.4 129.3h4.76v40.2h-4.76zM368.1 121.5h4.76v50.0h-4.76zM372.7 111.6h4.76v10.6h-4.76zM386.5 82.0h4.76v10.6h-4.76zM386.5 151.1h4.76v10.6h-4.76zM395.7 151.1h4.76v10.6h-4.76zM400.3 82.0h4.76v10.6h-4.76zM400.3 111.6h4.76v10.6h-4.76zM404.9 121.5h4.76v50.0h-4.76zM409.5 82.0h4.76v10.6h-4.76zM409.5 121.5h4.76v10.6h-4.76zM409.5 141.2h4.76v20.4h-4.76zM414.1 161.0h4.76v10.6h-4.76zM423.3 170.8h4.76v10.6h-4.76zM428.0 180.7h4.76v10.6h-4.76zM441.8 200.4h4.76v10.6h-4.76zM446.4 200.4h4.76v10.6h-4.76zM464.8 218.2h4.76v10.6h-4.76zM469.4 228.0h4.76v10.6h-4.76zM474.0 228.0h4.76v10.6h-4.76zM483.3 239.9h4.76v10.6h-4.76zM492.5 239.9h4.76v10.6h-4.76zM497.1 249.8h4.76v10.6h-4.76zM520.1 368.2h4.76v10.6h-4.76zM529.3 516.3h4.76v10.6h-4.76zM533.9 516.3h4.76v10.6h-4.76zM538.5 437.3h4.76v10.6h-4.76zM543.2 427.4h4.76v10.6h-4.76zM547.8 447.2h4.76v10.6h-4.76zM552.4 395.8h4.76v10.6h-4.76zM557.0 326.8h4.76v10.6h-4.76zM561.6 307.0h4.76v10.6h-4.76zM580.0 269.5h4.76v10.6h-4.76zM584.6 259.7h4.76v10.6h-4.76zM598.4 259.7h4.76v10.6h-4.76zM603.1 259.7h4.76v10.6h-4.76zM612.3 249.8h4.76v10.6h-4.76zM621.5 249.8h4.76v10.6h-4.76zM626.1 239.9h4.76v10.6h-4.76zM639.9 239.9h4.76v10.6h-4.76zM649.1 228.0h4.76v10.6h-4.76zM653.7 80.0h4.76v20.4h-4.76zM663.0 99.7h4.76v10.6h-4.76zM663.0 228.0h4.76v10.6h-4.76zM672.2 220.2h4.76v10.6h-4.76zM676.8 220.2h4.76v10.6h-4.76zM686.0 111.6h4.76v10.6h-4.76zM686.0 210.3h4.76v10.6h-4.76zM690.6 208.3h4.76v20.4h-4.76zM695.2 198.4h4.76v10.6h-4.76zM699.8 208.3h4.76v10.6h-4.76zM704.4 228.0h4.76v10.6h-4.76zM709.0 297.1h4.76v10.6h-4.76zM713.6 279.4h4.76v20.4h-4.76zM718.3 220.2h4.76v10.6h-4.76zM722.9 200.4h4.76v10.6h-4.76zM727.5 190.6h4.76v10.6h-4.76zM732.1 190.6h4.76v10.6h-4.76zM741.3 180.7h4.76v10.6h-4.76zM759.7 168.8h4.76v10.6h-4.76zM764.3 168.8h4.76v10.6h-4.76zM768.9 168.8h4.76v10.6h-4.76zM773.5 168.8h4.76v10.6h-4.76zM778.2 178.7h4.76v10.6h-4.76zM782.8 210.3h4.76v10.6h-4.76zM787.4 230.0h4.76v10.6h-4.76zM792.0 239.9h4.76v10.6h-4.76zM796.6 121.5h4.76v10.6h-4.76zM796.6 230.0h4.76v10.6h-4.76zM801.2 230.0h4.76v10.6h-4.76zM805.8 129.3h4.76v10.6h-4.76zM805.8 159.0h4.76v59.9h-4.76zM810.4 129.3h4.76v10.6h-4.76zM810.4 159.0h4.76v40.2h-4.76zM815.0 139.2h4.76v50.0h-4.76zM819.6 149.1h4.76v30.3h-4.76zM824.2 129.3h4.76v40.2h-4.76zM828.8 131.3h4.76v20.4h-4.76zM838.1 141.2h4.76v50.0h-4.76zM842.7 141.2h4.76v59.9h-4.76zM847.3 141.2h4.76v69.8h-4.76zM856.5 139.2h4.76v30.3h-4.76zM861.1 139.2h4.76v79.7h-4.76zM865.7 159.0h4.76v69.8h-4.76zM870.3 139.2h4.76v40.2h-4.76zM874.9 170.8h4.76v59.9h-4.76zM879.5 180.7h4.76v50.0h-4.76zM884.1 131.3h4.76v99.4h-4.76zM888.7 131.3h4.76v69.8h-4.76zM893.4 121.5h4.76v10.6h-4.76zM893.4 151.1h4.76v69.8h-4.76zM898.0 121.5h4.76v59.9h-4.76zM902.6 111.6h4.76v20.4h-4.76zM902.6 151.1h4.76v69.8h-4.76zM907.2 82.0h4.76v30.3h-4.76zM907.2 200.4h4.76v30.3h-4.76zM911.8 220.2h4.76v10.6h-4.76zM916.4 210.3h4.76v20.4h-4.76zM921.0 230.0h4.76v20.4h-4.76zM925.6 220.2h4.76v10.6h-4.76zM930.2 230.0h4.76v10.6h-4.76zM934.8 249.8h4.76v20.4h-4.76zM939.4 358.4h4.76v30.3h-4.76zM944.0 368.2h4.76v20.4h-4.76zM948.6 378.1h4.76v10.6h-4.76zM953.3 348.5h4.76v30.3h-4.76zM957.9 378.1h4.76v20.4h-4.76zM971.7 200.4h4.76v10.6h-4.76zM990.1 198.4h4.76v10.6h-4.76zM994.7 218.2h4.76v20.4h-4.76zM999.3 218.2h4.76v30.3h-4.76zM1008.5 228.0h4.76v10.6h-4.76zM1013.2 237.9h4.76v10.6h-4.76zM1022.4 228.0h4.76v10.6h-4.76zM1027.0 218.2h4.76v10.6h-4.76zM1031.6 208.3h4.76v10.6h-4.76zM1036.2 190.6h4.76v10.6h-4.76zM1040.8 190.6h4.76v10.6h-4.76zM1045.4 170.8h4.76v10.6h-4.76zM1050.0 161.0h4.76v10.6h-4.76zM1063.8 80.0h4.76v30.3h-4.76zM1063.8 168.8h4.76v10.6h-4.76zM1068.5 89.9h4.76v20.4h-4.76zM1068.5 178.7h4.76v10.6h-4.76zM1073.1 109.6h4.76v40.2h-4.76zM1077.7 99.7h4.76v40.2h-4.76zM1082.3 101.7h4.76v89.5h-4.76zM1086.9 111.6h4.76v59.9h-4.76zM1091.5 170.8h4.76v20.4h-4.76zM1096.1 180.7h4.76v10.6h-4.76zM1100.7 121.5h4.76v59.9h-4.76zM1105.3 180.7h4.76v10.6h-4.76zM1109.9 170.8h4.76v10.6h-4.76zM1119.1 161.0h4.76v10.6h-4.76zM1128.4 161.0h4.76v10.6h-4.76zM1133.0 161.0h4.76v10.6h-4.76zM1137.6 161.0h4.76v10.6h-4.76zM1142.2 161.0h4.76v10.6h-4.76z"/>
<path fill="#ff7b00" d="M188.3 170.8h4.76v10.6h-4.76zM202.2 170.8h4.76v10.6h-4.76zM216.0 178.7h4.76v10.6h-4.76zM234.4 188.6h4.76v10.6h-4.76zM239.0 188.6h4.76v10.6h-4.76zM243.6 99.7h4.76v10.6h-4.76zM248.2 89.9h4.76v10.6h-4.76zM252.9 82.0h4.76v10.6h-4.76zM257.5 82.0h4.76v10.6h-4.76zM257.5 190.6h4.76v10.6h-4.76zM266.7 111.6h4.76v10.6h-4.76zM266.7 190.6h4.76v10.6h-4.76zM275.9 121.5h4.76v10.6h-4.76zM285.1 180.7h4.76v10.6h-4.76zM289.7 190.6h4.76v10.6h-4.76zM294.3 180.7h4.76v10.6h-4.76zM298.9 170.8h4.76v10.6h-4.76zM303.5 180.7h4.76v10.6h-4.76zM308.2 180.7h4.76v10.6h-4.76zM312.8 180.7h4.76v10.6h-4.76zM322.0 178.7h4.76v10.6h-4.76zM326.6 188.6h4.76v10.6h-4.76zM331.2 178.7h4.76v10.6h-4.76zM335.8 168.8h4.76v10.6h-4.76zM340.4 139.2h4.76v10.6h-4.76zM340.4 178.7h4.76v10.6h-4.76zM345.0 139.2h4.76v50.0h-4.76zM372.7 121.5h4.76v40.2h-4.76zM377.3 151.1h4.76v10.6h-4.76zM381.9 101.7h4.76v10.6h-4.76zM381.9 141.2h4.76v10.6h-4.76zM391.1 91.9h4.76v10.6h-4.76zM391.1 141.2h4.76v10.6h-4.76zM395.7 111.6h4.76v40.2h-4.76zM400.3 131.3h4.76v40.2h-4.76zM409.5 131.3h4.76v10.6h-4.76zM414.1 91.9h4.76v40.2h-4.76zM414.1 141.2h4.76v20.4h-4.76zM418.7 161.0h4.76v10.6h-4.76zM483.3 230.0h4.76v10.6h-4.76zM538.5 427.4h4.76v10.6h-4.76zM543.2 417.6h4.76v10.6h-4.76zM547.8 427.4h4.76v20.4h-4.76zM589.2 249.8h4.76v10.6h-4.76zM607.7 249.8h4.76v10.6h-4.76zM616.9 249.8h4.76v10.6h-4.76zM630.7 239.9h4.76v10.6h-4.76zM635.3 239.9h4.76v10.6h-4.76zM639.9 230.0h4.76v10.6h-4.76zM644.5 228.0h4.76v10.6h-4.76zM653.7 228.0h4.76v10.6h-4.76zM658.3 228.0h4.76v10.6h-4.76zM667.6 210.3h4.76v10.6h-4.76zM676.8 111.6h4.76v10.6h-4.76zM676.8 210.3h4.76v10.6h-4.76zM681.4 210.3h4.76v10.6h-4.76zM686.0 200.4h4.76v10.6h-4.76zM699.8 198.4h4.76v10.6h-4.76zM704.4 218.2h4.76v10.6h-4.76zM709.0 277.4h4.76v20.4h-4.76zM713.6 259.7h4.76v20.4h-4.76zM718.3 210.3h4.76v10.6h-4.76zM722.9 190.6h4.76v10.6h-4.76zM727.5 180.7h4.76v10.6h-4.76zM736.7 180.7h4.76v10.6h-4.76zM745.9 170.8h4.76v10.6h-4.76zM750.5 170.8h4.76v10.6h-4.76zM755.1 161.0h4.76v10.6h-4.76zM764.3 159.0h4.76v10.6h-4.76zM773.5 159.0h4.76v10.6h-4.76zM778.2 168.8h4.76v10.6h-4.76zM782.8 190.6h4.76v20.4h-4.76zM787.4 210.3h4.76v20.4h-4.76zM792.0 121.5h4.76v10.6h-4.76zM792.0 210.3h4.76v30.3h-4.76zM796.6 190.6h4.76v40.2h-4.76zM801.2 180.7h4.76v50.0h-4.76zM805.8 139.2h4.76v20.4h-4.76zM810.4 139.2h4.76v20.4h-4.76zM819.6 129.3h4.76v20.4h-4.76zM865.7 139.2h4.76v20.4h-4.76zM874.9 131.3h4.76v40.2h-4.76zM879.5 131.3h4.76v50.0h-4.76zM893.4 131.3h4.76v20.4h-4.76zM902.6 131.3h4.76v20.4h-4.76zM907.2 111.6h4.76v89.5h-4.76zM911.8 82.0h4.76v40.2h-4.76zM911.8 161.0h4.76v59.9h-4.76zM916.4 82.0h4.76v20.4h-4.76zM916.4 161.0h4.76v50.1h-4.76zM921.0 220.2h4.76v10.6h-4.76zM925.6 200.4h4.76v20.4h-4.76zM930.2 210.3h4.76v20.4h-4.76zM934.8 239.9h4.76v10.6h-4.76zM939.4 318.9h4.76v40.2h-4.76zM944.0 338.6h4.76v30.3h-4.76zM948.6 348.5h4.76v30.3h-4.76zM953.3 309.0h4.76v40.2h-4.76zM957.9 338.6h4.76v40.2h-4.76zM962.5 210.3h4.76v10.6h-4.76zM967.1 200.4h4.76v10.6h-4.76zM976.3 190.6h4.76v10.6h-4.76zM980.9 190.6h4.76v10.6h-4.76zM985.5 190.6h4.76v10.6h-4.76zM994.7 208.3h4.76v10.6h-4.76zM999.3 208.3h4.76v10.6h-4.76zM1003.9 218.2h4.76v10.6h-4.76zM1008.5 218.2h4.76v10.6h-4.76zM1017.8 237.9h4.76v10.6h-4.76zM1027.0 208.3h4.76v10.6h-4.76zM1031.6 198.4h4.76v10.6h-4.76zM1036.2 180.7h4.76v10.6h-4.76zM1040.8 180.7h4.76v10.6h-4.76zM1054.6 161.0h4.76v10.6h-4.76zM1059.2 149.1h4.76v30.3h-4.76zM1063.8 109.6h4.76v59.9h-4.76zM1068.5 109.6h4.76v69.8h-4.76zM1091.5 111.6h4.76v59.9h-4.76zM1096.1 121.5h4.76v59.9h-4.76zM1096.1 190.6h4.76v10.6h-4.76zM1119.1 121.5h4.76v10.6h-4.76z"/>
<path fill="#ff6700" d="M197.6 170.8h4.76v10.6h-4.76zM220.6 178.7h4.76v10.6h-4.76zM225.2 178.7h4.76v10.6h-4.76zM243.6 89.9h4.76v10.6h-4.76zM248.2 80.0h4.76v10.6h-4.76zM248.2 109.6h4.76v10.6h-4.76zM271.3 190.6h4.76v10.6h-4.76zM275.9 180.7h4.76v10.6h-4.76zM280.5 180.7h4.76v10.6h-4.76zM289.7 131.3h4.76v10.6h-4.76zM294.3 170.8h4.76v10.6h-4.76zM298.9 161.0h4.76v10.6h-4.76zM303.5 170.8h4.76v10.6h-4.76zM308.2 170.8h4.76v10.6h-4.76zM312.8 170.8h4.76v10.6h-4.76zM317.4 170.8h4.76v10.6h-4.76zM322.0 139.2h4.76v10.6h-4.76zM322.0 168.8h4.76v10.6h-4.76zM326.6 139.2h4.76v10.6h-4.76zM326.6 178.7h4.76v10.6h-4.76zM331.2 168.8h4.76v10.6h-4.76zM335.8 149.1h4.76v20.4h-4.76zM340.4 149.1h4.76v30.3h-4.76zM377.3 111.6h4.76v40.2h-4.76zM381.9 111.6h4.76v30.3h-4.76zM386.5 91.9h4.76v10.6h-4.76zM391.1 101.7h4.76v10.6h-4.76zM391.1 121.5h4.76v20.4h-4.76zM400.3 121.5h4.76v10.6h-4.76zM414.1 82.0h4.76v10.6h-4.76zM414.1 131.3h4.76v10.6h-4.76zM423.3 161.0h4.76v10.6h-4.76zM432.6 180.7h4.76v10.6h-4.76zM437.2 190.6h4.76v10.6h-4.76zM460.2 208.3h4.76v10.6h-4.76zM487.9 230.0h4.76v10.6h-4.76zM501.7 249.8h4.76v10.6h-4.76zM529.3 506.4h4.76v10.6h-4.76zM533.9 506.4h4.76v10.6h-4.76zM538.5 417.6h4.76v10.6h-4.76zM543.2 407.7h4.76v10.6h-4.76zM547.8 417.6h4.76v10.6h-4.76zM552.4 386.0h4.76v10.6h-4.76zM557.0 316.9h4.76v10.6h-4.76zM570.8 277.4h4.76v10.6h-4.76zM575.4 269.5h4.76v10.6h-4.76zM580.0 259.7h4.76v10.6h-4.76zM593.8 249.8h4.76v10.6h-4.76zM598.4 249.8h4.76v10.6h-4.76zM603.1 249.8h4.76v10.6h-4.76zM612.3 239.9h4.76v10.6h-4.76zM621.5 239.9h4.76v10.6h-4.76zM626.1 230.0h4.76v10.6h-4.76zM649.1 218.2h4.76v10.6h-4.76zM653.7 218.2h4.76v10.6h-4.76zM658.3 218.2h4.76v10.6h-4.76zM663.0 218.2h4.76v10.6h-4.76zM672.2 210.3h4.76v10.6h-4.76zM681.4 200.4h4.76v10.6h-4.76zM690.6 198.4h4.76v10.6h-4.76zM695.2 188.6h4.76v10.6h-4.76zM704.4 208.3h4.76v10.6h-4.76zM709.0 257.7h4.76v20.4h-4.76zM713.6 239.9h4.76v20.4h-4.76zM718.3 200.4h4.76v10.6h-4.76zM722.9 180.7h4.76v10.6h-4.76zM732.1 180.7h4.76v10.6h-4.76zM736.7 170.8h4.76v10.6h-4.76zM741.3 170.8h4.76v10.6h-4.76zM745.9 161.0h4.76v10.6h-4.76zM759.7 159.0h4.76v10.6h-4.76zM768.9 159.0h4.76v10.6h-4.76zM778.2 159.0h4.76v10.6h-4.76zM782.8 170.8h4.76v20.4h-4.76zM787.4 190.6h4.76v20.4h-4.76zM792.0 180.7h4.76v30.3h-4.76zM796.6 151.1h4.76v40.2h-4.76zM801.2 131.3h4.76v50.0h-4.76zM911.8 121.5h4.76v40.2h-4.76zM916.4 101.7h4.76v59.9h-4.76zM921.0 170.8h4.76v50.0h-4.76zM925.6 170.8h4.76v30.3h-4.76zM930.2 180.7h4.76v30.3h-4.76zM934.8 230.0h4.76v10.6h-4.76zM939.4 259.7h4.76v59.9h-4.76zM944.0 299.1h4.76v40.2h-4.76zM948.6 309.0h4.76v40.2h-4.76zM953.3 249.8h4.76v59.9h-4.76zM957.9 309.0h4.76v30.3h-4.76zM990.1 188.6h4.76v10.6h-4.76zM994.7 198.4h4.76v10.6h-4.76zM999.3 198.4h4.76v10.6h-4.76zM1003.9 208.3h4.76v10.6h-4.76zM1013.2 228.0h4.76v10.6h-4.76zM1017.8 228.0h4.76v10.6h-4.76zM1022.4 218.2h4.76v10.6h-4.76zM1027.0 198.4h4.76v10.6h-4.76zM1036.2 170.8h4.76v10.6h-4.76zM1045.4 161.0h4.76v10.6h-4.76zM1050.0 131.3h4.76v30.3h-4.76zM1054.6 121.5h4.76v40.2h-4.76zM1059.2 80.0h4.76v69.8h-4.76zM1105.3 131.3h4.76v50.0h-4.76zM1114.5 121.5h4.76v10.6h-4.76zM1114.5 161.0h4.76v10.6h-4.76zM1123.7 121.5h4.76v10.6h-4.76zM1123.7 161.0h4.76v10.6h-4.76zM1133.0 121.5h4.76v10.6h-4.76zM1146.8 121.5h4.76v10.6h-4.76zM1146.8 161.0h4.76v10.6h-4.76zM1151.4 121.5h4.76v10.6h-4.76zM1151.4 161.0h4.76v10.6h-4.76z"/>
<path fill="#ff5400" d="M169.9 161.0h4.76v10.6h-4.76zM183.7 161.0h4.76v10.6h-4.76zM193.0 170.8h4.76v10.6h-4.76zM206.8 168.8h4.76v10.6h-4.76zM211.4 168.8h4.76v10.6h-4.76zM229.8 178.7h4.76v10.6h-4.76zM239.0 99.7h4.76v10.6h-4.76zM243.6 80.0h4.76v10.6h-4.76zM243.6 109.6h4.76v10.6h-4.76zM243.6 178.7h4.76v10.6h-4.76zM248.2 178.7h4.76v10.6h-4.76zM252.9 111.6h4.76v10.6h-4.76zM257.5 111.6h4.76v10.6h-4.76zM262.1 180.7h4.76v10.6h-4.76zM289.7 180.7h4.76v10.6h-4.76zM294.3 161.0h4.76v10.6h-4.76zM298.9 151.1h4.76v10.6h-4.76zM303.5 161.0h4.76v10.6h-4.76zM308.2 141.2h4.76v10.6h-4.76zM308.2 161.0h4.76v10.6h-4.76zM312.8 141.2h4.76v10.6h-4.76zM312.8 161.0h4.76v10.6h-4.76zM317.4 141.2h4.76v30.3h-4.76zM322.0 149.1h4.76v20.4h-4.76zM326.6 159.0h4.76v20.4h-4.76zM331.2 159.0h4.76v10.6h-4.76zM335.8 139.2h4.76v10.6h-4.76zM386.5 141.2h4.76v10.6h-4.76zM391.1 111.6h4.76v10.6h-4.76zM418.7 121.5h4.76v40.2h-4.76zM423.3 131.3h4.76v30.3h-4.76zM428.0 170.8h4.76v10.6h-4.76zM451.0 200.4h4.76v10.6h-4.76zM455.6 200.4h4.76v10.6h-4.76zM469.4 218.2h4.76v10.6h-4.76zM478.6 218.2h4.76v10.6h-4.76zM492.5 230.0h4.76v10.6h-4.76zM497.1 239.9h4.76v10.6h-4.76zM506.3 348.5h4.76v10.6h-4.76zM510.9 348.5h4.76v10.6h-4.76zM515.5 358.4h4.76v10.6h-4.76zM524.7 368.2h4.76v10.6h-4.76zM538.5 407.7h4.76v10.6h-4.76zM543.2 388.0h4.76v20.4h-4.76zM547.8 407.7h4.76v10.6h-4.76zM552.4 376.1h4.76v10.6h-4.76zM561.6 297.1h4.76v10.6h-4.76zM566.2 287.3h4.76v10.6h-4.76zM584.6 249.8h4.76v10.6h-4.76zM607.7 239.9h4.76v10.6h-4.76zM616.9 239.9h4.76v10.6h-4.76zM630.7 230.0h4.76v10.6h-4.76zM635.3 230.0h4.76v10.6h-4.76zM639.9 220.2h4.76v10.6h-4.76zM644.5 218.2h4.76v10.6h-4.76zM649.1 80.0h4.76v10.6h-4.76zM653.7 99.7h4.76v10.6h-4.76zM663.0 208.3h4.76v10.6h-4.76zM667.6 200.4h4.76v10.6h-4.76zM672.2 200.4h4.76v10.6h-4.76zM676.8 200.4h4.76v10.6h-4.76zM686.0 190.6h4.76v10.6h-4.76zM699.8 119.5h4.76v10.6h-4.76zM699.8 188.6h4.76v10.6h-4.76zM704.4 119.5h4.76v10.6h-4.76zM704.4 198.4h4.76v10.6h-4.76zM709.0 119.5h4.76v10.6h-4.76zM709.0 237.9h4.76v20.4h-4.76zM713.6 220.2h4.76v20.4h-4.76zM718.3 180.7h4.76v20.4h-4.76zM727.5 170.8h4.76v10.6h-4.76zM732.1 170.8h4.76v10.6h-4.76zM745.9 151.1h4.76v10.6h-4.76zM750.5 161.0h4.76v10.6h-4.76zM755.1 151.1h4.76v10.6h-4.76zM759.7 149.1h4.76v10.6h-4.76zM764.3 149.1h4.76v10.6h-4.76zM768.9 119.5h4.76v10.6h-4.76zM768.9 149.1h4.76v10.6h-4.76zM773.5 149.1h4.76v10.6h-4.76zM778.2 149.1h4.76v10.6h-4.76zM782.8 121.5h4.76v10.6h-4.76zM782.8 151.1h4.76v20.4h-4.76zM787.4 161.0h4.76v30.3h-4.76zM792.0 151.1h4.76v30.3h-4.76zM796.6 131.3h4.76v20.4h-4.76zM921.0 82.0h4.76v89.5h-4.76zM925.6 82.0h4.76v89.5h-4.76zM930.2 161.0h4.76v20.4h-4.76zM934.8 180.7h4.76v50.0h-4.76zM939.4 161.0h4.76v99.4h-4.76zM944.0 220.2h4.76v79.7h-4.76zM948.6 249.8h4.76v59.9h-4.76zM953.3 180.7h4.76v69.8h-4.76zM957.9 239.9h4.76v69.8h-4.76zM962.5 190.6h4.76v20.4h-4.76zM967.1 180.7h4.76v20.4h-4.76zM971.7 190.6h4.76v10.6h-4.76zM976.3 180.7h4.76v10.6h-4.76zM990.1 178.7h4.76v10.6h-4.76zM1008.5 208.3h4.76v10.6h-4.76zM1013.2 218.2h4.76v10.6h-4.76zM1017.8 218.2h4.76v10.6h-4.76zM1022.4 208.3h4.76v10.6h-4.76zM1027.0 178.7h4.76v20.4h-4.76zM1031.6 188.6h4.76v10.6h-4.76zM1036.2 131.3h4.76v40.2h-4.76zM1040.8 170.8h4.76v10.6h-4.76zM1045.4 141.2h4.76v20.4h-4.76zM1050.0 82.0h4.76v50.0h-4.76zM1054.6 82.0h4.76v40.2h-4.76zM1105.3 121.5h4.76v10.6h-4.76zM1109.9 161.0h4.76v10.6h-4.76zM1119.1 151.1h4.76v10.6h-4.76zM1128.4 121.5h4.76v10.6h-4.76zM1128.4 151.1h4.76v10.6h-4.76zM1137.6 121.5h4.76v10.6h-4.76z"/>
<path fill="#ff4100" d="M160.7 161.0h4.76v10.6h-4.76zM165.3 161.0h4.76v10.6h-4.76zM174.5 161.0h4.76v10.6h-4.76zM179.1 161.0h4.76v10.6h-4.76zM188.3 161.0h4.76v10.6h-4.76zM216.0 168.8h4.76v10.6h-4.76zM229.8 99.7h4.76v10.6h-4.76zM234.4 99.7h4.76v10.6h-4.76zM239.0 89.9h4.76v10.6h-4.76zM239.0 109.6h4.76v10.6h-4.76zM252.9 180.7h4.76v10.6h-4.76zM257.5 180.7h4.76v10.6h-4.76zM262.1 121.5h4.76v10.6h-4.76zM266.7 180.7h4.76v10.6h-4.76zM271.3 121.5h4.76v10.6h-4.76zM271.3 180.7h4.76v10.6h-4.76zM275.9 161.0h4.76v20.4h-4.76zM280.5 170.8h4.76v10.6h-4.76zM285.1 161.0h4.76v20.4h-4.76zM289.7 170.8h4.76v10.6h-4.76zM294.3 151.1h4.76v10.6h-4.76zM298.9 141.2h4.76v10.6h-4.76zM303.5 151.1h4.76v10.6h-4.76zM308.2 151.1h4.76v10.6h-4.76zM312.8 151.1h4.76v10.6h-4.76zM326.6 149.1h4.76v10.6h-4.76zM331.2 139.2h4.76v20.4h-4.76zM386.5 101.7h4.76v40.2h-4.76zM418.7 82.0h4.76v40.2h-4.76zM423.3 82.0h4.76v50.0h-4.76zM428.0 151.1h4.76v20.4h-4.76zM432.6 161.0h4.76v20.4h-4.76zM441.8 190.6h4.76v10.6h-4.76zM446.4 190.6h4.76v10.6h-4.76zM474.0 218.2h4.76v10.6h-4.76zM520.1 358.4h4.76v10.6h-4.76zM529.3 496.5h4.76v10.6h-4.76zM533.9 496.5h4.76v10.6h-4.76zM538.5 397.8h4.76v10.6h-4.76zM543.2 378.1h4.76v10.6h-4.76zM547.8 397.8h4.76v10.6h-4.76zM552.4 366.2h4.76v10.6h-4.76zM557.0 307.0h4.76v10.6h-4.76zM575.4 259.7h4.76v10.6h-4.76zM580.0 249.8h4.76v10.6h-4.76zM589.2 239.9h4.76v10.6h-4.76zM593.8 239.9h4.76v10.6h-4.76zM598.4 239.9h4.76v10.6h-4.76zM603.1 239.9h4.76v10.6h-4.76zM621.5 230.0h4.76v10.6h-4.76zM649.1 89.9h4.76v20.4h-4.76zM649.1 208.3h4.76v10.6h-4.76zM653.7 208.3h4.76v10.6h-4.76zM658.3 208.3h4.76v10.6h-4.76zM667.6 190.6h4.76v10.6h-4.76zM672.2 111.6h4.76v10.6h-4.76zM676.8 190.6h4.76v10.6h-4.76zM681.4 190.6h4.76v10.6h-4.76zM690.6 188.6h4.76v10.6h-4.76zM695.2 178.7h4.76v10.6h-4.76zM699.8 178.7h4.76v10.6h-4.76zM704.4 188.6h4.76v10.6h-4.76zM709.0 228.0h4.76v10.6h-4.76zM713.6 121.5h4.76v10.6h-4.76zM713.6 200.4h4.76v20.4h-4.76zM718.3 161.0h4.76v20.4h-4.76zM722.9 170.8h4.76v10.6h-4.76zM727.5 151.1h4.76v20.4h-4.76zM732.1 161.0h4.76v10.6h-4.76zM736.7 161.0h4.76v10.6h-4.76zM741.3 161.0h4.76v10.6h-4.76zM745.9 121.5h4.76v10.6h-4.76zM745.9 141.2h4.76v10.6h-4.76zM750.5 151.1h4.76v10.6h-4.76zM755.1 141.2h4.76v10.6h-4.76zM759.7 119.5h4.76v10.6h-4.76zM759.7 139.2h4.76v10.6h-4.76zM764.3 119.5h4.76v10.6h-4.76zM764.3 139.2h4.76v10.6h-4.76zM768.9 139.2h4.76v10.6h-4.76zM773.5 119.5h4.76v10.6h-4.76zM773.5 139.2h4.76v10.6h-4.76zM778.2 119.5h4.76v10.6h-4.76zM778.2 139.2h4.76v10.6h-4.76zM782.8 131.3h4.76v20.4h-4.76zM787.4 121.5h4.76v40.2h-4.76zM792.0 131.3h4.76v20.4h-4.76zM930.2 82.0h4.76v79.7h-4.76zM934.8 82.0h4.76v99.4h-4.76zM939.4 82.0h4.76v79.7h-4.76zM944.0 131.3h4.76v89.5h-4.76zM948.6 161.0h4.76v89.5h-4.76zM953.3 82.0h4.76v99.4h-4.76zM957.9 180.7h4.76v59.9h-4.76zM962.5 151.1h4.76v40.2h-4.76zM967.1 131.3h4.76v50.0h-4.76zM971.7 161.0h4.76v30.3h-4.76zM976.3 151.1h4.76v30.3h-4.76zM980.9 161.0h4.76v30.3h-4.76zM985.5 161.0h4.76v30.3h-4.76zM990.1 149.1h4.76v30.3h-4.76zM994.7 178.7h4.76v20.4h-4.76zM999.3 188.6h4.76v10.6h-4.76zM1003.9 198.4h4.76v10.6h-4.76zM1008.5 198.4h4.76v10.6h-4.76zM1013.2 208.3h4.76v10.6h-4.76zM1027.0 80.0h4.76v99.4h-4.76zM1031.6 159.0h4.76v30.3h-4.76zM1036.2 82.0h4.76v50.0h-4.76zM1040.8 141.2h4.76v30.3h-4.76zM1045.4 111.6h4.76v30.3h-4.76zM1109.9 121.5h4.76v40.2h-4.76zM1133.0 151.1h4.76v10.6h-4.76zM1137.6 151.1h4.76v10.6h-4.76zM1142.2 121.5h4.76v10.6h-4.76zM1142.2 151.1h4.76v10.6h-4.76z"/>
<path fill="#ff2d00" d="M202.2 161.0h4.76v10.6h-4.76zM225.2 89.9h4.76v20.4h-4.76zM229.8 89.9h4.76v10.6h-4.76zM229.8 109.6h4.76v10.6h-4.76zM234.4 89.9h4.76v10.6h-4.76zM234.4 109.6h4.76v10.6h-4.76zM234.4 178.7h4.76v10.6h-4.76zM239.0 80.0h4.76v10.6h-4.76zM239.0 178.7h4.76v10.6h-4.76zM248.2 149.1h4.76v30.3h-4.76zM262.1 131.3h4.76v50.0h-4.76zM275.9 131.3h4.76v30.3h-4.76zM280.5 141.2h4.76v30.3h-4.76zM285.1 141.2h4.76v20.4h-4.76zM289.7 151.1h4.76v20.4h-4.76zM294.3 141.2h4.76v10.6h-4.76zM303.5 141.2h4.76v10.6h-4.76zM428.0 101.7h4.76v50.0h-4.76zM432.6 111.6h4.76v50.0h-4.76zM437.2 170.8h4.76v20.4h-4.76zM446.4 161.0h4.76v30.3h-4.76zM451.0 190.6h4.76v10.6h-4.76zM455.6 190.6h4.76v10.6h-4.76zM464.8 208.3h4.76v10.6h-4.76zM483.3 220.2h4.76v10.6h-4.76zM487.9 220.2h4.76v10.6h-4.76zM501.7 239.9h4.76v10.6h-4.76zM529.3 486.7h4.76v10.6h-4.76zM533.9 486.7h4.76v10.6h-4.76zM538.5 388.0h4.76v10.6h-4.76zM543.2 368.2h4.76v10.6h-4.76zM547.8 388.0h4.76v10.6h-4.76zM552.4 356.4h4.76v10.6h-4.76zM584.6 239.9h4.76v10.6h-4.76zM612.3 230.0h4.76v10.6h-4.76zM626.1 220.2h4.76v10.6h-4.76zM630.7 220.2h4.76v10.6h-4.76zM635.3 220.2h4.76v10.6h-4.76zM639.9 210.3h4.76v10.6h-4.76zM644.5 208.3h4.76v10.6h-4.76zM663.0 198.4h4.76v10.6h-4.76zM667.6 161.0h4.76v30.3h-4.76zM672.2 190.6h4.76v10.6h-4.76zM681.4 151.1h4.76v40.2h-4.76zM686.0 180.7h4.76v10.6h-4.76zM695.2 119.5h4.76v10.6h-4.76zM695.2 149.1h4.76v30.3h-4.76zM699.8 168.8h4.76v10.6h-4.76zM704.4 178.7h4.76v10.6h-4.76zM709.0 208.3h4.76v20.4h-4.76zM713.6 161.0h4.76v40.2h-4.76zM718.3 121.5h4.76v40.2h-4.76zM722.9 151.1h4.76v20.4h-4.76zM727.5 131.3h4.76v20.4h-4.76zM732.1 141.2h4.76v20.4h-4.76zM736.7 141.2h4.76v20.4h-4.76zM741.3 141.2h4.76v20.4h-4.76zM745.9 131.3h4.76v10.6h-4.76zM750.5 121.5h4.76v10.6h-4.76zM750.5 141.2h4.76v10.6h-4.76zM755.1 121.5h4.76v20.4h-4.76zM759.7 129.3h4.76v10.6h-4.76zM764.3 129.3h4.76v10.6h-4.76zM768.9 129.3h4.76v10.6h-4.76zM773.5 129.3h4.76v10.6h-4.76zM778.2 129.3h4.76v10.6h-4.76zM944.0 82.0h4.76v50.0h-4.76zM948.6 82.0h4.76v79.7h-4.76zM957.9 82.0h4.76v99.4h-4.76zM962.5 82.0h4.76v69.8h-4.76zM967.1 82.0h4.76v50.0h-4.76zM971.7 82.0h4.76v79.7h-4.76zM976.3 82.0h4.76v69.8h-4.76zM980.9 82.0h4.76v79.7h-4.76zM985.5 82.0h4.76v79.7h-4.76zM990.1 80.0h4.76v69.8h-4.76zM994.7 129.3h4.76v50.0h-4.76zM999.3 159.0h4.76v30.3h-4.76zM1003.9 168.8h4.76v30.3h-4.76zM1008.5 159.0h4.76v40.2h-4.76zM1013.2 178.7h4.76v30.3h-4.76zM1017.8 178.7h4.76v40.2h-4.76zM1022.4 168.8h4.76v40.2h-4.76zM1031.6 80.0h4.76v79.7h-4.76zM1040.8 82.0h4.76v59.9h-4.76zM1045.4 82.0h4.76v30.3h-4.76zM1114.5 131.3h4.76v30.3h-4.76zM1123.7 151.1h4.76v10.6h-4.76zM1146.8 151.1h4.76v10.6h-4.76zM1151.4 151.1h4.76v10.6h-4.76z"/>
<path fill="#ff1a00" d="M169.9 141.2h4.76v20.4h-4.76zM179.1 141.2h4.76v20.4h-4.76zM183.7 131.3h4.76v30.3h-4.76zM188.3 131.3h4.76v30.3h-4.76zM193.0 161.0h4.76v10.6h-4.76zM197.6 161.0h4.76v10.6h-4.76zM202.2 91.9h4.76v69.8h-4.76zM206.8 99.7h4.76v69.8h-4.76zM211.4 80.0h4.76v89.5h-4.76zM216.0 89.9h4.76v30.3h-4.76zM216.0 149.1h4.76v20.4h-4.76zM220.6 89.9h4.76v30.3h-4.76zM220.6 159.0h4.76v20.4h-4.76zM225.2 80.0h4.76v10.6h-4.76zM225.2 109.6h4.76v20.4h-4.76zM225.2 159.0h4.76v20.4h-4.76zM229.8 80.0h4.76v10.6h-4.76zM229.8 119.5h4.76v10.6h-4.76zM229.8 149.1h4.76v30.3h-4.76zM234.4 80.0h4.76v10.6h-4.76zM239.0 119.5h4.76v10.6h-4.76zM243.6 119.5h4.76v59.9h-4.76zM248.2 119.5h4.76v30.3h-4.76zM252.9 121.5h4.76v59.9h-4.76zM266.7 121.5h4.76v10.6h-4.76zM266.7 141.2h4.76v40.2h-4.76zM271.3 151.1h4.76v30.3h-4.76zM280.5 131.3h4.76v10.6h-4.76zM285.1 131.3h4.76v10.6h-4.76zM289.7 141.2h4.76v10.6h-4.76zM428.0 82.0h4.76v20.4h-4.76zM432.6 82.0h4.76v30.3h-4.76zM437.2 141.2h4.76v30.3h-4.76zM441.8 170.8h4.76v20.4h-4.76zM446.4 82.0h4.76v79.7h-4.76zM451.0 161.0h4.76v30.3h-4.76zM455.6 151.1h4.76v40.2h-4.76zM460.2 198.4h4.76v10.6h-4.76zM478.6 198.4h4.76v20.4h-4.76zM487.9 210.3h4.76v10.6h-4.76zM492.5 220.2h4.76v10.6h-4.76zM497.1 230.0h4.76v10.6h-4.76zM538.5 368.2h4.76v20.4h-4.76zM543.2 348.5h4.76v20.4h-4.76zM547.8 378.1h4.76v10.6h-4.76zM552.4 346.5h4.76v10.6h-4.76zM557.0 297.1h4.76v10.6h-4.76zM561.6 287.3h4.76v10.6h-4.76zM570.8 267.5h4.76v10.6h-4.76zM589.2 230.0h4.76v10.6h-4.76zM593.8 230.0h4.76v10.6h-4.76zM607.7 230.0h4.76v10.6h-4.76zM616.9 230.0h4.76v10.6h-4.76zM621.5 220.2h4.76v10.6h-4.76zM639.9 200.4h4.76v10.6h-4.76zM649.1 109.6h4.76v10.6h-4.76zM649.1 198.4h4.76v10.6h-4.76zM653.7 188.6h4.76v20.4h-4.76zM658.3 198.4h4.76v10.6h-4.76zM663.0 149.1h4.76v50.1h-4.76zM667.6 111.6h4.76v50.0h-4.76zM672.2 170.8h4.76v20.4h-4.76zM676.8 121.5h4.76v69.8h-4.76zM681.4 121.5h4.76v30.3h-4.76zM686.0 131.3h4.76v50.0h-4.76zM690.6 159.0h4.76v30.3h-4.76zM695.2 129.3h4.76v20.4h-4.76zM699.8 129.3h4.76v40.2h-4.76zM704.4 149.1h4.76v30.3h-4.76zM709.0 168.8h4.76v40.2h-4.76zM713.6 131.3h4.76v30.3h-4.76zM722.9 121.5h4.76v30.3h-4.76zM727.5 121.5h4.76v10.6h-4.76zM732.1 131.3h4.76v10.6h-4.76zM736.7 121.5h4.76v20.4h-4.76zM741.3 131.3h4.76v10.6h-4.76zM750.5 131.3h4.76v10.6h-4.76zM994.7 80.0h4.76v50.0h-4.76zM999.3 80.0h4.76v79.7h-4.76zM1003.9 80.0h4.76v89.5h-4.76zM1008.5 80.0h4.76v79.7h-4.76zM1013.2 80.0h4.76v99.4h-4.76zM1017.8 80.0h4.76v99.4h-4.76zM1022.4 80.0h4.76v89.5h-4.76zM1119.1 131.3h4.76v20.4h-4.76zM1128.4 141.2h4.76v10.6h-4.76zM1133.0 131.3h4.76v20.4h-4.76z"/>
<path fill="#f00600" d="M160.7 121.5h4.76v40.2h-4.76zM165.3 111.6h4.76v50.0h-4.76zM169.9 82.0h4.76v59.9h-4.76zM174.5 131.3h4.76v30.3h-4.76zM179.1 82.0h4.76v59.9h-4.76zM183.7 82.0h4.76v50.0h-4.76zM188.3 82.0h4.76v50.0h-4.76zM193.0 151.1h4.76v10.6h-4.76zM197.6 111.6h4.76v50.0h-4.76zM202.2 82.0h4.76v10.6h-4.76zM206.8 80.0h4.76v20.4h-4.76zM216.0 80.0h4.76v10.6h-4.76zM216.0 119.5h4.76v30.3h-4.76zM220.6 80.0h4.76v10.6h-4.76zM220.6 119.5h4.76v40.2h-4.76zM225.2 129.3h4.76v30.3h-4.76zM229.8 129.3h4.76v20.4h-4.76zM234.4 119.5h4.76v10.6h-4.76zM234.4 139.2h4.76v40.2h-4.76zM239.0 129.3h4.76v50.0h-4.76zM257.5 121.5h4.76v59.9h-4.76zM266.7 131.3h4.76v10.6h-4.76zM271.3 131.3h4.76v20.4h-4.76zM437.2 82.0h4.76v59.9h-4.76zM441.8 111.6h4.76v59.9h-4.76zM451.0 82.0h4.76v79.7h-4.76zM455.6 82.0h4.76v69.8h-4.76zM460.2 139.2h4.76v59.9h-4.76zM464.8 188.6h4.76v20.4h-4.76zM469.4 188.6h4.76v30.3h-4.76zM474.0 188.6h4.76v30.3h-4.76zM478.6 80.0h4.76v119.1h-4.76zM487.9 82.0h4.76v129.0h-4.76zM492.5 210.3h4.76v10.6h-4.76zM497.1 170.8h4.76v59.9h-4.76zM501.7 91.9h4.76v148.7h-4.76zM515.5 348.5h4.76v10.6h-4.76zM520.1 348.5h4.76v10.6h-4.76zM524.7 358.4h4.76v10.6h-4.76zM529.3 476.8h4.76v10.6h-4.76zM533.9 457.1h4.76v30.3h-4.76zM538.5 338.6h4.76v30.3h-4.76zM543.2 239.9h4.76v109.3h-4.76zM547.8 368.2h4.76v10.6h-4.76zM552.4 336.6h4.76v10.6h-4.76zM557.0 277.4h4.76v20.4h-4.76zM566.2 277.4h4.76v10.6h-4.76zM570.8 257.7h4.76v10.6h-4.76zM575.4 210.3h4.76v50.0h-4.76zM580.0 230.0h4.76v20.4h-4.76zM584.6 190.6h4.76v50.0h-4.76zM589.2 190.6h4.76v40.2h-4.76zM593.8 170.8h4.76v59.9h-4.76zM598.4 230.0h4.76v10.6h-4.76zM603.1 230.0h4.76v10.6h-4.76zM607.7 220.2h4.76v10.6h-4.76zM612.3 151.1h4.76v79.7h-4.76zM621.5 101.7h4.76v119.1h-4.76zM626.1 82.0h4.76v138.9h-4.76zM630.7 210.3h4.76v10.6h-4.76zM635.3 200.4h4.76v20.4h-4.76zM639.9 82.0h4.76v119.1h-4.76zM644.5 80.0h4.76v129.0h-4.76zM649.1 119.5h4.76v79.7h-4.76zM653.7 109.6h4.76v79.7h-4.76zM658.3 129.3h4.76v69.8h-4.76zM663.0 109.6h4.76v40.2h-4.76zM672.2 121.5h4.76v50.0h-4.76zM686.0 121.5h4.76v10.6h-4.76zM690.6 119.5h4.76v40.2h-4.76zM704.4 129.3h4.76v20.4h-4.76zM709.0 129.3h4.76v40.2h-4.76zM732.1 121.5h4.76v10.6h-4.76zM741.3 121.5h4.76v10.6h-4.76zM1123.7 131.3h4.76v20.4h-4.76zM1128.4 131.3h4.76v10.6h-4.76zM1137.6 131.3h4.76v20.4h-4.76zM1142.2 141.2h4.76v10.6h-4.76zM1146.8 131.3h4.76v20.4h-4.76zM1151.4 131.3h4.76v20.4h-4.76z"/>
<path fill="#d80000" d="M160.7 82.0h4.76v40.2h-4.76zM165.3 82.0h4.76v30.3h-4.76zM174.5 82.0h4.76v50.0h-4.76zM193.0 82.0h4.76v69.8h-4.76zM197.6 82.0h4.76v30.3h-4.76zM234.4 129.3h4.76v10.6h-4.76zM441.8 82.0h4.76v30.3h-4.76zM460.2 80.0h4.76v59.9h-4.76zM464.8 80.0h4.76v109.3h-4.76zM469.4 80.0h4.76v109.3h-4.76zM474.0 80.0h4.76v109.3h-4.76zM483.3 131.3h4.76v89.5h-4.76zM492.5 82.0h4.76v129.0h-4.76zM497.1 82.0h4.76v89.5h-4.76zM501.7 82.0h4.76v10.6h-4.76zM506.3 151.1h4.76v198.1h-4.76zM510.9 131.3h4.76v217.8h-4.76zM515.5 269.5h4.76v79.7h-4.76zM520.1 200.4h4.76v148.7h-4.76zM524.7 269.5h4.76v89.5h-4.76zM529.3 328.8h4.76v148.7h-4.76zM533.9 269.5h4.76v188.2h-4.76zM538.5 210.3h4.76v129.0h-4.76zM543.2 82.0h4.76v158.6h-4.76zM547.8 309.0h4.76v59.9h-4.76zM552.4 247.8h4.76v89.5h-4.76zM557.0 208.3h4.76v69.8h-4.76zM561.6 228.0h4.76v59.9h-4.76zM566.2 218.2h4.76v59.9h-4.76zM570.8 188.6h4.76v69.8h-4.76zM575.4 151.1h4.76v59.9h-4.76zM580.0 180.7h4.76v50.0h-4.76zM584.6 141.2h4.76v50.0h-4.76zM589.2 121.5h4.76v69.8h-4.76zM593.8 82.0h4.76v89.5h-4.76zM598.4 170.8h4.76v59.9h-4.76zM603.1 161.0h4.76v69.8h-4.76zM607.7 82.0h4.76v138.9h-4.76zM612.3 82.0h4.76v69.8h-4.76zM616.9 101.7h4.76v129.0h-4.76zM621.5 82.0h4.76v20.4h-4.76zM630.7 82.0h4.76v129.0h-4.76zM635.3 82.0h4.76v119.1h-4.76zM658.3 99.7h4.76v30.3h-4.76zM1142.2 131.3h4.76v10.6h-4.76z"/>
<path fill="#c00000" d="M483.3 82.0h4.76v50.0h-4.76zM506.3 82.0h4.76v69.8h-4.76zM510.9 82.0h4.76v50.0h-4.76zM515.5 82.0h4.76v188.2h-4.76zM520.1 82.0h4.76v119.1h-4.76zM524.7 82.0h4.76v188.2h-4.76zM529.3 82.0h4.76v247.4h-4.76zM533.9 82.0h4.76v188.2h-4.76zM538.5 82.0h4.76v129.0h-4.76zM547.8 82.0h4.76v30.3h-4.76zM547.8 151.1h4.76v158.6h-4.76zM552.4 80.0h4.76v168.5h-4.76zM557.0 80.0h4.76v129.0h-4.76zM561.6 80.0h4.76v10.6h-4.76zM561.6 149.1h4.76v79.7h-4.76zM566.2 80.0h4.76v10.6h-4.76zM566.2 139.2h4.76v79.7h-4.76zM570.8 80.0h4.76v20.4h-4.76zM570.8 129.3h4.76v59.9h-4.76zM575.4 82.0h4.76v69.8h-4.76zM580.0 131.3h4.76v50.0h-4.76zM584.6 82.0h4.76v59.9h-4.76zM589.2 82.0h4.76v40.2h-4.76zM598.4 82.0h4.76v89.5h-4.76zM603.1 82.0h4.76v79.7h-4.76zM616.9 82.0h4.76v20.4h-4.76z"/>
<path fill="#a80000" d="M547.8 111.6h4.76v40.2h-4.76zM561.6 89.9h4.76v59.9h-4.76zM566.2 89.9h4.76v50.0h-4.76zM570.8 99.7h4.76v30.3h-4.76zM580.0 82.0h4.76v50.0h-4.76z"/>
</g>
<g fill="none" stroke="#000" stroke-width="3.8" stroke-linejoin="round" stroke-linecap="round">
<path d="M179.9 188.1 L185.0 189.3 L189.9 191.1 L195.0 190.1 L198.8 191.9 L203.5 186.1 L208.7 189.6 L212.1 193.4 L216.8 191.8 L221.7 194.0 L227.3 189.0 L231.1 191.9 L236.0 190.8 L239.8 193.3 L245.1 194.0 L250.3 190.6 L254.0 192.9 L258.0 194.2 L263.5 199.6 L267.4 199.5 L273.2 196.7 L277.1 203.0 L281.5 200.2 L286.2 205.4 L291.7 204.1 L295.2 206.7 L300.2 216.2 L304.5 218.2 L309.4 226.9 L314.0 230.9 L318.8 225.7 L322.9 207.3 L328.3 202.1 L332.5 196.3 L337.7 197.6 L341.2 196.3 L345.6 203.4 L350.5 203.7 L355.4 207.4 L360.2 208.8 L364.0 206.4 L368.9 208.7 L373.5 201.3 L378.4 193.5 L382.8 184.5 L387.7 174.6 L391.8 169.6 L397.5 163.1 L401.5 167.5 L406.4 169.3 L410.7 172.8 L415.4 177.3 L420.5 175.8 L424.2 175.6 L428.5 177.7 L434.1 137.4 L438.7 123.6 L442.7 169.1 L447.8 187.4 L451.4 204.5 L456.7 207.1 L460.9 203.1 L465.9 210.3 L469.7 209.3 L475.5 213.5 L479.9 212.3 L484.6 215.3 L489.6 219.0 L492.7 232.0 L497.6 235.9 L503.3 249.0 L506.6 259.4 L512.5 266.9 L516.6 267.3 L520.5 272.0 L524.9 277.8 L530.0 284.3 L534.1 287.9 L539.8 300.7 L543.4 298.1 L548.3 293.9 L553.2 277.2 L557.6 269.7 L562.7 239.1 L567.2 223.1 L572.3 267.1 L576.4 288.7 L580.9 296.5 L585.8 286.8 L589.4 270.3 L594.4 256.7 L598.7 244.8 L604.0 230.3 L608.7 215.8 L612.4 221.4 L617.2 240.2 L622.2 248.1 L627.3 221.9 L631.8 211.7 L635.4 234.4 L640.9 244.2 L644.6 235.5 L650.1 226.5 L653.8 204.8 L658.8 176.3 L663.3 159.8 L668.0 187.7 L672.2 189.7 L677.6 200.3 L681.9 193.7 L686.6 190.1 L691.3 189.2 L695.6 191.1 L699.7 198.4 L704.3 163.1 L709.6 174.7 L713.4 188.5 L719.4 172.2 L723.3 182.9 L727.4 196.2 L732.1 218.8 L737.0 207.0 L741.2 171.3 L746.0 202.1 L750.7 226.5 L755.6 236.5 L760.9 242.1 L765.5 246.4 L769.7 228.0 L774.7 209.6 L778.9 196.2 L783.5 206.4 L787.3 223.5 L791.6 237.7 L796.3 248.9 L802.4 253.2 L805.9 250.9 L810.5 250.0 L815.7 248.9 L819.6 247.1 L825.3 235.0 L829.1 225.1 L833.0 212.6 L838.8 196.4 L842.3 186.8 L848.4 203.3 L852.0 227.0 L856.1 241.1 L861.4 252.4 L865.3 251.4 L869.9 255.7 L874.5 254.5 L879.7 257.8 L883.7 258.1 L889.8 255.7 L893.6 251.1 L898.3 253.8 L902.5 248.2 L907.5 243.2 L912.2 234.6 L916.1 236.6 L921.3 251.8 L925.9 272.0 L930.6 287.7 L935.7 287.2 L939.5 272.2 L943.8 259.5 L948.5 245.1 L953.8 248.4 L957.7 250.2 L961.9 251.9 L966.5 229.0 L971.9 203.7 L975.7 230.1 L980.3 246.3 L985.3 225.3 L989.6 203.5 L994.5 207.3 L999.5 214.3 L1004.2 220.3 L1008.7 233.7 L1013.7 226.2 L1018.5 207.3 L1022.7 208.1 L1027.5 221.1 L1031.0 223.5 L1035.7 202.1 L1041.1 192.8 L1044.7 196.0 L1050.1 201.2 L1053.9 206.3 L1059.0 214.7 L1064.5 213.1 L1068.0 207.6 L1072.8 209.3 L1076.8 208.8 L1082.7 213.9 L1086.2 217.9 L1090.9 220.0 L1095.9 217.5 L1101.1 221.0 L1104.9 218.3 L1109.7 211.9 L1114.3 208.2 L1119.7 199.6 L1124.4 195.3 L1127.6 193.8 L1132.7 193.0 L1138.2 190.0"/>
<path d="M180.6 203.3 L184.7 203.9 L189.9 205.4 L194.0 204.6 L199.8 205.7 L203.8 198.0 L208.7 201.3 L212.3 206.3 L218.0 205.1 L221.7 208.2 L226.8 200.8 L230.4 203.8 L235.3 202.5 L239.6 205.5 L245.0 206.4 L250.4 201.3 L254.5 205.9 L259.3 207.3 L263.7 215.7 L267.3 215.1 L272.7 211.1 L276.9 222.2 L282.1 217.0 L286.7 226.8 L291.3 226.5 L295.8 233.5 L300.8 250.0 L304.9 253.2 L309.2 251.8 L314.6 269.2 L318.4 274.2 L323.3 244.4 L328.4 246.1 L332.0 225.7 L336.5 238.7 L341.2 232.5 L346.7 236.5 L350.7 241.0 L356.0 241.6 L360.2 236.7 L363.8 231.0 L369.4 231.9 L374.0 220.3 L378.8 216.8 L383.5 204.3 L388.2 198.3 L391.8 200.6 L396.8 191.1 L400.9 192.9 L406.2 189.5 L411.0 195.0 L415.5 205.8 L420.0 206.0 L423.8 201.6 L428.8 202.5 L434.0 178.7 L438.3 148.6 L443.0 196.4 L447.4 212.5 L451.3 247.2 L456.3 255.8 L461.0 234.9 L465.6 268.5 L470.7 250.1 L474.7 268.4 L479.6 262.6 L483.8 242.1 L488.4 245.8 L494.2 266.3 L498.7 261.9 L503.1 272.4 L507.0 285.0 L511.7 279.0 L515.7 278.4 L520.9 288.9 L525.2 282.6 L530.2 320.0 L535.2 300.5 L540.0 334.7 L543.3 353.0 L548.5 344.4 L553.9 343.8 L558.2 363.9 L562.8 298.9 L567.8 312.4 L571.2 312.8 L576.5 324.9 L580.7 316.2 L586.0 309.8 L589.2 295.5 L594.8 301.3 L599.9 269.8 L603.3 263.6 L608.8 254.5 L612.4 269.5 L617.9 296.2 L622.4 276.1 L626.8 245.7 L631.0 255.2 L636.1 271.0 L640.6 276.5 L645.6 268.6 L650.0 264.8 L654.4 249.5 L658.8 223.2 L663.5 186.4 L668.0 231.6 L673.5 229.4 L677.1 276.4 L681.3 249.2 L686.6 249.1 L690.9 259.4 L695.2 250.8 L700.5 252.2 L704.3 215.3 L709.0 201.0 L713.8 235.6 L718.4 237.7 L723.2 257.7 L727.6 252.5 L733.2 288.9 L736.5 250.5 L741.0 244.1 L746.4 263.1 L751.1 269.8 L755.8 281.6 L760.9 274.2 L765.1 270.5 L769.3 249.4 L774.4 245.1 L779.1 220.2 L782.8 228.8 L788.2 231.0 L792.3 265.1 L796.6 264.1 L800.9 282.1 L806.1 272.1 L810.3 285.8 L815.7 273.4 L820.7 271.5 L824.6 251.7 L829.3 258.4 L834.3 243.1 L837.8 225.1 L843.6 215.9 L847.8 233.4 L852.6 257.4 L857.0 269.7 L860.7 293.3 L866.2 297.0 L870.5 309.9 L874.5 299.1 L880.4 320.1 L883.9 305.0 L889.6 324.3 L893.5 296.1 L898.3 294.8 L902.8 282.2 L907.3 309.2 L911.4 278.7 L917.4 271.8 L920.8 292.0 L925.7 327.1 L931.1 322.7 L935.7 326.7 L939.6 312.2 L944.9 276.6 L949.5 269.1 L953.1 282.6 L958.0 289.0 L962.0 309.7 L967.6 277.7 L971.2 260.7 L976.3 248.4 L980.5 287.6 L985.7 263.3 L989.5 245.4 L995.2 245.2 L999.6 260.3 L1004.7 269.0 L1009.2 268.8 L1013.1 256.8 L1018.0 245.6 L1021.6 277.4 L1027.6 289.3 L1032.1 296.3 L1036.6 272.0 L1041.0 281.9 L1045.4 269.8 L1050.4 270.6 L1054.7 257.4 L1058.7 263.0 L1063.4 290.4 L1068.2 284.2 L1072.6 271.8 L1077.7 252.5 L1082.1 254.4 L1086.6 260.4 L1091.3 269.9 L1095.6 257.3 L1099.9 275.3 L1104.6 260.1 L1110.3 236.7 L1113.6 228.9 L1119.2 212.8 L1123.9 206.5 L1127.4 205.7 L1132.3 206.8 L1136.8 202.5"/>
<path d="M180.2 213.0 L184.9 214.3 L189.3 215.9 L194.7 214.9 L198.9 215.8 L203.5 206.0 L208.8 211.8 L213.4 217.1 L217.3 214.5 L222.6 217.1 L226.1 209.1 L231.5 212.8 L235.9 211.0 L239.8 214.9 L244.4 215.7 L249.0 209.9 L253.4 214.0 L259.3 218.4 L262.7 227.2 L267.3 225.9 L272.6 224.0 L277.9 234.7 L281.3 231.7 L286.9 241.2 L291.5 239.3 L295.2 245.6 L299.6 267.8 L304.5 271.3 L309.1 296.5 L314.0 305.6 L319.3 304.0 L323.2 274.6 L327.2 284.3 L331.7 260.9 L336.7 260.0 L342.3 247.7 L346.0 255.5 L350.5 258.6 L355.3 264.3 L359.7 260.0 L365.2 249.2 L368.9 246.1 L373.8 240.6 L379.0 231.8 L383.3 223.7 L387.5 216.7 L392.8 212.6 L397.0 201.3 L401.3 210.5 L405.4 210.7 L409.9 221.3 L414.9 224.8 L419.7 218.4 L424.7 217.3 L429.5 224.5 L433.1 205.8 L438.4 183.0 L442.6 233.0 L448.1 245.6 L452.8 268.4 L457.0 269.6 L460.7 253.2 L465.6 284.7 L470.3 270.5 L474.7 280.4 L479.9 271.2 L484.3 263.5 L489.2 284.9 L493.6 288.3 L497.3 290.4 L502.6 298.6 L508.0 303.3 L511.7 319.4 L515.9 306.0 L520.6 328.8 L526.4 324.2 L530.7 363.8 L534.3 365.0 L538.9 384.8 L543.2 426.2 L549.2 448.9 L553.9 432.4 L557.9 436.0 L562.0 354.0 L566.3 333.7 L572.3 356.7 L576.6 374.7 L580.6 352.5 L586.0 350.5 L589.4 331.4 L594.2 315.9 L598.8 291.2 L603.9 280.9 L607.9 269.3 L613.1 276.2 L617.6 319.6 L622.5 335.4 L626.7 283.7 L631.8 273.9 L636.0 305.4 L640.7 307.8 L644.9 306.5 L650.0 289.8 L654.3 276.1 L658.4 263.7 L663.6 254.6 L667.8 260.0 L673.5 261.0 L677.7 273.2 L681.6 257.1 L686.5 286.0 L691.2 275.4 L696.2 262.9 L700.8 280.3 L704.3 287.2 L709.3 288.8 L714.4 296.0 L719.5 285.0 L723.7 302.3 L728.2 288.4 L732.2 297.1 L737.6 274.6 L742.5 263.0 L747.2 289.7 L751.7 300.2 L755.8 301.3 L760.8 300.8 L765.0 295.7 L769.9 292.5 L773.9 266.9 L779.0 272.5 L783.3 279.0 L788.4 296.2 L792.4 325.5 L797.1 339.8 L801.3 340.0 L805.7 313.9 L810.5 324.9 L815.7 325.2 L820.0 330.0 L824.4 300.3 L828.6 281.8 L834.5 274.0 L838.1 244.4 L842.4 240.5 L847.0 256.1 L852.1 282.3 L857.4 305.2 L860.7 322.2 L865.2 322.7 L870.9 340.8 L874.4 344.0 L880.5 341.3 L885.2 347.0 L888.3 345.3 L893.5 335.8 L898.2 347.5 L902.4 330.4 L907.0 308.9 L912.0 323.0 L916.6 337.3 L920.4 326.0 L925.0 342.5 L930.0 355.7 L934.5 358.5 L938.9 353.9 L944.3 344.6 L948.1 318.9 L953.7 345.1 L958.5 322.1 L962.2 324.6 L966.7 297.3 L972.4 299.4 L975.8 315.2 L981.0 339.8 L986.4 330.1 L990.7 329.3 L994.1 331.9 L1000.1 322.9 L1003.8 307.4 L1008.2 322.5 L1012.8 325.1 L1018.0 320.1 L1021.6 332.3 L1026.5 326.2 L1031.8 349.9 L1036.1 322.6 L1040.2 296.9 L1046.1 297.7 L1049.6 281.0 L1054.1 289.7 L1058.5 315.1 L1064.0 294.3 L1068.1 284.2 L1073.0 289.6 L1078.3 277.7 L1082.9 279.9 L1087.3 285.6 L1091.3 291.9 L1096.3 278.4 L1099.8 289.0 L1105.0 275.0 L1110.5 255.1 L1115.2 242.9 L1119.2 222.5 L1123.8 216.3 L1128.7 214.4 L1133.2 216.0 L1137.1 212.7"/>
<path d="M180.6 222.4 L184.8 222.9 L189.9 223.2 L194.6 222.7 L199.0 224.6 L203.4 214.3 L207.6 218.9 L213.2 223.9 L217.5 221.3 L222.4 223.3 L227.1 215.7 L231.0 220.9 L235.3 219.3 L240.0 222.7 L245.5 223.4 L249.2 219.1 L254.3 222.3 L258.9 225.0 L263.6 235.5 L268.2 235.9 L272.9 232.4 L276.7 243.9 L282.0 242.5 L286.1 253.4 L291.3 253.1 L294.8 262.8 L300.8 286.3 L304.9 288.2 L309.7 305.1 L313.7 335.6 L318.9 317.7 L322.6 303.6 L327.8 301.5 L332.0 278.5 L336.5 284.9 L341.9 282.4 L346.8 288.0 L351.0 278.7 L354.8 288.1 L359.3 280.1 L364.2 263.7 L369.3 260.9 L373.9 255.3 L378.5 252.3 L383.5 244.0 L388.2 231.0 L392.8 230.2 L397.1 226.9 L401.8 230.0 L405.6 232.6 L410.5 237.3 L416.0 243.8 L420.2 233.2 L424.7 233.5 L428.5 236.7 L433.5 212.2 L438.9 200.8 L442.2 247.0 L447.2 260.3 L452.3 291.3 L456.1 288.7 L460.7 275.7 L465.5 305.5 L469.8 289.7 L475.0 296.7 L479.2 303.0 L484.9 326.2 L488.8 325.5 L493.5 345.2 L497.8 334.9 L502.5 356.7 L507.1 344.5 L511.0 354.1 L517.1 358.2 L521.2 368.3 L525.5 395.4 L530.3 413.4 L535.1 414.1 L540.2 473.8 L543.3 522.5 L549.1 499.2 L552.6 474.2 L557.2 470.0 L561.9 432.3 L567.5 403.5 L572.0 440.1 L576.1 415.2 L581.5 383.1 L585.6 383.3 L590.1 348.4 L594.2 344.9 L599.1 341.4 L603.4 349.8 L607.9 334.4 L613.3 321.7 L617.8 368.3 L622.3 361.0 L626.8 325.1 L631.9 304.8 L635.6 329.9 L640.3 331.6 L645.4 320.8 L649.9 318.4 L654.0 320.5 L658.4 309.8 L663.6 281.2 L667.7 287.5 L672.2 300.0 L676.9 342.8 L681.5 357.7 L687.4 357.5 L691.5 384.9 L696.1 341.7 L701.2 332.3 L704.3 357.4 L710.1 368.4 L714.4 359.0 L718.1 349.2 L723.7 350.5 L727.4 334.9 L732.5 354.7 L737.7 332.9 L741.8 317.9 L746.1 331.5 L751.5 342.2 L756.1 332.3 L760.9 327.4 L764.6 319.4 L770.0 306.6 L773.6 296.7 L778.1 280.1 L782.8 301.3 L788.1 323.7 L792.5 349.4 L797.1 369.6 L801.2 393.1 L806.0 381.5 L811.2 370.4 L815.1 366.4 L819.4 341.0 L824.5 341.5 L829.8 322.6 L833.8 294.2 L838.2 264.9 L843.2 251.9 L848.3 275.7 L852.6 296.8 L856.7 317.6 L861.7 334.6 L865.4 335.2 L869.9 357.6 L875.1 340.8 L879.2 359.6 L884.8 352.1 L889.0 355.4 L892.9 337.5 L897.6 366.6 L902.8 352.2 L906.8 356.1 L911.4 339.2 L916.3 370.2 L920.9 367.8 L925.2 388.5 L931.2 401.3 L934.9 386.0 L939.7 380.8 L944.2 374.8 L948.4 362.8 L953.9 389.9 L958.2 409.2 L962.2 408.9 L967.2 391.5 L972.6 359.7 L976.3 367.4 L981.0 375.2 L986.1 391.6 L989.7 384.4 L994.3 358.2 L999.9 371.1 L1003.2 376.7 L1008.9 382.7 L1012.7 372.6 L1018.3 366.1 L1021.6 363.3 L1026.3 352.9 L1031.9 353.4 L1036.8 327.4 L1040.6 329.1 L1044.8 355.9 L1049.7 355.0 L1055.0 338.8 L1058.5 344.3 L1064.2 358.3 L1067.8 336.1 L1073.0 321.5 L1077.5 293.5 L1081.9 289.4 L1087.6 288.8 L1091.3 303.7 L1096.0 286.9 L1099.8 291.8 L1105.8 285.8 L1110.5 263.4 L1114.0 252.6 L1119.3 230.0 L1123.1 223.0 L1128.2 222.3 L1133.1 224.6 L1137.4 221.9"/>
<path d="M180.2 230.7 L185.2 230.4 L190.5 231.5 L194.3 229.2 L198.8 231.2 L203.9 221.4 L208.0 226.5 L212.8 230.5 L216.8 227.4 L222.5 231.8 L227.3 224.2 L230.6 226.9 L235.5 225.3 L239.9 230.4 L245.3 230.7 L249.6 225.6 L254.7 230.1 L258.5 234.3 L262.6 243.1 L268.4 244.4 L272.9 242.7 L277.4 255.6 L281.8 253.8 L286.9 263.1 L291.5 266.0 L295.5 276.6 L300.9 301.4 L304.8 295.6 L309.1 311.1 L314.1 330.0 L318.4 329.8 L323.1 328.3 L327.9 314.9 L333.0 310.6 L337.0 308.5 L341.4 308.0 L345.9 312.6 L351.1 298.0 L355.5 306.2 L359.4 298.9 L364.3 286.5 L368.4 276.0 L374.3 271.1 L378.1 265.1 L382.2 257.6 L387.5 249.1 L391.6 251.7 L396.5 239.4 L402.0 245.2 L405.4 248.6 L410.7 251.1 L414.5 255.7 L419.6 254.5 L424.7 248.8 L429.4 253.2 L433.8 233.6 L438.0 227.4 L442.7 282.1 L447.5 277.9 L452.7 314.2 L456.3 315.9 L460.5 308.0 L465.2 359.0 L469.9 352.1 L474.5 336.2 L480.0 323.3 L483.6 319.4 L489.4 350.5 L493.7 351.8 L497.7 346.5 L503.0 362.1 L507.2 368.1 L511.9 371.6 L516.1 381.4 L521.0 384.4 L525.1 403.0 L529.9 395.8 L534.2 418.4 L538.9 480.4 L544.4 525.0 L548.3 565.1 L553.5 520.8 L558.3 596.7 L562.1 536.9 L567.7 467.4 L572.4 458.7 L576.8 441.8 L581.4 411.2 L585.5 398.5 L590.0 380.0 L594.1 358.0 L599.7 372.4 L604.3 370.0 L609.0 354.1 L613.1 356.2 L618.1 357.2 L622.8 373.2 L627.1 347.8 L631.5 339.2 L635.5 360.7 L640.2 365.4 L644.9 352.3 L650.2 345.8 L655.1 337.9 L658.2 317.4 L663.0 294.8 L668.5 319.5 L672.0 310.5 L677.3 353.7 L682.2 313.0 L686.5 325.6 L691.3 354.1 L695.1 342.2 L700.5 392.1 L705.4 365.5 L709.5 373.3 L713.7 373.1 L718.3 327.8 L723.8 351.5 L727.9 348.6 L732.8 346.1 L736.5 341.2 L742.2 341.2 L747.1 332.1 L751.6 331.0 L755.9 350.3 L759.7 353.0 L765.3 355.2 L770.2 338.7 L774.0 335.6 L778.6 326.8 L782.6 327.9 L787.8 340.8 L793.1 368.5 L796.7 389.5 L802.4 387.9 L806.7 380.3 L811.5 367.8 L816.0 344.4 L820.5 347.1 L824.4 328.9 L829.2 332.2 L833.1 313.8 L839.1 285.4 L843.4 274.2 L848.1 296.0 L851.8 322.2 L856.2 336.7 L862.0 353.1 L865.6 357.4 L870.1 375.5 L874.6 387.5 L879.2 375.4 L885.1 384.0 L889.1 366.7 L893.0 354.3 L898.5 366.7 L903.0 343.5 L907.8 348.1 L912.8 329.1 L916.3 338.2 L920.6 353.5 L925.9 382.1 L930.5 396.0 L934.3 397.1 L939.2 399.6 L944.7 375.5 L949.6 389.1 L953.9 402.1 L958.0 407.7 L961.9 408.1 L966.7 384.6 L971.0 367.6 L976.7 375.5 L981.6 398.5 L985.9 381.3 L989.9 371.6 L995.5 373.0 L998.7 382.5 L1004.7 397.3 L1009.4 401.0 L1013.5 366.1 L1018.3 367.6 L1021.8 389.0 L1026.5 391.1 L1031.1 408.5 L1036.9 386.6 L1040.1 415.4 L1045.8 377.1 L1050.2 377.2 L1055.2 372.5 L1059.3 366.7 L1063.3 348.4 L1068.3 353.2 L1073.4 352.8 L1077.2 342.4 L1082.3 328.1 L1086.4 323.6 L1091.2 349.4 L1096.1 347.1 L1101.3 350.7 L1104.6 326.1 L1110.0 296.0 L1115.0 270.5 L1118.6 238.9 L1123.6 229.6 L1129.0 230.3 L1132.9 231.2 L1137.4 229.7"/>
<path d="M181.1 239.2 L184.4 239.3 L189.5 239.9 L194.6 236.7 L198.5 239.4 L202.9 228.9 L207.7 232.7 L212.6 239.3 L217.4 235.5 L221.5 239.3 L227.2 231.3 L231.4 235.7 L235.7 233.2 L241.1 237.7 L245.3 237.8 L250.0 233.5 L254.5 237.3 L258.4 242.6 L263.2 251.7 L267.3 252.4 L272.1 250.9 L276.7 264.4 L281.7 264.9 L287.1 275.9 L291.6 280.3 L295.3 295.3 L300.9 320.2 L304.4 334.5 L309.5 351.8 L314.6 357.3 L319.1 360.1 L322.7 344.0 L328.1 361.6 L332.2 333.8 L337.4 318.1 L341.9 318.0 L347.0 335.4 L351.2 327.2 L354.9 322.1 L360.6 306.1 L364.5 296.6 L369.0 294.6 L374.5 285.1 L378.5 282.7 L382.5 274.5 L387.0 263.8 L392.8 268.0 L396.3 258.0 L401.6 268.2 L406.0 262.7 L410.4 265.5 L415.0 272.0 L420.1 264.5 L423.8 265.6 L429.0 271.1 L433.6 272.6 L437.7 252.2 L442.2 287.4 L447.4 303.4 L452.6 326.7 L455.8 346.1 L461.6 326.2 L465.8 347.2 L471.1 343.6 L475.1 380.3 L479.2 387.4 L483.6 366.5 L488.3 383.2 L493.3 380.8 L498.5 393.9 L502.2 396.6 L506.8 397.2 L512.3 398.5 L515.9 403.0 L521.6 396.9 L525.6 410.7 L529.9 432.5 L534.1 454.8 L539.1 470.9 L543.4 515.3 L548.1 579.1 L553.2 518.9 L557.4 580.2 L562.4 555.1 L567.4 463.3 L571.9 458.6 L575.8 416.9 L581.3 410.7 L585.5 395.5 L590.7 377.6 L594.9 368.6 L599.3 369.6 L603.2 370.9 L608.7 368.9 L612.9 396.3 L617.5 426.3 L621.6 415.8 L626.8 403.9 L631.6 401.7 L636.4 410.6 L641.3 390.5 L644.7 376.1 L650.2 369.6 L653.9 359.0 L658.5 338.3 L664.2 347.3 L667.7 356.1 L672.8 367.2 L677.0 407.4 L682.6 402.1 L687.0 438.2 L691.3 444.3 L695.7 425.8 L699.7 420.7 L704.9 403.5 L709.8 407.6 L714.6 388.1 L719.2 360.6 L722.7 356.4 L728.2 379.8 L732.5 397.7 L736.6 379.2 L741.9 364.2 L746.6 379.8 L751.5 385.0 L755.0 389.2 L759.7 377.8 L764.4 370.2 L769.3 351.6 L774.6 350.3 L778.6 341.8 L783.6 341.8 L788.0 370.2 L792.3 392.6 L797.6 400.9 L801.6 421.9 L806.4 411.0 L810.8 398.2 L815.6 399.9 L819.7 388.2 L824.6 378.4 L828.4 366.9 L833.1 352.4 L838.6 327.6 L842.6 310.4 L848.3 328.7 L852.9 355.5 L857.5 366.7 L862.0 387.1 L865.6 398.4 L869.9 418.6 L876.0 431.9 L879.1 437.5 L883.8 427.2 L889.0 431.3 L893.8 414.5 L898.1 429.0 L903.2 412.8 L907.0 396.5 L911.3 371.5 L916.9 396.4 L921.6 416.3 L926.2 423.1 L931.1 407.8 L935.7 423.2 L938.9 405.9 L944.4 399.1 L948.1 365.4 L952.7 388.1 L957.5 406.0 L962.6 414.8 L966.8 403.5 L971.3 417.7 L976.3 405.4 L981.7 405.6 L986.4 392.3 L990.0 379.9 L994.4 379.2 L1000.2 368.4 L1004.0 376.5 L1009.0 395.2 L1013.5 404.4 L1018.0 391.6 L1022.2 391.8 L1026.5 397.2 L1031.6 386.5 L1036.6 347.5 L1040.2 351.7 L1045.3 352.6 L1049.5 333.2 L1055.3 354.8 L1058.8 345.8 L1063.5 348.9 L1069.0 349.7 L1073.7 339.3 L1077.3 325.8 L1082.8 325.2 L1086.3 339.3 L1091.5 350.5 L1095.4 359.0 L1100.7 368.5 L1104.9 342.2 L1110.4 311.0 L1114.2 280.1 L1118.7 246.1 L1123.3 237.1 L1128.8 237.9 L1133.4 239.1 L1137.8 238.4"/>
<path d="M180.3 247.8 L185.7 248.5 L190.6 248.1 L194.3 246.2 L199.5 246.4 L203.4 238.2 L208.6 241.3 L213.2 246.8 L218.0 244.4 L222.3 247.5 L227.3 238.3 L231.5 243.6 L236.1 242.1 L240.7 244.7 L245.6 246.2 L250.3 241.7 L253.8 246.3 L259.1 250.5 L262.7 260.7 L268.1 262.9 L273.2 262.2 L276.9 277.8 L282.3 275.4 L286.4 290.6 L291.7 291.9 L296.4 305.1 L301.0 336.2 L305.3 337.5 L310.1 367.9 L313.3 392.0 L319.0 390.1 L323.1 366.2 L327.0 373.3 L332.2 342.7 L337.0 348.5 L341.8 332.7 L345.6 346.0 L351.2 342.2 L355.1 337.7 L360.2 332.0 L365.1 324.6 L369.8 314.3 L374.6 308.3 L378.7 305.9 L383.4 295.1 L388.1 290.0 L391.8 287.6 L397.4 278.4 L401.7 286.8 L405.8 287.9 L410.0 289.5 L415.2 292.4 L419.9 290.0 L424.9 286.1 L429.0 287.0 L433.8 297.2 L438.6 288.6 L442.7 321.8 L446.9 323.5 L452.2 354.0 L456.8 367.8 L460.7 381.6 L465.5 395.4 L469.9 408.5 L475.7 414.0 L478.9 413.9 L483.5 425.0 L488.1 430.6 L492.9 430.6 L498.0 422.1 L503.0 427.0 L506.6 425.1 L511.7 428.7 L516.4 440.6 L520.3 452.6 L525.8 464.6 L530.2 477.8 L535.0 519.2 L539.7 560.6 L543.7 602.0 L549.3 643.4 L552.9 652.8 L558.3 641.5 L563.2 588.1 L566.5 547.6 L570.8 527.4 L577.0 489.2 L580.7 442.2 L585.2 440.9 L590.5 428.0 L593.9 416.4 L599.4 406.3 L603.8 423.7 L608.2 409.9 L612.8 414.7 L617.3 409.9 L622.2 415.3 L626.0 384.3 L631.1 407.1 L636.0 413.2 L641.1 403.0 L645.8 397.5 L650.6 390.0 L654.7 368.3 L658.2 372.0 L664.3 383.9 L668.1 370.5 L673.1 366.8 L676.7 394.7 L682.4 384.0 L687.2 425.3 L691.2 446.3 L695.3 448.1 L700.4 459.7 L705.2 456.0 L710.4 431.9 L714.7 445.3 L718.5 434.0 L723.0 411.9 L728.2 427.1 L732.7 414.0 L736.4 405.4 L742.5 404.1 L746.5 402.3 L750.2 400.6 L755.1 399.0 L760.4 392.9 L764.3 392.2 L769.5 382.5 L774.1 371.0 L778.9 347.7 L783.0 353.9 L787.2 362.3 L793.0 394.5 L797.5 416.5 L801.9 426.4 L805.5 431.0 L811.0 427.4 L814.6 407.1 L819.4 409.8 L824.0 394.6 L828.7 378.6 L833.2 358.5 L838.7 324.9 L842.4 317.6 L847.8 336.0 L852.7 355.8 L856.3 373.6 L862.1 385.2 L866.4 396.0 L870.5 406.1 L874.7 402.1 L879.3 450.9 L884.8 451.6 L888.9 447.0 L893.2 424.6 L897.9 437.8 L903.0 436.0 L906.9 436.0 L912.4 436.0 L917.4 437.1 L920.9 445.1 L926.6 453.2 L930.1 461.2 L934.7 460.6 L939.9 455.4 L944.8 450.3 L949.1 446.5 L953.7 440.0 L957.4 446.8 L962.5 455.1 L967.9 438.6 L971.4 439.6 L976.6 412.8 L980.4 421.8 L985.4 424.2 L990.6 437.1 L994.9 446.0 L999.5 446.0 L1003.8 427.2 L1008.5 446.0 L1013.3 446.0 L1018.1 446.0 L1022.3 444.9 L1027.5 446.0 L1030.9 444.4 L1035.8 417.5 L1040.5 424.7 L1045.5 429.6 L1050.4 407.7 L1053.9 408.6 L1059.0 407.6 L1064.4 402.2 L1068.9 392.9 L1073.4 386.0 L1078.0 355.9 L1082.4 359.0 L1086.6 364.5 L1091.9 380.6 L1095.5 396.0 L1100.5 401.8 L1105.0 361.4 L1110.6 322.1 L1114.0 296.5 L1118.6 255.6 L1123.7 245.9 L1127.8 245.8 L1132.7 248.1 L1138.2 245.8"/>
<path d="M541.7 351.4 L537.6 360.7 L536.8 370.6 L540.7 380.3 L538.4 393.9 L541.5 406.1 L542.1 419.9 L538.9 434.0 L542.9 443.0 L543.1 454.6 L543.8 468.4 L542.1 482.1 L544.0 497.3 L545.2 509.2 L542.6 519.9 L546.7 532.7 L542.8 542.2 L545.2 551.0 L544.4 562.8 L544.0 573.7 L543.1 586.3 L543.3 598.2"/>
<path d="M541.6 359.8 L541.5 374.2 L546.2 386.4 L543.2 397.3 L544.0 410.8 L546.6 425.0 L544.6 434.9 L544.6 446.7 L543.3 459.8 L543.9 470.0 L544.6 481.5 L548.7 491.9 L545.2 504.9 L547.3 513.6 L547.3 526.4 L547.7 534.8 L547.8 549.2 L546.9 562.5 L546.6 573.6 L549.9 587.7"/>
<path d="M548.8 360.6 L546.5 368.9 L548.2 379.4 L547.3 395.1 L545.4 408.9 L547.2 424.8 L545.1 439.8 L549.3 450.4 L545.5 459.8 L549.8 470.4 L547.2 485.3 L551.6 498.1 L550.5 512.2 L548.4 524.1 L550.6 534.3 L551.7 544.7 L551.5 554.7 L552.1 564.4 L553.7 579.5 L554.2 590.8"/>
<path d="M548.3 353.6 L548.3 362.0 L551.0 374.8 L552.3 386.3 L551.5 399.7 L549.6 414.4 L550.7 428.5 L552.1 438.8 L548.7 452.5 L554.5 466.2 L554.6 474.5 L554.8 485.9 L552.3 497.0 L551.7 510.3 L554.0 520.1 L550.5 530.8 L556.0 541.2 L551.8 555.1 L554.9 567.1 L556.4 576.5 L555.9 592.3"/>
<path d="M553.2 354.3 L553.9 369.3 L555.7 378.5 L554.3 393.7 L551.4 403.4 L555.3 412.4 L556.9 424.8 L553.3 434.2 L556.5 444.4 L556.1 458.5 L553.7 470.5 L553.0 481.7 L556.3 495.4 L558.2 507.7 L557.0 516.8 L555.0 525.6 L556.8 538.8 L555.5 553.8 L556.7 564.7 L558.7 575.1 L557.3 585.8 L555.8 600.0 L558.6 613.3"/>
<path d="M553.2 356.4 L554.7 370.2 L554.2 380.2 L557.5 393.2 L553.8 406.1 L556.4 417.6 L558.6 427.0 L559.5 438.2 L556.2 450.2 L555.5 465.1 L557.6 475.9 L559.4 484.8 L561.5 495.2 L556.5 510.5 L560.5 520.1 L558.2 533.7 L563.0 544.4 L559.7 559.9 L563.7 573.5 L560.7 586.8"/>
<path d="M561.2 364.9 L556.7 373.4 L557.9 381.9 L560.9 397.7 L560.5 408.6 L560.1 420.1 L563.0 430.9 L558.2 444.8 L563.8 457.7 L559.2 468.8 L561.9 477.2 L562.2 488.2 L561.9 501.6 L563.1 514.5 L563.0 527.1 L561.7 536.8 L566.1 550.2 L561.0 559.0 L566.6 570.6 L562.7 585.7 L562.1 598.6 L562.4 613.0"/>
<path d="M560.7 351.3 L561.1 360.3 L559.3 369.9 L564.4 381.7 L563.1 395.8 L562.8 404.7 L563.0 414.8 L561.8 429.8 L563.8 442.1 L561.7 453.6 L567.0 468.9 L567.1 478.7 L567.3 490.3 L562.8 500.8 L565.0 516.7 L564.4 525.0 L568.3 535.7 L565.3 551.4 L564.6 560.4 L567.2 576.3"/>
<path d="M565.6 348.6 L566.8 360.8 L567.5 372.4 L566.4 385.9 L564.9 394.7 L568.5 404.9 L567.8 419.9 L564.8 433.3 L564.6 441.4 L566.2 453.0 L565.4 468.9 L567.0 481.9 L570.3 491.4 L568.6 506.0 L566.7 517.8 L570.9 530.6 L571.7 545.7 L568.3 560.2 L568.0 575.6"/>
<path fill="#000" stroke-width="1" d="M543 410L548 372L556 386L562 420L567 480L568 560L565 610L560 652L554 656L549 610L545 530Z"/>
<path d="M556.0 420.0 L560.0 300.0 L562.0 206.0 L565.0 300.0 L568.0 420.0"/>
<path stroke-width="4.2" d="M303.9 251.8 L304.6 269.2 L297.9 284.0 L303.3 297.4 L301.5 316.0 L306.0 332.6 L302.3 350.0 L298.5 364.9 L307.2 379.4"/>
<path stroke-width="4.2" d="M304.8 248.5 L304.9 263.8 L307.6 280.1 L310.1 299.7 L312.4 314.0 L306.4 330.8 L302.7 342.8 L308.6 357.0 L303.8 370.3 L303.8 386.0"/>
<path stroke-width="4.2" d="M310.9 249.9 L310.7 268.2 L315.5 279.9 L314.1 297.6 L312.6 316.6 L309.0 327.4 L314.1 343.8 L314.8 354.3 L313.5 375.3"/>
<path stroke-width="4.2" d="M312.8 249.6 L320.0 266.0 L321.7 285.5 L313.0 300.4 L322.4 319.3 L321.1 340.6 L319.3 350.9 L315.5 371.9 L318.4 389.4"/>
<path stroke-width="4.2" d="M319.2 266.8 L325.2 285.7 L326.2 301.5 L320.0 313.8 L325.9 324.3 L323.6 338.0 L322.9 353.7"/>
<path stroke-width="4.2" d="M326.9 234.9 L327.9 249.0 L330.0 259.6 L325.8 273.7 L322.9 286.8 L329.2 305.6 L327.2 325.3 L326.5 345.6 L330.6 362.0 L327.2 375.7 L323.1 389.9"/>
<path stroke-width="4.2" d="M349.7 223.9 L350.8 244.7 L353.3 265.6 L357.1 275.8 L357.8 286.1 L357.8 297.7 L350.8 308.3 L355.6 326.5"/>
<path stroke-width="4.2" d="M363.2 195.0 L363.2 214.8 L362.8 233.1 L359.4 249.2 L362.9 266.5 L357.4 278.7 L357.0 298.7 L362.6 310.2"/>
<path stroke-width="4.2" d="M364.9 195.1 L366.3 212.0 L364.6 229.4 L363.4 240.6 L369.7 256.3 L366.3 272.3 L366.0 290.2"/>
<path stroke-width="4.2" d="M366.9 194.4 L367.9 209.6 L365.8 230.3 L372.3 241.0 L365.4 251.7 L368.8 264.9 L370.8 280.9 L374.1 299.9"/>
<path stroke-width="4.2" d="M371.9 208.1 L378.5 224.8 L371.6 237.4 L374.0 248.5 L376.4 270.5 L379.7 281.9 L374.5 294.4"/>
<path stroke-width="4.2" d="M378.6 228.9 L381.0 250.4 L378.2 270.2 L382.4 287.8 L383.6 309.7 L375.9 326.9"/>
<path stroke-width="4.2" d="M389.7 195.0 L381.3 215.4 L386.6 232.6 L388.8 252.0 L382.2 263.5 L390.1 273.6 L386.2 289.4 L382.1 309.8 L386.7 323.7"/>
<path stroke-width="4.2" d="M391.2 219.7 L389.1 236.3 L393.6 257.9 L390.9 271.3 L387.7 288.6 L389.5 300.5"/>
<path stroke-width="4.2" d="M395.4 223.4 L390.8 239.0 L398.1 252.7 L391.3 270.5 L399.2 291.1 L398.0 311.3"/>
<path stroke-width="4.2" d="M437.3 220.5 L435.1 231.2 L441.6 249.4 L434.9 260.2 L441.4 273.1 L436.1 288.8 L440.5 306.2 L439.1 323.1 L438.7 342.7 L437.4 360.3 L442.5 380.7"/>
<path stroke-width="4.2" d="M438.7 234.5 L440.9 248.7 L445.3 265.8 L443.1 282.8 L441.1 302.2 L445.2 320.2 L445.1 335.8 L443.7 346.0 L444.5 364.7 L442.7 376.0 L444.6 393.6"/>
<path stroke-width="4.2" d="M448.5 214.5 L446.2 225.0 L448.2 235.6 L442.9 253.2 L445.2 264.9 L446.7 278.6 L445.1 295.7 L442.4 305.9 L443.7 326.2 L446.1 347.5 L447.5 359.6 L444.3 370.5"/>
<path stroke-width="4.2" d="M452.7 224.7 L455.8 237.7 L447.8 250.0 L454.2 263.4 L454.2 284.0 L450.2 296.7 L451.4 313.1 L453.9 334.3 L447.6 350.4"/>
<path stroke-width="4.2" d="M458.0 249.7 L459.9 268.7 L456.3 287.7 L456.6 304.2 L456.7 314.8 L459.2 326.0 L453.3 337.3 L452.1 356.3 L455.4 368.6 L460.3 389.8 L450.7 400.8"/>
<path stroke-width="4.2" d="M463.2 241.8 L459.1 257.9 L458.5 277.9 L460.6 297.7 L455.1 309.0 L458.2 324.8 L455.3 346.6 L462.3 362.4 L461.6 376.2 L457.0 390.8"/>
<path stroke-width="4.2" d="M576.6 314.5 L572.0 328.6 L579.7 340.7 L577.1 355.2 L573.4 367.3 L580.9 378.1 L575.3 391.3 L575.4 403.2"/>
<path stroke-width="4.2" d="M579.1 306.3 L578.4 323.6 L581.8 334.0 L584.0 349.3 L581.1 370.9"/>
<path stroke-width="4.2" d="M585.0 320.6 L586.8 339.9 L586.4 356.9 L587.2 376.5"/>
<path stroke-width="4.2" d="M583.9 330.4 L583.9 344.0 L584.5 360.3 L586.5 375.6 L586.1 392.6 L583.0 403.9"/>
<path stroke-width="4.2" d="M624.3 290.3 L628.9 301.1 L632.9 318.8 L632.4 332.0 L627.3 353.6 L624.5 370.5"/>
<path stroke-width="4.2" d="M634.9 306.8 L630.2 320.8 L635.0 335.9 L632.1 346.4 L634.8 366.7"/>
<path stroke-width="4.2" d="M636.4 279.6 L643.7 297.3 L643.6 314.9 L636.1 334.1 L640.7 354.0"/>
<path stroke-width="4.2" d="M646.9 311.6 L639.2 331.8 L644.3 348.8"/>
<path stroke-width="4.2" d="M649.7 288.0 L652.2 308.3 L650.2 318.5 L653.3 332.7"/>
<path stroke-width="4.2" d="M737.3 240.5 L738.7 255.7 L742.1 274.9 L737.9 291.0 L738.9 302.6 L738.2 314.5"/>
<path stroke-width="4.2" d="M745.2 246.8 L741.6 262.8 L747.6 277.7 L747.6 288.0 L750.7 309.0 L744.2 330.6"/>
<path stroke-width="4.2" d="M751.7 228.3 L745.4 244.1 L753.4 262.8 L749.0 280.4 L745.5 294.4 L754.9 307.5"/>
<path stroke-width="4.2" d="M749.2 231.7 L752.7 243.9 L757.1 256.1 L756.7 275.5 L755.4 292.9 L757.1 313.9 L759.0 332.0 L753.3 342.1"/>
<path stroke-width="4.2" d="M693.0 315.0 L694.7 331.4 L693.2 350.8 L690.3 372.4 L694.3 392.7"/>
<path stroke-width="4.2" d="M704.2 321.2 L697.5 336.2 L700.4 351.4 L702.4 367.9 L695.9 389.2 L697.9 400.8 L699.0 415.2 L697.4 425.4 L701.0 437.9"/>
<path stroke-width="4.2" d="M709.6 318.8 L710.4 333.1 L711.8 345.8 L704.0 358.2 L709.3 379.0 L706.9 398.2"/>
<path stroke-width="4.2" d="M717.5 321.2 L711.0 342.4 L711.1 362.4 L712.2 380.3 L712.2 395.0 L714.8 406.5 L713.1 427.0 L717.6 439.2"/>
<path stroke-width="4.2" d="M723.5 289.1 L723.4 310.6 L723.6 327.5 L726.4 346.6 L718.0 364.2 L723.4 386.2 L725.5 401.0"/>
<path stroke-width="4.8" d="M924.6 262.7 L930.0 284.1 L925.2 302.0 L932.5 320.9 L927.6 341.3 L929.5 352.4 L927.3 363.0 L932.3 378.0 L924.2 396.9 L929.5 413.5"/>
<path stroke-width="4.8" d="M934.3 270.3 L936.2 287.4 L930.0 308.3 L933.6 319.0 L934.4 337.2 L931.1 351.0 L933.0 370.7 L928.1 384.0 L930.0 402.5"/>
<path stroke-width="4.8" d="M933.1 280.6 L936.4 290.9 L931.9 309.5 L934.7 324.6 L936.9 340.3 L937.9 355.7 L938.3 368.4 L936.9 384.2 L940.0 401.6 L931.1 423.3"/>
<path stroke-width="4.8" d="M937.4 268.3 L939.2 283.6 L944.2 298.5 L939.5 312.2 L938.3 322.7 L938.9 335.7 L937.9 347.6 L939.6 361.7 L941.4 377.3 L939.7 395.0 L940.2 410.0 L938.6 427.9"/>
<path stroke-width="4.8" d="M960.3 279.3 L965.1 291.9 L963.4 312.4 L964.9 332.1 L968.6 342.2 L962.7 363.1 L960.9 382.9 L965.3 400.6 L967.4 415.3 L960.7 426.8 L966.2 443.6"/>
<path stroke-width="4.8" d="M967.9 274.1 L970.0 290.1 L970.5 304.9 L972.2 318.6 L964.3 332.9 L972.1 346.7 L965.9 365.0 L969.6 376.3 L964.0 394.9 L970.8 409.3"/>
<path stroke-width="4.8" d="M968.2 285.5 L973.6 301.7 L969.6 323.7 L974.8 335.4 L967.7 354.0 L976.0 369.7 L971.9 385.0 L976.3 396.2 L971.9 410.6 L975.9 424.2"/>
<path stroke-width="4.8" d="M978.4 273.0 L978.6 289.0 L973.7 307.5 L975.8 323.4 L977.0 340.1 L978.5 355.1 L971.9 375.5 L971.9 394.7 L977.8 409.1 L980.0 419.4 L978.8 432.0"/>
<path stroke-width="4.8" d="M977.5 268.5 L981.4 289.9 L978.8 305.9 L974.5 325.6 L977.5 338.3 L983.3 356.7 L975.5 374.8 L983.8 395.1 L977.0 414.6 L975.2 434.0 L981.1 450.9"/>
<path stroke-width="4.8" d="M983.9 260.0 L980.7 275.4 L987.3 287.7 L979.1 308.9 L983.3 321.2 L983.6 341.0 L981.2 362.9 L979.5 377.7 L980.1 397.0 L987.0 409.9 L981.1 421.9"/>
<path stroke-width="4.8" d="M990.4 257.3 L985.1 278.2 L987.7 296.3 L988.2 315.6 L988.5 327.3 L989.8 339.2 L983.4 350.1 L989.8 366.1 L985.5 380.4 L988.5 392.2 L984.7 405.9"/>
<path stroke-width="4.8" d="M986.5 257.0 L993.7 269.6 L994.5 285.7 L990.3 302.4 L992.3 319.2 L987.9 331.8 L991.9 349.4 L989.7 365.5 L986.7 385.5 L992.0 396.9"/>
<path stroke-width="4.8" d="M992.1 260.2 L995.6 273.2 L989.4 290.1 L990.2 301.1 L989.4 315.2 L995.5 334.3 L991.8 351.0 L998.5 362.9 L992.1 378.4 L994.5 393.8 L994.4 414.6 L989.9 427.8 L997.2 448.2"/>
<path stroke-width="4.8" d="M1006.1 255.6 L1001.5 274.1 L1009.0 290.2 L1009.1 309.9 L1003.6 325.1 L1010.2 345.4 L1006.4 366.6 L1001.3 387.5 L1003.1 408.3 L1005.4 420.6 L1003.8 438.4"/>
<path stroke-width="4.8" d="M1009.9 280.6 L1012.0 299.8 L1009.4 320.8 L1006.2 332.6 L1008.7 350.6 L1010.8 361.2 L1014.6 378.4 L1008.9 391.9 L1012.2 412.9 L1009.2 424.7"/>
<path stroke-width="4.8" d="M1014.5 275.4 L1014.9 285.9 L1014.9 298.9 L1010.5 311.6 L1016.0 332.3 L1016.0 352.1 L1019.7 362.5 L1010.1 375.5 L1010.6 389.0 L1016.7 403.8 L1014.6 419.9"/>
<path stroke-width="4.8" d="M1021.0 265.9 L1022.6 280.9 L1016.1 293.4 L1017.7 314.3 L1020.7 329.8 L1019.6 350.9 L1021.1 372.4 L1020.3 390.0 L1022.9 403.0 L1023.2 415.7 L1017.6 434.5 L1022.0 446.3"/>
<path stroke-width="4.8" d="M1020.1 280.7 L1023.5 293.0 L1022.1 312.0 L1023.2 323.3 L1026.6 338.6 L1023.5 360.5 L1020.3 373.8 L1018.6 383.9 L1020.8 396.0 L1026.7 410.8"/>
<path stroke-width="4.8" d="M1032.5 281.0 L1025.4 302.4 L1032.5 317.0 L1026.2 338.8 L1030.7 351.9 L1032.5 362.7 L1030.6 375.2 L1027.4 392.6 L1025.1 413.0 L1025.0 431.5"/>
<path stroke-width="4.8" d="M1034.9 271.9 L1033.6 287.4 L1036.1 307.2 L1027.6 324.7 L1036.0 340.4 L1028.7 358.8 L1034.5 378.0 L1028.4 389.3 L1029.3 406.2 L1035.5 416.4 L1036.6 437.5"/>
<path stroke-width="4.8" d="M1039.0 285.4 L1036.4 299.6 L1038.6 321.4 L1038.7 335.6 L1036.6 350.5 L1041.2 361.2 L1031.4 371.8 L1038.3 384.8 L1032.4 403.7"/>
<path stroke-width="4.8" d="M1037.8 267.5 L1038.9 279.4 L1045.1 291.4 L1035.9 312.5 L1039.2 330.5 L1044.0 341.9 L1035.7 355.3 L1043.7 368.3 L1045.6 380.3 L1043.8 397.2 L1043.2 416.9 L1037.1 435.0"/>
<path stroke-width="4.8" d="M1049.3 250.2 L1042.6 269.4 L1046.5 291.1 L1045.4 301.9 L1049.0 315.8 L1045.2 326.9 L1046.3 339.5 L1041.7 351.4 L1045.6 371.2 L1040.4 386.5 L1046.0 397.3 L1048.6 410.9"/>
<path stroke-width="4.8" d="M1044.4 282.5 L1048.7 298.2 L1053.8 315.9 L1053.0 326.3 L1047.9 341.5 L1047.4 359.8 L1044.5 371.0 L1054.1 381.6 L1051.3 393.5 L1053.3 408.8 L1045.7 421.4 L1048.8 433.8 L1048.4 444.1"/>
<path stroke-width="4.8" d="M1057.0 273.1 L1057.0 285.9 L1057.9 307.6 L1055.7 321.0 L1057.1 333.4 L1051.5 349.9 L1058.2 362.0 L1049.8 373.7 L1057.3 394.4 L1056.0 404.7 L1056.9 425.6 L1057.5 437.0"/>
<path stroke-width="4.8" d="M1061.3 253.1 L1061.6 268.7 L1062.0 278.8 L1062.2 297.4 L1054.2 309.4 L1054.9 325.3 L1059.4 343.2 L1055.4 364.7 L1062.6 381.3 L1055.3 399.3 L1057.4 419.8"/>
<path stroke-width="4.8" d="M973.1 287.7 L968.9 308.0 L964.8 322.0 L965.7 338.7 L965.4 359.1 L967.0 373.3 L968.7 393.8 L963.3 405.2"/>
<path stroke-width="4.8" d="M972.9 297.9 L970.5 315.8 L977.1 331.6 L975.8 352.5 L977.3 365.7 L967.5 387.1 L970.1 397.9"/>
<path stroke-width="4.8" d="M974.3 294.1 L978.1 305.7 L978.7 325.9 L972.1 345.1 L981.4 359.1 L977.1 380.1 L980.2 396.0"/>
<path stroke-width="4.8" d="M982.7 314.7 L982.5 330.0 L980.7 351.1 L979.6 367.4 L980.7 387.8 L978.5 402.9"/>
<path stroke-width="4.8" d="M984.6 314.0 L981.0 326.3 L986.7 338.2 L989.6 355.8 L989.7 368.6 L988.5 389.6 L983.1 407.5"/>
<path stroke-width="4.8" d="M993.1 308.0 L992.0 328.2 L991.0 340.6 L986.4 351.0 L986.7 362.0 L987.0 376.7 L989.3 391.1"/>
<path stroke-width="4.8" d="M1008.9 287.5 L1011.3 309.2 L1015.5 326.0 L1016.2 337.3 L1008.1 352.7 L1015.2 366.3 L1015.8 380.7 L1015.7 401.1 L1014.6 418.6 L1015.9 437.9"/>
<path stroke-width="4.8" d="M1021.4 281.7 L1017.9 296.6 L1019.5 316.9 L1019.9 328.2 L1018.7 341.2 L1020.0 355.0 L1012.5 368.5 L1015.1 383.7 L1021.3 395.4 L1018.3 416.9 L1017.8 436.6"/>
<path stroke-width="4.8" d="M1016.1 299.0 L1021.6 318.9 L1020.4 335.8 L1023.8 354.9 L1023.5 373.1 L1024.2 392.7"/>
<path stroke-width="4.8" d="M1028.0 300.4 L1021.2 315.0 L1029.5 326.0 L1029.6 336.4 L1029.7 352.0 L1025.2 366.6 L1022.8 381.4 L1023.8 398.9"/>
<path stroke-width="4.8" d="M1024.8 284.6 L1027.1 303.2 L1029.6 313.6 L1029.3 334.3 L1028.4 345.2 L1034.6 363.9 L1030.2 374.9 L1029.1 385.9 L1030.9 406.2 L1028.6 423.8"/>
<path stroke-width="4.8" d="M1038.3 304.3 L1032.3 320.6 L1032.9 334.0 L1033.2 355.1 L1038.2 365.5 L1037.5 384.7 L1038.0 403.3 L1037.5 415.1"/>
<path stroke-width="4.8" d="M1034.8 318.4 L1039.9 334.4 L1038.4 354.6 L1035.9 375.3 L1036.3 385.8 L1039.0 398.5"/>
<path stroke-width="4.8" d="M1038.5 313.1 L1044.8 330.2 L1038.1 348.8 L1043.4 361.4 L1047.2 378.5 L1045.1 399.6 L1045.1 415.0"/>
<path stroke-width="4.8" d="M1047.8 286.9 L1043.5 299.7 L1048.8 314.6 L1042.6 334.0 L1043.5 344.2 L1046.1 358.1 L1044.1 371.7 L1048.4 390.3 L1046.6 404.9"/>
<path stroke-width="4.8" d="M1049.8 295.3 L1047.1 305.7 L1054.6 316.0 L1052.6 333.3 L1051.8 347.4 L1049.1 364.4 L1047.4 375.6 L1053.5 390.6 L1047.9 407.9"/>
<path stroke-width="4.8" d="M1060.6 283.3 L1056.5 298.5 L1053.5 315.3 L1055.3 330.7 L1055.3 343.6 L1054.3 360.9 L1059.8 379.2 L1058.6 395.6 L1059.2 416.8"/>
<path stroke-width="4.8" d="M1060.3 322.4 L1069.3 333.7 L1061.7 346.6 L1061.3 358.2 L1065.1 369.4 L1067.0 385.6"/>
<path stroke-width="4.8" d="M1068.1 300.4 L1068.1 316.8 L1069.7 337.8 L1072.8 351.7 L1069.1 368.6 L1067.7 380.8"/>
<path stroke-width="4.8" d="M1068.8 319.2 L1071.6 330.8 L1071.3 344.9 L1077.3 365.3 L1070.3 377.2 L1070.9 390.1 L1069.2 401.4"/>
<path stroke-width="4.8" d="M953.8 420.4 L952.5 441.8 L949.9 457.4 L948.4 469.7 L945.5 491.4 L947.1 513.0 L948.7 532.1"/>
<path stroke-width="4.8" d="M954.7 420.4 L954.6 436.5 L959.0 454.8 L954.0 465.3 L958.9 486.1 L953.5 497.6 L962.4 510.9 L961.7 523.5"/>
<path stroke-width="4.8" d="M962.9 407.1 L969.7 417.3 L961.3 433.5 L964.4 445.4 L969.0 464.7 L964.8 479.2 L964.7 493.9 L966.4 507.5 L968.7 519.1 L971.0 530.1"/>
<path stroke-width="4.8" d="M971.0 425.4 L969.7 437.3 L969.9 450.2 L976.2 466.4 L976.7 476.8 L978.8 490.7 L972.6 506.3 L977.1 516.7"/>
<path stroke-width="4.8" d="M1012.8 426.5 L1007.4 437.9 L1009.1 447.9"/>
<path stroke-width="4.8" d="M1021.9 420.1 L1019.7 438.1 L1013.8 456.5"/>
<path stroke-width="4.8" d="M1022.2 438.3 L1027.6 454.0 L1027.8 468.1 L1022.3 486.6"/>
<path stroke-width="4.8" d="M1039.4 413.4 L1038.7 425.2 L1043.2 443.1 L1040.1 459.9"/>
<path stroke-width="4.8" d="M1041.5 415.8 L1043.8 426.6 L1047.1 445.1"/>
<path stroke-width="4.8" d="M1056.1 423.1 L1055.9 441.1"/>
<path stroke-width="4.2" d="M854.4 305.9 L855.2 317.7 L846.7 335.9 L849.2 346.0 L849.7 365.3 L846.0 387.1 L850.8 404.8 L851.5 421.6"/>
<path stroke-width="4.2" d="M859.3 296.8 L856.5 312.9 L861.4 334.0 L858.1 345.0 L861.8 356.2 L859.4 370.7 L856.6 384.8"/>
<path stroke-width="4.2" d="M870.8 289.1 L865.3 310.2 L871.9 326.8 L872.4 345.0 L874.1 362.2 L867.4 379.8"/>
<path stroke-width="4.2" d="M875.8 290.3 L880.5 300.8 L877.2 321.0 L881.1 333.2 L880.1 350.8 L874.6 368.5 L883.8 383.8 L883.4 397.8"/>
<path stroke-width="4.2" d="M601.9 291.6 L604.5 311.2 L603.1 330.9 L605.5 351.8 L598.4 365.1"/>
<path stroke-width="4.2" d="M610.4 297.8 L610.9 310.8 L607.4 321.8 L613.1 335.5 L614.4 352.9 L614.5 371.6"/>
<path stroke-width="4.2" d="M622.5 293.7 L618.5 312.3 L621.0 331.7 L614.4 342.2 L617.2 353.1 L620.1 364.6"/>
<path d="M177.0 179.0 L188.0 150.0 L193.0 170.0 L200.0 164.0 L210.0 174.0 L218.0 168.0 L228.0 170.0 L238.0 164.0 L248.0 168.0 L251.0 136.0 L246.0 124.0 L240.0 102.0 L242.0 116.0 L250.0 128.0 L254.0 120.0 L259.0 128.0 L258.0 142.0 L265.0 146.0 L270.0 162.0 L276.0 166.0 L280.0 158.0 L278.0 144.0 L274.0 138.0 L284.0 136.0 L290.0 126.0 L284.0 120.0 L278.0 112.0 L275.0 102.0"/>
<path d="M294.0 126.0 L298.0 134.0 L304.0 136.0 L308.0 132.0 L310.0 118.0 L320.0 102.0 L324.0 110.0 L330.0 124.0 L338.0 122.0 L348.0 126.0 L354.0 136.0 L358.0 150.0 L362.0 164.0 L370.0 150.0 L380.0 144.0 L383.0 120.0 L385.0 102.0"/>
<path d="M393.0 100.0 L394.0 125.0 L395.0 150.0 L402.0 120.0 L408.0 154.0 L414.0 162.0 L416.0 130.0 L418.0 102.0"/>
<path d="M292.0 150.0 L298.0 147.0 L300.0 160.0 L297.0 182.0 L293.0 184.0 L291.0 165.0Z"/>
<path d="M263.0 146.0 L270.0 142.0 L276.0 150.0 L274.0 164.0 L268.0 166.0 L264.0 158.0Z"/>
<path stroke-width="6" d="M332.0 160.0 L333.0 172.0"/>
<path stroke-width="5" d="M342.0 167.0 L342.5 169.0"/>
<path stroke-width="6" d="M355.0 161.0 L356.0 171.0"/>
<path stroke-width="5" d="M348.0 164.0 L349.0 171.0"/>
<path d="M508.0 102.0 L510.0 130.0 L512.0 150.0 L518.0 190.0 L524.0 230.0 L530.0 270.0 L536.0 310.0 L540.0 350.0"/>
<path d="M538.0 218.0 L538.0 234.0"/>
<path d="M652.5 103.0 L657.0 109.0 L666.0 106.0 L675.0 115.0 L684.0 118.0 L690.0 133.0 L696.0 121.0 L702.0 103.0 L708.0 115.0 L711.0 142.0 L717.0 124.0 L726.0 118.0 L735.0 106.0 L744.0 121.0 L750.0 130.0 L759.0 139.0 L765.0 157.0 L771.0 166.0 L777.0 130.0 L783.0 115.0 L792.0 121.0 L798.0 130.0 L810.0 142.0 L819.0 118.0 L825.0 115.0 L831.0 139.0 L840.0 157.0 L846.0 142.0 L861.0 139.0 L873.0 136.0 L879.0 121.0 L882.0 100.0"/>
<path d="M885.0 154.0 L888.0 130.0 L892.5 106.0 L897.0 145.0 L898.5 175.0"/>
<path d="M915.0 148.0 L915.3 152.0"/>
<path d="M664.0 110.0 L672.0 128.0 L680.0 112.0 L690.0 120.0 L700.0 135.0 L706.0 118.0 L716.0 135.0 L728.0 126.0 L740.0 140.0 L752.0 122.0 L764.0 140.0 L776.0 150.0 L790.0 135.0 L806.0 150.0 L820.0 135.0 L836.0 148.0 L850.0 160.0 L862.0 145.0"/>
<path d="M660.0 151.0 L666.0 190.0 L675.0 199.0 L684.0 181.0 L693.0 187.0 L705.0 160.0 L714.0 187.0 L720.0 172.0 L729.0 202.0 L735.0 226.0 L741.0 169.0 L747.0 148.0 L753.0 139.0"/>
<path d="M942.0 102.0 L944.0 120.0 L950.0 128.0 L960.0 118.0 L963.0 124.0"/>
<path d="M972.0 110.0 L973.0 150.0 L976.0 210.0 L980.0 250.0 L984.0 190.0 L986.0 140.0 L990.0 114.0 L996.0 140.0 L1002.0 170.0 L1008.0 210.0 L1014.0 234.0 L1020.0 190.0 L1026.0 230.0 L1032.0 182.0 L1038.0 166.0 L1042.0 188.0 L1048.0 138.0 L1056.0 132.0 L1060.0 126.0 L1064.0 102.0"/>
<path d="M1060.0 244.0 L1064.0 190.0 L1070.0 208.0 L1075.0 190.0 L1080.0 202.0 L1090.0 218.0 L1100.0 220.0 L1110.0 208.0 L1120.0 188.0 L1128.0 182.0 L1138.0 190.0"/>
<path d="M1100.0 102.0 L1104.0 114.0 L1110.0 120.0 L1116.0 104.0 L1122.0 110.0 L1128.0 122.0 L1134.0 126.0 L1140.0 116.0"/>
<path stroke-width="5" d="M1100.0 132.0 L1100.5 134.0"/>
<path stroke-width="4.5" d="M1105.0 146.0 L1105.0 154.0"/>
<path stroke-width="4.5" d="M1135.0 145.0 L1135.0 155.0"/>
<path stroke-width="4.5" d="M1140.0 145.0 L1140.0 155.0"/>
<path d="M1076.0 264.0 L1080.0 230.0 L1086.0 222.0 L1094.0 240.0 L1104.0 250.0 L1112.0 234.0 L1120.0 228.0 L1128.0 215.0 L1138.0 206.0"/>
<path d="M1128.0 200.0 L1134.0 212.0 L1130.0 225.0 L1138.0 235.0 L1132.0 245.0 L1138.0 250.0"/>
<path d="M1096.0 402.0 L1100.0 360.0 L1104.0 330.0 L1112.0 280.0 L1120.0 242.0 L1130.0 235.0"/>
</g>
<rect x="1201.5" y="48.8" width="20.6" height="772.5" fill="url(#cb)"/>
<rect x="129.3" y="48.8" width="1071.5" height="773.2" fill="none" stroke="#000" stroke-width="2.1"/>
<line x1="118.30000000000001" y1="84.4" x2="129.3" y2="84.4" stroke="#000" stroke-width="2.1"/>
<text x="108.3" y="96.6" font-size="30.5" text-anchor="end">0</text>
<line x1="118.30000000000001" y1="248.9" x2="129.3" y2="248.9" stroke="#000" stroke-width="2.1"/>
<text x="108.3" y="261.1" font-size="30.5" text-anchor="end">50</text>
<line x1="118.30000000000001" y1="413.4" x2="129.3" y2="413.4" stroke="#000" stroke-width="2.1"/>
<text x="108.3" y="425.6" font-size="30.5" text-anchor="end">100</text>
<line x1="118.30000000000001" y1="577.8" x2="129.3" y2="577.8" stroke="#000" stroke-width="2.1"/>
<text x="108.3" y="590.0" font-size="30.5" text-anchor="end">150</text>
<line x1="118.30000000000001" y1="742.3" x2="129.3" y2="742.3" stroke="#000" stroke-width="2.1"/>
<text x="108.3" y="754.5" font-size="30.5" text-anchor="end">200</text>
<line x1="159.5" y1="822.0" x2="159.5" y2="833.0" stroke="#000" stroke-width="2.1"/>
<text transform="translate(217.5,864) rotate(-30)" font-size="30.5" text-anchor="end">03-2011</text>
<line x1="391.5" y1="822.0" x2="391.5" y2="833.0" stroke="#000" stroke-width="2.1"/>
<text transform="translate(449.5,864) rotate(-30)" font-size="30.5" text-anchor="end">09-2011</text>
<line x1="621.4" y1="822.0" x2="621.4" y2="833.0" stroke="#000" stroke-width="2.1"/>
<text transform="translate(679.4,864) rotate(-30)" font-size="30.5" text-anchor="end">04-2012</text>
<line x1="852.3" y1="822.0" x2="852.3" y2="833.0" stroke="#000" stroke-width="2.1"/>
<text transform="translate(910.3,864) rotate(-30)" font-size="30.5" text-anchor="end">10-2012</text>
<line x1="1082.5" y1="822.0" x2="1082.5" y2="833.0" stroke="#000" stroke-width="2.1"/>
<text transform="translate(1140.5,864) rotate(-30)" font-size="30.5" text-anchor="end">05-2013</text>
<text transform="translate(1235.3,167.9) scale(0.915,1)" font-size="27.8">300.0</text>
<text transform="translate(1235.3,280.9) scale(0.915,1)" font-size="27.8">250.0</text>
<text transform="translate(1235.3,393.9) scale(0.915,1)" font-size="27.8">200.0</text>
<text transform="translate(1235.3,506.9) scale(0.915,1)" font-size="27.8">150.0</text>
<text transform="translate(1235.3,619.9) scale(0.915,1)" font-size="27.8">100.0</text>
<text transform="translate(1235.3,732.9) scale(0.915,1)" font-size="27.8">50.0</text>
<text transform="translate(1341.5,436) rotate(-90)" font-size="31" text-anchor="middle">dissolved oxygen (micromole/kg)</text>
<text transform="translate(27.3,436) rotate(-90)" font-size="30.8" text-anchor="middle">sea water pressure, equals 0 at sea-level (decibar)</text>
<text x="663.4" y="28.3" font-size="36.8" text-anchor="middle">Argo float 6900804 between 19/03/2011 and 01/07/2013</text>
<text x="664.5" y="966.8" font-size="30.5" text-anchor="middle">date</text>
<text x="1335.5" y="956" font-size="24.6" text-anchor="end">© coriolis data centre - 04/08/2021</text>
</svg>
</body></html>
